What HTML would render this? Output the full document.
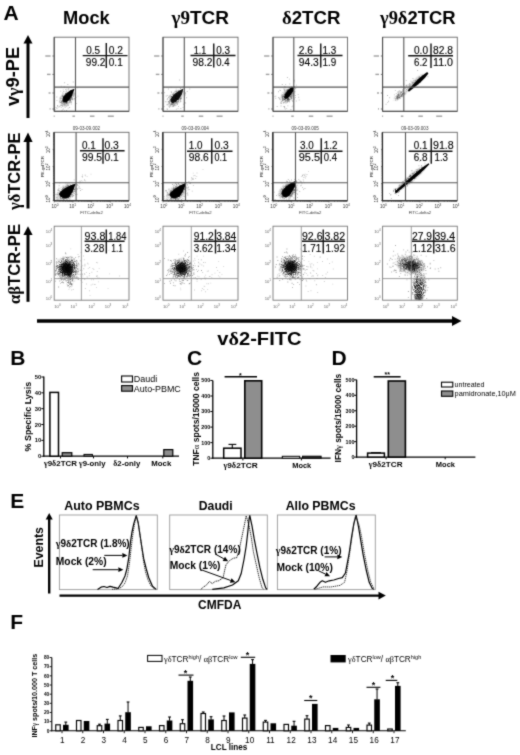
<!DOCTYPE html>
<html><head><meta charset="utf-8"><style>
html,body{margin:0;padding:0;background:#fff;}
svg{display:block;will-change:transform;}
</style></head><body>
<svg width="520" height="755" viewBox="0 0 520 755">
<defs><filter id="grain" color-interpolation-filters="sRGB" x="-10%" y="-10%" width="120%" height="120%"><feTurbulence type="fractalNoise" baseFrequency="1.1" numOctaves="1" seed="4" result="n"/><feColorMatrix in="n" type="matrix" values="0 0 0 0 0  0 0 0 0 0  0 0 0 0 0  0 0 0 4 -1.5" result="m"/><feComposite in="SourceGraphic" in2="m" operator="in"/></filter><filter id="soft" color-interpolation-filters="sRGB" x="0" y="0" width="520" height="755" filterUnits="userSpaceOnUse"><feConvolveMatrix order="3" kernelMatrix="0.03 0.09 0.03 0.09 0.52 0.09 0.03 0.09 0.03" edgeMode="duplicate"/></filter><filter id="bl4" x="-50%" y="-50%" width="200%" height="200%"><feGaussianBlur stdDeviation="0.4"/></filter><filter id="bl5" x="-50%" y="-50%" width="200%" height="200%"><feGaussianBlur stdDeviation="0.5"/></filter><filter id="bl6" x="-50%" y="-50%" width="200%" height="200%"><feGaussianBlur stdDeviation="0.6"/></filter><filter id="bl7" x="-50%" y="-50%" width="200%" height="200%"><feGaussianBlur stdDeviation="0.7"/></filter><filter id="bl10" x="-50%" y="-50%" width="200%" height="200%"><feGaussianBlur stdDeviation="1.0"/></filter><filter id="bl12" x="-50%" y="-50%" width="200%" height="200%"><feGaussianBlur stdDeviation="1.2"/></filter><radialGradient id="rg"><stop offset="0" stop-color="#000" stop-opacity="1"/><stop offset="0.5" stop-color="#000" stop-opacity="0.9"/><stop offset="0.75" stop-color="#000" stop-opacity="0.45"/><stop offset="1" stop-color="#000" stop-opacity="0"/></radialGradient><clipPath id="cp00"><rect x="54.2" y="37.2" width="74.8" height="74.1"/></clipPath><clipPath id="cp01"><rect x="163" y="37.2" width="75" height="74.1"/></clipPath><clipPath id="cp02"><rect x="273" y="37.2" width="74.5" height="74.1"/></clipPath><clipPath id="cp03"><rect x="382.6" y="37.2" width="74.69999999999999" height="74.1"/></clipPath><clipPath id="cp10"><rect x="54.2" y="132.3" width="74.8" height="68.19999999999999"/></clipPath><clipPath id="cp11"><rect x="163" y="132.3" width="75" height="68.19999999999999"/></clipPath><clipPath id="cp12"><rect x="273" y="132.3" width="74.5" height="68.19999999999999"/></clipPath><clipPath id="cp13"><rect x="382.6" y="132.3" width="74.69999999999999" height="68.19999999999999"/></clipPath><clipPath id="cp20"><rect x="54.2" y="226.2" width="74.8" height="74.0"/></clipPath><clipPath id="cp21"><rect x="163" y="226.2" width="75" height="74.0"/></clipPath><clipPath id="cp22"><rect x="273" y="226.2" width="74.5" height="74.0"/></clipPath><clipPath id="cp23"><rect x="382.6" y="226.2" width="74.69999999999999" height="74.0"/></clipPath></defs>
<rect width="520" height="755" fill="#fff"/>
<g filter="url(#soft)">
<rect width="520" height="755" fill="#fff"/>
<text x="3.6" y="19.9" font-size="21" text-anchor="start" fill="#000"><tspan style='font-family:"Liberation Sans", sans-serif;font-weight:bold;'>A</tspan></text>
<text x="63" y="24" font-size="18" text-anchor="start" fill="#000" textLength="46.7" lengthAdjust="spacingAndGlyphs"><tspan style='font-family:"Liberation Sans", sans-serif;font-weight:bold;'>Mock</tspan></text>
<text x="171.5" y="24" font-size="18" text-anchor="start" fill="#000" textLength="57.5" lengthAdjust="spacingAndGlyphs"><tspan style='font-family:"Liberation Serif", serif;font-weight:bold;'>γ9</tspan><tspan style='font-family:"Liberation Sans", sans-serif;font-weight:bold;'>TCR</tspan></text>
<text x="282" y="24" font-size="18" text-anchor="start" fill="#000" textLength="58.5" lengthAdjust="spacingAndGlyphs"><tspan style='font-family:"Liberation Serif", serif;font-weight:bold;'>δ</tspan><tspan style='font-family:"Liberation Sans", sans-serif;font-weight:bold;'>2TCR</tspan></text>
<text x="380" y="24" font-size="18" text-anchor="start" fill="#000" textLength="75.6" lengthAdjust="spacingAndGlyphs"><tspan style='font-family:"Liberation Serif", serif;font-weight:bold;'>γ9δ</tspan><tspan style='font-family:"Liberation Sans", sans-serif;font-weight:bold;'>2TCR</tspan></text>
<text x="18.8" y="106" font-size="17.5" text-anchor="start" fill="#000" textLength="59" lengthAdjust="spacingAndGlyphs" transform="rotate(-90 18.8 106)"><tspan style='font-family:"Liberation Sans", sans-serif;font-weight:bold;'>v</tspan><tspan style='font-family:"Liberation Serif", serif;font-weight:bold;'>γ</tspan><tspan style='font-family:"Liberation Sans", sans-serif;font-weight:bold;'>9-PE</tspan></text>
<text x="19.9" y="210" font-size="16.5" text-anchor="start" fill="#000" textLength="77.4" lengthAdjust="spacingAndGlyphs" transform="rotate(-90 19.9 210)"><tspan style='font-family:"Liberation Serif", serif;font-weight:bold;'>γδ</tspan><tspan style='font-family:"Liberation Sans", sans-serif;font-weight:bold;'>TCR-PE</tspan></text>
<text x="19.9" y="304" font-size="16.5" text-anchor="start" fill="#000" textLength="80" lengthAdjust="spacingAndGlyphs" transform="rotate(-90 19.9 304)"><tspan style='font-family:"Liberation Serif", serif;font-weight:bold;'>αβ</tspan><tspan style='font-family:"Liberation Sans", sans-serif;font-weight:bold;'>TCR-PE</tspan></text>
<line x1="28" y1="42.5" x2="28" y2="118" stroke="#000" stroke-width="3"/>
<polygon points="28.0,35.0 23.5,43.5 32.5,43.5" fill="#000"/>
<line x1="28" y1="141" x2="28" y2="208.5" stroke="#000" stroke-width="3"/>
<polygon points="28.0,132.6 23.4,142.0 32.6,142.0" fill="#000"/>
<line x1="28" y1="234" x2="28" y2="301.8" stroke="#000" stroke-width="3"/>
<polygon points="28.0,226.3 23.4,235.0 32.6,235.0" fill="#000"/>
<line x1="37" y1="321" x2="453" y2="321" stroke="#000" stroke-width="3.4"/>
<polygon points="461.5,321.0 452.0,316.0 452.0,326.0" fill="#000"/>
<text x="217.3" y="344.7" font-size="18.5" text-anchor="start" fill="#000" textLength="84.3" lengthAdjust="spacingAndGlyphs"><tspan style='font-family:"Liberation Sans", sans-serif;font-weight:bold;'>v</tspan><tspan style='font-family:"Liberation Serif", serif;font-weight:bold;'>δ</tspan><tspan style='font-family:"Liberation Sans", sans-serif;font-weight:bold;'>2-FITC</tspan></text>
<g clip-path="url(#cp00)">
<path d="M66.6 101.5h0.9v0.9h-0.9zM63.8 99.1h0.9v0.9h-0.9zM61.3 102.9h0.9v0.9h-0.9zM71.8 94.3h0.9v0.9h-0.9zM70.9 94.2h0.9v0.9h-0.9zM68.0 97.3h0.9v0.9h-0.9zM62.1 109.7h0.9v0.9h-0.9zM69.6 97.6h0.9v0.9h-0.9zM60.6 102.0h0.9v0.9h-0.9zM66.9 97.1h0.9v0.9h-0.9zM65.6 94.3h0.9v0.9h-0.9zM68.4 98.3h0.9v0.9h-0.9zM69.2 107.0h0.9v0.9h-0.9zM72.3 99.3h0.9v0.9h-0.9zM60.7 99.9h0.9v0.9h-0.9zM64.0 100.2h0.9v0.9h-0.9zM69.2 96.3h0.9v0.9h-0.9zM60.6 98.4h0.9v0.9h-0.9zM68.0 104.9h0.9v0.9h-0.9zM63.4 103.6h0.9v0.9h-0.9zM62.3 92.5h0.9v0.9h-0.9zM70.6 102.2h0.9v0.9h-0.9zM56.5 108.1h0.9v0.9h-0.9zM62.5 97.0h0.9v0.9h-0.9zM67.6 96.1h0.9v0.9h-0.9zM62.8 108.6h0.9v0.9h-0.9zM71.8 98.0h0.9v0.9h-0.9zM72.9 92.5h0.9v0.9h-0.9zM61.7 94.5h0.9v0.9h-0.9zM66.1 93.9h0.9v0.9h-0.9zM59.5 97.6h0.9v0.9h-0.9zM60.0 102.2h0.9v0.9h-0.9zM63.8 86.5h0.9v0.9h-0.9zM60.8 106.9h0.9v0.9h-0.9zM73.7 93.1h0.9v0.9h-0.9zM64.6 94.9h0.9v0.9h-0.9zM64.7 107.2h0.9v0.9h-0.9zM70.8 93.6h0.9v0.9h-0.9zM68.3 98.8h0.9v0.9h-0.9zM74.4 92.4h0.9v0.9h-0.9zM69.8 97.7h0.9v0.9h-0.9zM64.0 110.4h0.9v0.9h-0.9zM71.5 95.4h0.9v0.9h-0.9zM55.6 107.1h0.9v0.9h-0.9zM62.8 89.4h0.9v0.9h-0.9zM68.7 102.6h0.9v0.9h-0.9zM66.2 110.0h0.9v0.9h-0.9zM67.5 95.6h0.9v0.9h-0.9zM69.4 99.0h0.9v0.9h-0.9zM70.3 101.4h0.9v0.9h-0.9zM61.7 101.0h0.9v0.9h-0.9zM70.1 93.6h0.9v0.9h-0.9zM65.6 105.9h0.9v0.9h-0.9zM70.2 90.1h0.9v0.9h-0.9zM59.7 105.4h0.9v0.9h-0.9zM64.1 98.7h0.9v0.9h-0.9zM67.9 88.8h0.9v0.9h-0.9zM66.4 88.8h0.9v0.9h-0.9zM64.8 104.6h0.9v0.9h-0.9zM73.4 95.4h0.9v0.9h-0.9zM67.7 97.4h0.9v0.9h-0.9zM68.4 99.6h0.9v0.9h-0.9zM66.1 100.5h0.9v0.9h-0.9zM68.1 95.9h0.9v0.9h-0.9zM70.9 96.5h0.9v0.9h-0.9zM75.1 89.5h0.9v0.9h-0.9zM62.8 99.9h0.9v0.9h-0.9zM69.0 101.4h0.9v0.9h-0.9zM65.8 101.6h0.9v0.9h-0.9zM64.2 82.3h0.9v0.9h-0.9zM62.1 105.2h0.9v0.9h-0.9zM68.3 97.4h0.9v0.9h-0.9zM66.4 102.8h0.9v0.9h-0.9zM65.1 95.9h0.9v0.9h-0.9zM76.9 87.4h0.9v0.9h-0.9zM63.2 101.3h0.9v0.9h-0.9zM64.7 99.8h0.9v0.9h-0.9zM65.8 90.4h0.9v0.9h-0.9zM68.9 101.8h0.9v0.9h-0.9zM74.5 98.6h0.9v0.9h-0.9zM57.7 106.5h0.9v0.9h-0.9zM66.6 102.3h0.9v0.9h-0.9zM60.8 85.7h0.9v0.9h-0.9zM65.1 89.2h0.9v0.9h-0.9zM63.3 91.1h0.9v0.9h-0.9zM70.7 101.2h0.9v0.9h-0.9zM65.9 100.1h0.9v0.9h-0.9zM69.5 95.1h0.9v0.9h-0.9zM70.8 103.5h0.9v0.9h-0.9zM69.0 92.6h0.9v0.9h-0.9zM72.8 81.6h0.9v0.9h-0.9zM68.6 93.4h0.9v0.9h-0.9zM68.8 100.1h0.9v0.9h-0.9zM68.9 99.4h0.9v0.9h-0.9zM64.9 93.0h0.9v0.9h-0.9zM56.5 99.9h0.9v0.9h-0.9zM73.5 94.4h0.9v0.9h-0.9zM68.4 88.7h0.9v0.9h-0.9zM61.8 95.6h0.9v0.9h-0.9zM74.5 99.3h0.9v0.9h-0.9zM67.7 107.7h0.9v0.9h-0.9zM69.2 93.3h0.9v0.9h-0.9zM63.3 97.6h0.9v0.9h-0.9zM68.9 97.9h0.9v0.9h-0.9zM68.3 88.3h0.9v0.9h-0.9zM75.6 97.2h0.9v0.9h-0.9zM71.0 90.9h0.9v0.9h-0.9zM66.4 105.4h0.9v0.9h-0.9zM66.7 98.6h0.9v0.9h-0.9zM70.6 90.8h0.9v0.9h-0.9zM55.2 109.4h0.9v0.9h-0.9zM61.2 110.5h0.9v0.9h-0.9zM64.9 95.5h0.9v0.9h-0.9zM68.7 101.2h0.9v0.9h-0.9zM70.8 102.1h0.9v0.9h-0.9zM69.2 102.0h0.9v0.9h-0.9zM77.5 95.7h0.9v0.9h-0.9zM66.2 104.7h0.9v0.9h-0.9zM60.8 105.0h0.9v0.9h-0.9zM64.9 99.7h0.9v0.9h-0.9zM64.2 102.5h0.9v0.9h-0.9zM73.2 89.8h0.9v0.9h-0.9zM71.5 98.9h0.9v0.9h-0.9zM60.6 96.3h0.9v0.9h-0.9zM67.3 104.6h0.9v0.9h-0.9zM57.0 105.5h0.9v0.9h-0.9zM72.7 95.9h0.9v0.9h-0.9zM68.7 101.0h0.9v0.9h-0.9zM62.3 94.6h0.9v0.9h-0.9zM57.2 105.0h0.9v0.9h-0.9zM67.5 92.5h0.9v0.9h-0.9zM59.4 101.2h0.9v0.9h-0.9zM59.2 106.3h0.9v0.9h-0.9zM62.3 105.8h0.9v0.9h-0.9zM56.4 96.6h0.9v0.9h-0.9zM67.8 94.3h0.9v0.9h-0.9zM65.4 96.0h0.9v0.9h-0.9zM71.6 96.9h0.9v0.9h-0.9zM69.6 96.3h0.9v0.9h-0.9zM73.5 93.8h0.9v0.9h-0.9zM60.3 90.7h0.9v0.9h-0.9zM74.0 97.9h0.9v0.9h-0.9zM62.9 99.0h0.9v0.9h-0.9zM67.4 84.0h0.9v0.9h-0.9zM76.2 103.2h0.9v0.9h-0.9zM64.5 105.4h0.9v0.9h-0.9zM73.0 88.8h0.9v0.9h-0.9zM71.2 98.5h0.9v0.9h-0.9zM61.8 103.2h0.9v0.9h-0.9zM69.9 99.6h0.9v0.9h-0.9zM65.0 98.4h0.9v0.9h-0.9z" fill="#000" fill-opacity="0.3"/>
<ellipse cx="66.8" cy="98.3" rx="10.5" ry="6.5" fill="url(#rg)" opacity="0.8" transform="rotate(-50 66.8 98.3)" filter="url(#grain)"/>
<polygon points="74.6,88.8 70.5,90.3 66.5,93.2 63.2,96.8 62.5,100.0 63.5,102.3 66.2,102.5 69.2,100.0 72.2,95.2 74.6,88.8" fill="#000" filter="url(#bl5)"/>
</g>
<rect x="54.2" y="37.2" width="74.8" height="74.1" fill="none" stroke="#666" stroke-width="0.9"/>
<line x1="75.5" y1="37.2" x2="75.5" y2="111.3" stroke="#555" stroke-width="1.1"/>
<line x1="54.2" y1="87.1" x2="129" y2="87.1" stroke="#555" stroke-width="1.1"/>
<g clip-path="url(#cp01)">
<path d="M169.1 103.2h0.9v0.9h-0.9zM178.5 94.8h0.9v0.9h-0.9zM168.1 101.0h0.9v0.9h-0.9zM189.3 88.6h0.9v0.9h-0.9zM167.9 88.5h0.9v0.9h-0.9zM178.7 97.2h0.9v0.9h-0.9zM182.8 91.6h0.9v0.9h-0.9zM176.1 100.8h0.9v0.9h-0.9zM173.3 95.4h0.9v0.9h-0.9zM186.2 97.3h0.9v0.9h-0.9zM166.5 104.3h0.9v0.9h-0.9zM176.3 98.1h0.9v0.9h-0.9zM169.5 98.3h0.9v0.9h-0.9zM186.7 91.1h0.9v0.9h-0.9zM164.9 101.3h0.9v0.9h-0.9zM184.9 93.1h0.9v0.9h-0.9zM184.7 92.0h0.9v0.9h-0.9zM171.9 104.2h0.9v0.9h-0.9zM176.1 100.8h0.9v0.9h-0.9zM171.1 102.4h0.9v0.9h-0.9zM177.7 97.7h0.9v0.9h-0.9zM177.8 96.4h0.9v0.9h-0.9zM176.0 102.9h0.9v0.9h-0.9zM171.8 96.5h0.9v0.9h-0.9zM172.0 102.2h0.9v0.9h-0.9zM174.6 100.0h0.9v0.9h-0.9zM175.1 99.5h0.9v0.9h-0.9zM169.5 96.2h0.9v0.9h-0.9zM179.9 99.8h0.9v0.9h-0.9zM175.6 96.3h0.9v0.9h-0.9zM172.9 94.0h0.9v0.9h-0.9zM167.0 108.8h0.9v0.9h-0.9zM173.3 105.8h0.9v0.9h-0.9zM175.9 108.7h0.9v0.9h-0.9zM168.1 97.1h0.9v0.9h-0.9zM173.3 104.4h0.9v0.9h-0.9zM177.1 97.0h0.9v0.9h-0.9zM183.0 93.4h0.9v0.9h-0.9zM176.5 100.8h0.9v0.9h-0.9zM184.6 93.3h0.9v0.9h-0.9zM174.8 90.8h0.9v0.9h-0.9zM176.5 101.8h0.9v0.9h-0.9zM177.1 103.5h0.9v0.9h-0.9zM180.1 98.5h0.9v0.9h-0.9zM182.6 107.2h0.9v0.9h-0.9zM178.8 92.1h0.9v0.9h-0.9zM184.0 105.8h0.9v0.9h-0.9zM176.2 103.2h0.9v0.9h-0.9zM178.5 94.0h0.9v0.9h-0.9zM170.4 105.5h0.9v0.9h-0.9zM179.9 100.4h0.9v0.9h-0.9zM177.7 95.1h0.9v0.9h-0.9zM179.9 96.2h0.9v0.9h-0.9zM175.5 98.1h0.9v0.9h-0.9zM175.9 102.2h0.9v0.9h-0.9zM168.0 102.6h0.9v0.9h-0.9zM169.4 94.9h0.9v0.9h-0.9zM165.7 95.6h0.9v0.9h-0.9zM173.7 104.1h0.9v0.9h-0.9zM176.6 96.0h0.9v0.9h-0.9zM168.6 96.2h0.9v0.9h-0.9zM183.7 91.2h0.9v0.9h-0.9zM175.8 91.0h0.9v0.9h-0.9zM167.3 94.9h0.9v0.9h-0.9zM180.9 97.7h0.9v0.9h-0.9zM166.6 108.5h0.9v0.9h-0.9zM170.8 90.9h0.9v0.9h-0.9zM167.0 98.3h0.9v0.9h-0.9zM175.5 99.6h0.9v0.9h-0.9zM179.5 97.8h0.9v0.9h-0.9zM184.7 94.6h0.9v0.9h-0.9zM167.4 104.3h0.9v0.9h-0.9zM166.4 101.4h0.9v0.9h-0.9zM174.2 99.4h0.9v0.9h-0.9zM170.9 92.1h0.9v0.9h-0.9zM169.4 105.3h0.9v0.9h-0.9zM172.6 99.2h0.9v0.9h-0.9zM171.6 97.2h0.9v0.9h-0.9zM178.6 96.4h0.9v0.9h-0.9zM171.8 97.6h0.9v0.9h-0.9zM164.2 92.3h0.9v0.9h-0.9zM170.7 104.1h0.9v0.9h-0.9zM169.1 107.2h0.9v0.9h-0.9zM170.2 94.4h0.9v0.9h-0.9zM172.4 99.4h0.9v0.9h-0.9zM178.5 98.4h0.9v0.9h-0.9zM171.4 96.8h0.9v0.9h-0.9zM173.7 99.6h0.9v0.9h-0.9zM178.5 96.1h0.9v0.9h-0.9zM166.8 98.9h0.9v0.9h-0.9zM170.4 98.8h0.9v0.9h-0.9zM169.6 104.4h0.9v0.9h-0.9zM172.9 101.8h0.9v0.9h-0.9zM175.2 95.2h0.9v0.9h-0.9zM182.8 86.3h0.9v0.9h-0.9zM179.4 93.8h0.9v0.9h-0.9zM170.6 86.7h0.9v0.9h-0.9zM172.3 103.5h0.9v0.9h-0.9zM185.2 102.5h0.9v0.9h-0.9zM180.3 101.0h0.9v0.9h-0.9zM180.9 97.8h0.9v0.9h-0.9zM176.0 96.0h0.9v0.9h-0.9zM172.8 93.4h0.9v0.9h-0.9zM175.7 90.2h0.9v0.9h-0.9zM183.0 103.7h0.9v0.9h-0.9zM173.7 100.2h0.9v0.9h-0.9zM179.3 93.2h0.9v0.9h-0.9zM172.1 103.9h0.9v0.9h-0.9zM179.4 98.0h0.9v0.9h-0.9zM177.6 107.9h0.9v0.9h-0.9zM181.3 90.6h0.9v0.9h-0.9zM174.1 96.5h0.9v0.9h-0.9zM177.7 89.8h0.9v0.9h-0.9zM175.5 94.2h0.9v0.9h-0.9zM174.2 104.6h0.9v0.9h-0.9zM179.9 92.2h0.9v0.9h-0.9zM174.6 104.7h0.9v0.9h-0.9zM175.4 100.1h0.9v0.9h-0.9zM184.6 94.4h0.9v0.9h-0.9zM180.4 108.1h0.9v0.9h-0.9zM177.3 101.2h0.9v0.9h-0.9zM171.7 102.2h0.9v0.9h-0.9zM175.7 88.7h0.9v0.9h-0.9zM177.6 91.7h0.9v0.9h-0.9zM173.2 98.5h0.9v0.9h-0.9zM170.2 96.6h0.9v0.9h-0.9zM169.5 94.9h0.9v0.9h-0.9zM175.3 100.2h0.9v0.9h-0.9zM175.6 96.0h0.9v0.9h-0.9zM171.4 104.1h0.9v0.9h-0.9zM178.1 105.9h0.9v0.9h-0.9zM177.2 94.8h0.9v0.9h-0.9zM170.1 99.5h0.9v0.9h-0.9zM169.5 102.8h0.9v0.9h-0.9zM177.5 99.0h0.9v0.9h-0.9zM184.2 102.0h0.9v0.9h-0.9zM171.7 102.6h0.9v0.9h-0.9zM179.2 79.6h0.9v0.9h-0.9zM173.0 102.1h0.9v0.9h-0.9zM176.6 99.4h0.9v0.9h-0.9zM174.8 101.3h0.9v0.9h-0.9zM177.4 100.9h0.9v0.9h-0.9zM163.7 106.2h0.9v0.9h-0.9zM170.9 96.1h0.9v0.9h-0.9zM172.5 106.1h0.9v0.9h-0.9zM174.1 104.1h0.9v0.9h-0.9zM178.6 96.1h0.9v0.9h-0.9zM176.2 96.1h0.9v0.9h-0.9zM168.7 106.1h0.9v0.9h-0.9zM174.5 95.2h0.9v0.9h-0.9zM176.7 101.6h0.9v0.9h-0.9zM173.2 105.3h0.9v0.9h-0.9zM180.1 88.0h0.9v0.9h-0.9zM174.6 97.9h0.9v0.9h-0.9z" fill="#000" fill-opacity="0.3"/>
<ellipse cx="175.5" cy="98.5" rx="10.5" ry="6.5" fill="url(#rg)" opacity="0.8" transform="rotate(-50 175.5 98.5)" filter="url(#grain)"/>
<polygon points="183.5,88.6 178.5,91.0 174.0,94.5 171.0,98.5 170.5,101.5 172.5,103.0 175.5,102.0 179.0,98.5 182.0,94.0 183.5,88.6" fill="#000" filter="url(#bl7)" opacity="0.9"/>
</g>
<rect x="163" y="37.2" width="75" height="74.1" fill="none" stroke="#666" stroke-width="0.9"/>
<line x1="184.3" y1="37.2" x2="184.3" y2="111.3" stroke="#555" stroke-width="1.1"/>
<line x1="163" y1="87.1" x2="238" y2="87.1" stroke="#555" stroke-width="1.1"/>
<g clip-path="url(#cp02)">
<path d="M294.3 88.5h0.9v0.9h-0.9zM288.1 89.0h0.9v0.9h-0.9zM286.8 95.5h0.9v0.9h-0.9zM284.8 108.5h0.9v0.9h-0.9zM284.4 86.0h0.9v0.9h-0.9zM289.5 91.3h0.9v0.9h-0.9zM290.0 94.2h0.9v0.9h-0.9zM280.1 102.5h0.9v0.9h-0.9zM290.9 86.3h0.9v0.9h-0.9zM278.0 96.9h0.9v0.9h-0.9zM283.2 102.6h0.9v0.9h-0.9zM295.3 88.0h0.9v0.9h-0.9zM295.8 100.5h0.9v0.9h-0.9zM282.5 96.2h0.9v0.9h-0.9zM291.0 94.3h0.9v0.9h-0.9zM278.7 97.4h0.9v0.9h-0.9zM289.0 94.7h0.9v0.9h-0.9zM280.9 101.5h0.9v0.9h-0.9zM286.4 99.5h0.9v0.9h-0.9zM286.2 95.8h0.9v0.9h-0.9zM289.2 100.2h0.9v0.9h-0.9zM291.3 87.4h0.9v0.9h-0.9zM287.7 89.0h0.9v0.9h-0.9zM289.9 97.2h0.9v0.9h-0.9zM291.7 86.7h0.9v0.9h-0.9zM287.3 96.4h0.9v0.9h-0.9zM280.9 103.1h0.9v0.9h-0.9zM285.5 99.9h0.9v0.9h-0.9zM275.4 95.7h0.9v0.9h-0.9zM288.0 96.0h0.9v0.9h-0.9zM287.8 100.7h0.9v0.9h-0.9zM283.7 95.2h0.9v0.9h-0.9zM283.3 88.6h0.9v0.9h-0.9zM284.1 98.9h0.9v0.9h-0.9zM289.8 90.7h0.9v0.9h-0.9zM285.9 92.1h0.9v0.9h-0.9zM294.0 98.6h0.9v0.9h-0.9zM292.5 105.6h0.9v0.9h-0.9zM284.4 98.8h0.9v0.9h-0.9zM291.2 97.4h0.9v0.9h-0.9zM274.5 95.9h0.9v0.9h-0.9zM292.2 94.6h0.9v0.9h-0.9zM298.7 99.6h0.9v0.9h-0.9zM288.7 95.1h0.9v0.9h-0.9zM292.0 91.8h0.9v0.9h-0.9zM289.3 83.5h0.9v0.9h-0.9zM288.9 90.3h0.9v0.9h-0.9zM298.3 96.8h0.9v0.9h-0.9zM286.0 94.8h0.9v0.9h-0.9zM282.0 95.7h0.9v0.9h-0.9zM286.6 100.5h0.9v0.9h-0.9zM287.3 95.5h0.9v0.9h-0.9zM289.5 98.9h0.9v0.9h-0.9zM288.4 92.5h0.9v0.9h-0.9zM289.1 91.7h0.9v0.9h-0.9zM287.4 105.4h0.9v0.9h-0.9zM285.4 90.4h0.9v0.9h-0.9zM292.5 90.9h0.9v0.9h-0.9zM286.3 107.9h0.9v0.9h-0.9zM291.4 96.3h0.9v0.9h-0.9zM287.2 94.0h0.9v0.9h-0.9zM284.1 106.1h0.9v0.9h-0.9zM286.0 94.5h0.9v0.9h-0.9zM288.6 93.9h0.9v0.9h-0.9zM288.4 91.0h0.9v0.9h-0.9zM279.2 89.7h0.9v0.9h-0.9zM287.6 99.5h0.9v0.9h-0.9zM291.0 87.6h0.9v0.9h-0.9zM292.0 100.5h0.9v0.9h-0.9zM288.2 99.2h0.9v0.9h-0.9zM293.9 87.0h0.9v0.9h-0.9zM289.4 87.2h0.9v0.9h-0.9zM287.5 94.2h0.9v0.9h-0.9zM291.4 98.0h0.9v0.9h-0.9zM294.2 81.4h0.9v0.9h-0.9zM286.4 99.8h0.9v0.9h-0.9zM284.4 102.2h0.9v0.9h-0.9zM288.3 91.8h0.9v0.9h-0.9zM283.6 88.4h0.9v0.9h-0.9zM284.6 87.3h0.9v0.9h-0.9zM282.2 97.5h0.9v0.9h-0.9zM288.3 99.9h0.9v0.9h-0.9zM285.9 93.9h0.9v0.9h-0.9zM294.7 97.1h0.9v0.9h-0.9zM288.2 96.5h0.9v0.9h-0.9zM292.9 89.9h0.9v0.9h-0.9zM290.5 109.0h0.9v0.9h-0.9zM288.9 78.7h0.9v0.9h-0.9zM288.2 96.8h0.9v0.9h-0.9zM293.2 92.4h0.9v0.9h-0.9zM282.1 93.9h0.9v0.9h-0.9zM291.0 97.8h0.9v0.9h-0.9zM278.9 98.1h0.9v0.9h-0.9zM280.0 90.2h0.9v0.9h-0.9zM284.3 95.6h0.9v0.9h-0.9zM286.3 91.2h0.9v0.9h-0.9zM282.0 98.8h0.9v0.9h-0.9zM284.4 93.9h0.9v0.9h-0.9zM289.6 97.5h0.9v0.9h-0.9zM297.7 94.2h0.9v0.9h-0.9zM282.3 98.3h0.9v0.9h-0.9zM283.9 99.1h0.9v0.9h-0.9zM284.3 89.0h0.9v0.9h-0.9zM288.7 93.0h0.9v0.9h-0.9zM280.6 105.6h0.9v0.9h-0.9zM285.2 84.2h0.9v0.9h-0.9zM290.9 91.9h0.9v0.9h-0.9zM290.4 94.3h0.9v0.9h-0.9zM291.4 88.2h0.9v0.9h-0.9zM289.0 89.9h0.9v0.9h-0.9zM287.0 89.5h0.9v0.9h-0.9zM292.6 100.9h0.9v0.9h-0.9zM288.2 92.7h0.9v0.9h-0.9zM279.5 99.1h0.9v0.9h-0.9zM291.0 97.1h0.9v0.9h-0.9zM290.5 94.8h0.9v0.9h-0.9zM291.5 99.5h0.9v0.9h-0.9zM283.4 95.9h0.9v0.9h-0.9zM290.7 91.1h0.9v0.9h-0.9zM283.8 95.3h0.9v0.9h-0.9zM288.1 98.5h0.9v0.9h-0.9zM284.1 90.3h0.9v0.9h-0.9zM289.3 93.8h0.9v0.9h-0.9zM285.6 102.7h0.9v0.9h-0.9zM284.6 95.9h0.9v0.9h-0.9zM294.8 95.1h0.9v0.9h-0.9zM285.7 100.2h0.9v0.9h-0.9zM291.5 106.4h0.9v0.9h-0.9zM289.1 101.3h0.9v0.9h-0.9zM287.2 101.0h0.9v0.9h-0.9zM286.9 77.1h0.9v0.9h-0.9zM286.9 99.1h0.9v0.9h-0.9zM284.2 94.1h0.9v0.9h-0.9zM295.9 84.7h0.9v0.9h-0.9zM283.3 106.2h0.9v0.9h-0.9zM284.0 107.4h0.9v0.9h-0.9zM285.1 98.8h0.9v0.9h-0.9zM292.4 89.4h0.9v0.9h-0.9zM275.3 97.8h0.9v0.9h-0.9zM294.3 91.5h0.9v0.9h-0.9zM286.7 102.0h0.9v0.9h-0.9zM291.2 94.7h0.9v0.9h-0.9zM276.7 106.1h0.9v0.9h-0.9zM293.2 92.9h0.9v0.9h-0.9zM281.8 84.1h0.9v0.9h-0.9zM289.3 96.0h0.9v0.9h-0.9zM293.9 79.8h0.9v0.9h-0.9zM285.7 97.2h0.9v0.9h-0.9zM288.9 89.7h0.9v0.9h-0.9zM288.8 87.4h0.9v0.9h-0.9zM286.1 92.6h0.9v0.9h-0.9zM285.1 92.7h0.9v0.9h-0.9zM284.3 106.7h0.9v0.9h-0.9zM286.2 92.4h0.9v0.9h-0.9zM291.2 97.2h0.9v0.9h-0.9zM282.6 100.1h0.9v0.9h-0.9zM291.0 94.2h0.9v0.9h-0.9zM278.1 91.3h0.9v0.9h-0.9z" fill="#000" fill-opacity="0.3"/>
<ellipse cx="287.9" cy="95.0" rx="10.5" ry="6.5" fill="url(#rg)" opacity="0.8" transform="rotate(-50 287.9 95.0)" filter="url(#grain)"/>
<polygon points="294.5,86.3 291.0,87.5 287.5,90.5 284.8,94.5 284.0,97.5 285.5,99.0 288.0,98.0 291.0,94.5 293.5,90.5 294.5,86.3" fill="#000" filter="url(#bl5)"/>
</g>
<rect x="273" y="37.2" width="74.5" height="74.1" fill="none" stroke="#666" stroke-width="0.9"/>
<line x1="293.8" y1="37.2" x2="293.8" y2="111.3" stroke="#555" stroke-width="1.1"/>
<line x1="273" y1="87.1" x2="347.5" y2="87.1" stroke="#555" stroke-width="1.1"/>
<g clip-path="url(#cp03)">
<ellipse cx="400.5" cy="95.5" rx="9.5" ry="3.2" fill="url(#rg)" opacity="0.75" transform="rotate(-35 400.5 95.5)" filter="url(#grain)"/>
<ellipse cx="416.0" cy="82.0" rx="14.0" ry="4.0" fill="url(#rg)" opacity="0.5" transform="rotate(-42 416.0 82.0)" filter="url(#grain)"/>
<polygon points="408.9,91.7 414.2,87.5 420.3,82.4 425.1,77.7 428.4,73.5 427.2,72.1 422.7,75.2 417.7,79.6 412.2,85.4 407.7,90.3" fill="#000" filter="url(#bl4)"/>
<path d="M415.3 80.9h0.9v0.9h-0.9zM404.7 87.4h0.9v0.9h-0.9zM406.4 85.5h0.9v0.9h-0.9zM395.8 92.9h0.9v0.9h-0.9zM399.4 90.5h0.9v0.9h-0.9zM396.9 96.4h0.9v0.9h-0.9zM395.8 97.4h0.9v0.9h-0.9zM397.6 95.0h0.9v0.9h-0.9zM416.1 79.9h0.9v0.9h-0.9zM399.3 92.6h0.9v0.9h-0.9zM403.5 83.7h0.9v0.9h-0.9zM400.5 92.1h0.9v0.9h-0.9zM401.4 91.1h0.9v0.9h-0.9zM411.9 84.9h0.9v0.9h-0.9zM413.0 83.5h0.9v0.9h-0.9zM402.7 89.8h0.9v0.9h-0.9zM402.4 89.1h0.9v0.9h-0.9zM400.9 85.7h0.9v0.9h-0.9zM402.4 90.0h0.9v0.9h-0.9zM397.3 94.0h0.9v0.9h-0.9zM408.8 84.5h0.9v0.9h-0.9zM417.2 70.0h0.9v0.9h-0.9zM400.5 85.7h0.9v0.9h-0.9zM416.8 87.1h0.9v0.9h-0.9zM385.6 103.8h0.9v0.9h-0.9zM408.6 84.2h0.9v0.9h-0.9zM405.8 80.2h0.9v0.9h-0.9zM412.3 83.4h0.9v0.9h-0.9zM404.3 86.7h0.9v0.9h-0.9zM409.3 83.1h0.9v0.9h-0.9zM406.0 85.6h0.9v0.9h-0.9zM387.3 101.9h0.9v0.9h-0.9zM407.8 88.2h0.9v0.9h-0.9zM398.1 93.4h0.9v0.9h-0.9zM410.1 84.5h0.9v0.9h-0.9zM417.8 84.2h0.9v0.9h-0.9zM394.9 89.9h0.9v0.9h-0.9zM414.1 85.7h0.9v0.9h-0.9zM413.5 83.9h0.9v0.9h-0.9zM399.0 90.4h0.9v0.9h-0.9zM410.5 80.7h0.9v0.9h-0.9zM389.2 97.3h0.9v0.9h-0.9zM427.5 76.3h0.9v0.9h-0.9zM398.5 90.8h0.9v0.9h-0.9zM405.7 85.1h0.9v0.9h-0.9zM415.1 79.7h0.9v0.9h-0.9zM398.5 97.3h0.9v0.9h-0.9zM400.8 92.1h0.9v0.9h-0.9zM404.4 87.5h0.9v0.9h-0.9zM406.5 84.6h0.9v0.9h-0.9zM387.1 95.1h0.9v0.9h-0.9zM393.9 94.4h0.9v0.9h-0.9zM404.9 88.3h0.9v0.9h-0.9zM409.5 84.8h0.9v0.9h-0.9zM397.7 91.5h0.9v0.9h-0.9zM388.1 100.8h0.9v0.9h-0.9zM409.6 86.0h0.9v0.9h-0.9zM403.8 88.4h0.9v0.9h-0.9zM412.4 82.2h0.9v0.9h-0.9zM411.7 84.6h0.9v0.9h-0.9zM408.7 89.2h0.9v0.9h-0.9zM400.0 90.9h0.9v0.9h-0.9zM397.4 91.5h0.9v0.9h-0.9zM419.9 81.8h0.9v0.9h-0.9zM406.1 89.0h0.9v0.9h-0.9zM415.5 82.3h0.9v0.9h-0.9zM412.5 78.0h0.9v0.9h-0.9zM400.7 92.9h0.9v0.9h-0.9zM416.4 79.3h0.9v0.9h-0.9zM397.7 92.6h0.9v0.9h-0.9z" fill="#000" fill-opacity="0.3"/>
</g>
<rect x="382.6" y="37.2" width="74.69999999999999" height="74.1" fill="none" stroke="#666" stroke-width="0.9"/>
<line x1="403.8" y1="37.2" x2="403.8" y2="111.3" stroke="#555" stroke-width="1.1"/>
<line x1="382.6" y1="87.1" x2="457.3" y2="87.1" stroke="#555" stroke-width="1.1"/>
<g clip-path="url(#cp10)">
<path d="M60.2 193.2h0.9v0.9h-0.9zM72.4 184.2h0.9v0.9h-0.9zM73.5 189.0h0.9v0.9h-0.9zM64.1 197.3h0.9v0.9h-0.9zM76.7 188.0h0.9v0.9h-0.9zM73.2 187.8h0.9v0.9h-0.9zM68.4 190.1h0.9v0.9h-0.9zM72.2 195.7h0.9v0.9h-0.9zM58.3 199.4h0.9v0.9h-0.9zM65.8 190.1h0.9v0.9h-0.9zM66.8 197.3h0.9v0.9h-0.9zM78.7 186.3h0.9v0.9h-0.9zM63.4 186.3h0.9v0.9h-0.9zM76.7 184.7h0.9v0.9h-0.9zM62.8 189.5h0.9v0.9h-0.9zM62.7 189.6h0.9v0.9h-0.9zM67.9 194.4h0.9v0.9h-0.9zM67.2 194.0h0.9v0.9h-0.9zM57.4 189.8h0.9v0.9h-0.9zM63.0 191.4h0.9v0.9h-0.9zM59.8 196.5h0.9v0.9h-0.9zM64.3 187.8h0.9v0.9h-0.9zM69.6 198.7h0.9v0.9h-0.9zM69.4 189.6h0.9v0.9h-0.9zM66.5 192.2h0.9v0.9h-0.9zM68.1 195.9h0.9v0.9h-0.9zM58.7 185.3h0.9v0.9h-0.9zM63.5 190.2h0.9v0.9h-0.9zM67.9 188.1h0.9v0.9h-0.9zM73.3 200.0h0.9v0.9h-0.9zM57.3 194.0h0.9v0.9h-0.9zM57.4 189.6h0.9v0.9h-0.9zM61.0 195.4h0.9v0.9h-0.9zM71.9 196.3h0.9v0.9h-0.9zM79.6 188.0h0.9v0.9h-0.9zM67.5 193.1h0.9v0.9h-0.9zM80.0 190.0h0.9v0.9h-0.9zM65.9 196.1h0.9v0.9h-0.9zM67.9 192.0h0.9v0.9h-0.9zM59.7 190.8h0.9v0.9h-0.9zM58.9 190.3h0.9v0.9h-0.9zM74.3 189.5h0.9v0.9h-0.9zM65.4 182.6h0.9v0.9h-0.9zM78.4 187.6h0.9v0.9h-0.9zM73.7 179.6h0.9v0.9h-0.9zM70.3 192.2h0.9v0.9h-0.9zM67.8 192.8h0.9v0.9h-0.9zM67.5 183.3h0.9v0.9h-0.9zM55.5 194.0h0.9v0.9h-0.9zM61.4 193.6h0.9v0.9h-0.9zM68.9 192.4h0.9v0.9h-0.9zM64.4 190.7h0.9v0.9h-0.9zM66.6 198.4h0.9v0.9h-0.9zM70.6 190.1h0.9v0.9h-0.9zM69.0 200.0h0.9v0.9h-0.9zM64.9 198.1h0.9v0.9h-0.9zM71.6 187.0h0.9v0.9h-0.9zM67.4 185.6h0.9v0.9h-0.9zM72.2 189.3h0.9v0.9h-0.9zM62.1 195.7h0.9v0.9h-0.9zM66.7 190.7h0.9v0.9h-0.9zM66.0 190.1h0.9v0.9h-0.9zM69.8 190.1h0.9v0.9h-0.9zM59.3 182.7h0.9v0.9h-0.9zM72.5 188.0h0.9v0.9h-0.9zM71.8 194.7h0.9v0.9h-0.9zM67.4 196.2h0.9v0.9h-0.9zM61.0 191.0h0.9v0.9h-0.9zM74.7 191.3h0.9v0.9h-0.9zM76.9 189.2h0.9v0.9h-0.9zM58.3 190.0h0.9v0.9h-0.9zM60.7 193.8h0.9v0.9h-0.9zM63.5 198.8h0.9v0.9h-0.9zM67.2 190.8h0.9v0.9h-0.9zM66.7 191.9h0.9v0.9h-0.9zM69.5 194.8h0.9v0.9h-0.9zM69.3 186.5h0.9v0.9h-0.9zM70.0 196.4h0.9v0.9h-0.9zM56.4 199.4h0.9v0.9h-0.9zM62.2 188.1h0.9v0.9h-0.9zM65.5 198.0h0.9v0.9h-0.9zM76.6 193.8h0.9v0.9h-0.9zM57.5 192.2h0.9v0.9h-0.9zM71.7 194.0h0.9v0.9h-0.9zM63.5 187.8h0.9v0.9h-0.9zM72.7 192.4h0.9v0.9h-0.9zM67.7 189.0h0.9v0.9h-0.9zM70.1 194.5h0.9v0.9h-0.9zM57.9 189.3h0.9v0.9h-0.9zM69.3 193.3h0.9v0.9h-0.9zM68.8 196.2h0.9v0.9h-0.9zM62.8 195.5h0.9v0.9h-0.9zM66.2 196.5h0.9v0.9h-0.9zM74.0 185.1h0.9v0.9h-0.9zM81.6 189.2h0.9v0.9h-0.9zM72.1 191.6h0.9v0.9h-0.9zM75.1 184.6h0.9v0.9h-0.9zM62.5 190.0h0.9v0.9h-0.9zM72.6 195.7h0.9v0.9h-0.9zM70.3 192.2h0.9v0.9h-0.9zM65.6 194.6h0.9v0.9h-0.9zM60.8 191.2h0.9v0.9h-0.9zM59.8 193.7h0.9v0.9h-0.9zM73.8 192.9h0.9v0.9h-0.9zM69.3 187.2h0.9v0.9h-0.9zM56.1 197.3h0.9v0.9h-0.9zM63.8 197.2h0.9v0.9h-0.9zM58.4 187.8h0.9v0.9h-0.9zM63.0 186.8h0.9v0.9h-0.9zM67.5 184.9h0.9v0.9h-0.9zM60.0 193.3h0.9v0.9h-0.9zM72.5 191.4h0.9v0.9h-0.9zM63.4 186.4h0.9v0.9h-0.9zM61.8 193.6h0.9v0.9h-0.9zM62.4 199.3h0.9v0.9h-0.9zM60.2 194.1h0.9v0.9h-0.9zM73.2 195.1h0.9v0.9h-0.9zM64.3 189.0h0.9v0.9h-0.9zM73.6 188.7h0.9v0.9h-0.9zM75.4 194.1h0.9v0.9h-0.9zM70.9 186.6h0.9v0.9h-0.9zM74.1 191.1h0.9v0.9h-0.9zM56.8 198.7h0.9v0.9h-0.9z" fill="#000" fill-opacity="0.3"/>
<path d="M76.1 184.2h0.8v0.8h-0.8zM82.1 176.0h0.8v0.8h-0.8zM75.4 187.9h0.8v0.8h-0.8zM84.1 179.3h0.8v0.8h-0.8zM77.7 185.0h0.8v0.8h-0.8zM90.6 173.8h0.8v0.8h-0.8zM80.7 180.2h0.8v0.8h-0.8zM81.7 180.8h0.8v0.8h-0.8zM84.9 175.5h0.8v0.8h-0.8zM77.3 184.8h0.8v0.8h-0.8zM80.2 181.5h0.8v0.8h-0.8zM83.9 179.9h0.8v0.8h-0.8zM84.7 174.6h0.8v0.8h-0.8zM84.3 179.8h0.8v0.8h-0.8zM79.8 181.5h0.8v0.8h-0.8zM86.7 176.2h0.8v0.8h-0.8zM81.6 175.9h0.8v0.8h-0.8zM77.1 183.9h0.8v0.8h-0.8zM85.3 180.4h0.8v0.8h-0.8zM79.4 183.4h0.8v0.8h-0.8zM82.1 174.6h0.8v0.8h-0.8zM78.5 182.3h0.8v0.8h-0.8zM79.3 180.8h0.8v0.8h-0.8zM82.0 176.6h0.8v0.8h-0.8zM82.1 176.8h0.8v0.8h-0.8z" fill="#000" fill-opacity="0.25"/>
<ellipse cx="66.2" cy="192.7" rx="12.5" ry="8.0" fill="url(#rg)" opacity="0.85" transform="rotate(-40 66.2 192.7)" filter="url(#grain)"/>
<polygon points="75.8,183.4 70.0,185.5 64.5,188.5 60.5,191.8 58.8,194.0 60.5,196.8 64.5,198.6 69.0,197.6 72.5,192.0 75.8,183.4" fill="#000" filter="url(#bl5)"/>
</g>
<rect x="54.2" y="132.3" width="74.8" height="68.19999999999999" fill="none" stroke="#666" stroke-width="0.9"/>
<line x1="76.1" y1="132.3" x2="76.1" y2="200.5" stroke="#555" stroke-width="1.1"/>
<line x1="54.2" y1="182.7" x2="129" y2="182.7" stroke="#555" stroke-width="1.1"/>
<g clip-path="url(#cp11)">
<path d="M175.2 197.3h0.9v0.9h-0.9zM174.3 196.6h0.9v0.9h-0.9zM185.2 185.9h0.9v0.9h-0.9zM177.9 196.2h0.9v0.9h-0.9zM177.7 198.4h0.9v0.9h-0.9zM171.5 192.6h0.9v0.9h-0.9zM183.6 182.1h0.9v0.9h-0.9zM187.9 187.4h0.9v0.9h-0.9zM181.5 183.1h0.9v0.9h-0.9zM187.2 192.6h0.9v0.9h-0.9zM175.6 193.1h0.9v0.9h-0.9zM190.2 182.6h0.9v0.9h-0.9zM172.5 192.8h0.9v0.9h-0.9zM179.9 192.1h0.9v0.9h-0.9zM182.5 198.1h0.9v0.9h-0.9zM176.2 196.1h0.9v0.9h-0.9zM181.5 183.0h0.9v0.9h-0.9zM187.4 194.6h0.9v0.9h-0.9zM166.1 195.4h0.9v0.9h-0.9zM165.6 191.3h0.9v0.9h-0.9zM173.6 184.6h0.9v0.9h-0.9zM183.4 195.8h0.9v0.9h-0.9zM167.0 199.2h0.9v0.9h-0.9zM171.8 195.4h0.9v0.9h-0.9zM178.4 194.7h0.9v0.9h-0.9zM174.7 194.6h0.9v0.9h-0.9zM174.0 195.9h0.9v0.9h-0.9zM170.5 198.5h0.9v0.9h-0.9zM187.0 184.7h0.9v0.9h-0.9zM170.5 199.6h0.9v0.9h-0.9zM166.6 191.7h0.9v0.9h-0.9zM174.7 198.9h0.9v0.9h-0.9zM178.3 191.0h0.9v0.9h-0.9zM168.5 193.5h0.9v0.9h-0.9zM184.5 187.8h0.9v0.9h-0.9zM165.3 190.0h0.9v0.9h-0.9zM170.2 197.9h0.9v0.9h-0.9zM177.2 191.5h0.9v0.9h-0.9zM171.1 189.5h0.9v0.9h-0.9zM175.0 199.3h0.9v0.9h-0.9zM166.7 199.7h0.9v0.9h-0.9zM181.0 195.4h0.9v0.9h-0.9zM176.5 188.7h0.9v0.9h-0.9zM176.5 187.8h0.9v0.9h-0.9zM172.2 196.5h0.9v0.9h-0.9zM167.0 192.5h0.9v0.9h-0.9zM176.5 197.6h0.9v0.9h-0.9zM178.1 199.2h0.9v0.9h-0.9zM166.5 193.7h0.9v0.9h-0.9zM186.0 187.4h0.9v0.9h-0.9zM179.2 185.9h0.9v0.9h-0.9zM181.6 190.3h0.9v0.9h-0.9zM180.1 190.2h0.9v0.9h-0.9zM181.1 185.3h0.9v0.9h-0.9zM167.1 192.3h0.9v0.9h-0.9zM180.6 185.2h0.9v0.9h-0.9zM168.2 194.5h0.9v0.9h-0.9zM170.5 190.7h0.9v0.9h-0.9zM173.2 192.2h0.9v0.9h-0.9zM170.8 192.2h0.9v0.9h-0.9zM175.4 191.3h0.9v0.9h-0.9zM177.9 193.4h0.9v0.9h-0.9zM172.0 184.0h0.9v0.9h-0.9zM171.4 192.7h0.9v0.9h-0.9zM176.1 184.1h0.9v0.9h-0.9zM171.9 195.2h0.9v0.9h-0.9zM177.6 197.9h0.9v0.9h-0.9zM177.0 198.3h0.9v0.9h-0.9zM184.3 189.0h0.9v0.9h-0.9zM179.5 191.2h0.9v0.9h-0.9zM175.6 186.7h0.9v0.9h-0.9zM180.1 186.9h0.9v0.9h-0.9zM182.1 188.9h0.9v0.9h-0.9zM182.2 187.5h0.9v0.9h-0.9zM175.1 195.6h0.9v0.9h-0.9zM172.7 193.1h0.9v0.9h-0.9zM177.5 193.1h0.9v0.9h-0.9zM184.8 186.3h0.9v0.9h-0.9zM191.8 190.7h0.9v0.9h-0.9zM188.8 188.9h0.9v0.9h-0.9zM177.6 192.9h0.9v0.9h-0.9zM173.7 191.1h0.9v0.9h-0.9zM174.3 191.1h0.9v0.9h-0.9zM186.9 187.5h0.9v0.9h-0.9zM168.6 188.4h0.9v0.9h-0.9zM175.1 191.8h0.9v0.9h-0.9zM167.4 194.0h0.9v0.9h-0.9zM176.0 192.6h0.9v0.9h-0.9zM184.7 187.0h0.9v0.9h-0.9zM176.4 191.0h0.9v0.9h-0.9zM186.9 194.4h0.9v0.9h-0.9zM174.8 194.7h0.9v0.9h-0.9zM186.5 192.9h0.9v0.9h-0.9zM170.5 193.6h0.9v0.9h-0.9zM183.7 183.5h0.9v0.9h-0.9zM171.5 195.3h0.9v0.9h-0.9zM192.9 185.2h0.9v0.9h-0.9zM168.4 189.3h0.9v0.9h-0.9zM185.8 183.7h0.9v0.9h-0.9zM171.4 194.4h0.9v0.9h-0.9zM163.7 196.3h0.9v0.9h-0.9zM175.9 189.1h0.9v0.9h-0.9zM180.8 189.5h0.9v0.9h-0.9zM175.5 182.6h0.9v0.9h-0.9zM187.8 186.5h0.9v0.9h-0.9zM175.2 183.2h0.9v0.9h-0.9zM171.7 195.1h0.9v0.9h-0.9zM178.1 183.1h0.9v0.9h-0.9zM165.9 190.0h0.9v0.9h-0.9zM176.3 195.3h0.9v0.9h-0.9zM165.8 198.6h0.9v0.9h-0.9zM183.9 196.2h0.9v0.9h-0.9zM179.2 189.0h0.9v0.9h-0.9zM167.5 195.1h0.9v0.9h-0.9zM173.4 196.5h0.9v0.9h-0.9zM181.1 199.0h0.9v0.9h-0.9zM175.0 188.0h0.9v0.9h-0.9zM187.6 189.3h0.9v0.9h-0.9zM175.0 190.1h0.9v0.9h-0.9zM163.6 197.9h0.9v0.9h-0.9z" fill="#000" fill-opacity="0.3"/>
<path d="M193.9 174.9h0.8v0.8h-0.8zM187.2 184.0h0.8v0.8h-0.8zM193.1 178.8h0.8v0.8h-0.8zM195.3 178.1h0.8v0.8h-0.8zM189.7 183.1h0.8v0.8h-0.8zM188.9 183.3h0.8v0.8h-0.8zM192.4 178.6h0.8v0.8h-0.8zM194.9 175.5h0.8v0.8h-0.8zM196.4 175.9h0.8v0.8h-0.8zM191.4 177.9h0.8v0.8h-0.8zM188.4 181.2h0.8v0.8h-0.8zM190.8 179.7h0.8v0.8h-0.8zM202.6 169.0h0.8v0.8h-0.8zM193.3 175.4h0.8v0.8h-0.8zM188.7 181.2h0.8v0.8h-0.8zM191.1 177.2h0.8v0.8h-0.8zM196.6 172.6h0.8v0.8h-0.8zM192.8 172.7h0.8v0.8h-0.8zM191.8 179.3h0.8v0.8h-0.8zM192.9 179.0h0.8v0.8h-0.8zM192.7 178.2h0.8v0.8h-0.8zM184.2 185.1h0.8v0.8h-0.8zM184.1 188.1h0.8v0.8h-0.8zM192.4 177.7h0.8v0.8h-0.8zM188.1 181.4h0.8v0.8h-0.8z" fill="#000" fill-opacity="0.25"/>
<ellipse cx="176.6" cy="192.5" rx="12.5" ry="8.0" fill="url(#rg)" opacity="0.85" transform="rotate(-40 176.6 192.5)" filter="url(#grain)"/>
<polygon points="186.5,182.4 180.0,185.5 174.5,189.0 170.5,192.5 169.3,194.5 171.0,197.5 174.5,198.6 179.5,196.8 183.2,191.0 186.5,182.4" fill="#000" filter="url(#bl5)"/>
</g>
<rect x="163" y="132.3" width="75" height="68.19999999999999" fill="none" stroke="#666" stroke-width="0.9"/>
<line x1="185.5" y1="132.3" x2="185.5" y2="200.5" stroke="#555" stroke-width="1.1"/>
<line x1="163" y1="182.7" x2="238" y2="182.7" stroke="#555" stroke-width="1.1"/>
<g clip-path="url(#cp12)">
<path d="M303.0 188.8h0.9v0.9h-0.9zM291.5 195.9h0.9v0.9h-0.9zM273.9 191.7h0.9v0.9h-0.9zM282.9 190.3h0.9v0.9h-0.9zM285.6 194.3h0.9v0.9h-0.9zM302.3 175.2h0.9v0.9h-0.9zM289.1 191.9h0.9v0.9h-0.9zM290.6 194.5h0.9v0.9h-0.9zM294.0 178.9h0.9v0.9h-0.9zM288.2 189.5h0.9v0.9h-0.9zM285.5 184.3h0.9v0.9h-0.9zM291.4 189.5h0.9v0.9h-0.9zM281.6 182.7h0.9v0.9h-0.9zM283.9 190.2h0.9v0.9h-0.9zM277.8 194.4h0.9v0.9h-0.9zM293.4 189.9h0.9v0.9h-0.9zM289.4 193.0h0.9v0.9h-0.9zM285.0 194.1h0.9v0.9h-0.9zM289.9 192.9h0.9v0.9h-0.9zM287.3 191.0h0.9v0.9h-0.9zM285.5 189.6h0.9v0.9h-0.9zM301.5 182.9h0.9v0.9h-0.9zM297.0 197.1h0.9v0.9h-0.9zM291.1 179.5h0.9v0.9h-0.9zM294.2 190.9h0.9v0.9h-0.9zM302.0 187.2h0.9v0.9h-0.9zM288.8 183.6h0.9v0.9h-0.9zM284.2 196.0h0.9v0.9h-0.9zM287.8 185.4h0.9v0.9h-0.9zM284.8 191.5h0.9v0.9h-0.9zM289.4 192.0h0.9v0.9h-0.9zM282.9 188.2h0.9v0.9h-0.9zM299.3 191.1h0.9v0.9h-0.9zM290.5 195.2h0.9v0.9h-0.9zM292.3 191.4h0.9v0.9h-0.9zM288.4 186.4h0.9v0.9h-0.9zM294.1 192.1h0.9v0.9h-0.9zM304.5 188.0h0.9v0.9h-0.9zM300.9 184.7h0.9v0.9h-0.9zM284.5 190.6h0.9v0.9h-0.9zM284.0 195.2h0.9v0.9h-0.9zM289.8 193.6h0.9v0.9h-0.9zM300.2 180.8h0.9v0.9h-0.9zM293.1 189.8h0.9v0.9h-0.9zM288.9 189.2h0.9v0.9h-0.9zM285.0 188.9h0.9v0.9h-0.9zM288.9 190.3h0.9v0.9h-0.9zM287.3 186.8h0.9v0.9h-0.9zM288.4 191.2h0.9v0.9h-0.9zM288.2 184.8h0.9v0.9h-0.9zM293.2 192.7h0.9v0.9h-0.9zM290.2 187.2h0.9v0.9h-0.9zM284.7 192.6h0.9v0.9h-0.9zM296.5 193.2h0.9v0.9h-0.9zM285.3 189.7h0.9v0.9h-0.9zM290.7 190.2h0.9v0.9h-0.9zM281.1 192.7h0.9v0.9h-0.9zM289.5 193.9h0.9v0.9h-0.9zM278.7 193.0h0.9v0.9h-0.9zM287.2 184.7h0.9v0.9h-0.9zM289.7 191.9h0.9v0.9h-0.9zM284.5 188.2h0.9v0.9h-0.9zM286.8 190.3h0.9v0.9h-0.9zM287.4 186.8h0.9v0.9h-0.9zM289.0 180.5h0.9v0.9h-0.9zM287.1 192.0h0.9v0.9h-0.9zM291.4 184.7h0.9v0.9h-0.9zM289.3 186.8h0.9v0.9h-0.9zM297.0 193.8h0.9v0.9h-0.9zM287.2 194.5h0.9v0.9h-0.9zM285.9 198.7h0.9v0.9h-0.9zM294.6 185.8h0.9v0.9h-0.9zM283.1 197.7h0.9v0.9h-0.9zM297.4 189.7h0.9v0.9h-0.9zM287.1 181.2h0.9v0.9h-0.9zM288.5 199.1h0.9v0.9h-0.9zM300.3 185.3h0.9v0.9h-0.9zM293.1 185.0h0.9v0.9h-0.9zM281.2 196.3h0.9v0.9h-0.9zM286.9 191.9h0.9v0.9h-0.9zM291.4 187.5h0.9v0.9h-0.9zM290.3 191.8h0.9v0.9h-0.9zM293.4 197.5h0.9v0.9h-0.9zM290.7 189.5h0.9v0.9h-0.9zM285.1 189.9h0.9v0.9h-0.9zM295.7 185.6h0.9v0.9h-0.9zM280.6 194.1h0.9v0.9h-0.9zM286.0 190.2h0.9v0.9h-0.9zM290.5 182.3h0.9v0.9h-0.9zM291.1 189.4h0.9v0.9h-0.9zM281.9 196.6h0.9v0.9h-0.9zM289.0 193.3h0.9v0.9h-0.9zM286.5 194.2h0.9v0.9h-0.9zM276.0 194.9h0.9v0.9h-0.9zM295.3 191.2h0.9v0.9h-0.9zM286.2 189.2h0.9v0.9h-0.9zM287.8 179.1h0.9v0.9h-0.9zM285.7 197.1h0.9v0.9h-0.9zM288.6 184.7h0.9v0.9h-0.9zM286.3 187.4h0.9v0.9h-0.9zM291.0 194.0h0.9v0.9h-0.9zM286.0 180.7h0.9v0.9h-0.9zM287.0 181.6h0.9v0.9h-0.9zM295.3 187.4h0.9v0.9h-0.9zM298.3 178.9h0.9v0.9h-0.9zM291.1 194.7h0.9v0.9h-0.9zM282.6 191.6h0.9v0.9h-0.9zM285.9 192.6h0.9v0.9h-0.9zM283.7 197.7h0.9v0.9h-0.9zM291.2 189.0h0.9v0.9h-0.9zM296.2 182.4h0.9v0.9h-0.9zM293.5 183.4h0.9v0.9h-0.9zM286.5 181.1h0.9v0.9h-0.9zM288.6 189.7h0.9v0.9h-0.9zM283.6 191.3h0.9v0.9h-0.9zM284.1 190.3h0.9v0.9h-0.9zM274.6 199.0h0.9v0.9h-0.9zM283.6 191.8h0.9v0.9h-0.9zM282.0 195.5h0.9v0.9h-0.9zM291.5 186.8h0.9v0.9h-0.9zM289.4 198.1h0.9v0.9h-0.9zM296.0 189.9h0.9v0.9h-0.9zM293.3 184.8h0.9v0.9h-0.9zM290.6 195.6h0.9v0.9h-0.9zM284.7 193.3h0.9v0.9h-0.9zM291.2 190.7h0.9v0.9h-0.9zM289.4 195.8h0.9v0.9h-0.9zM289.2 194.5h0.9v0.9h-0.9zM295.7 188.6h0.9v0.9h-0.9zM288.6 183.9h0.9v0.9h-0.9zM279.2 194.9h0.9v0.9h-0.9zM294.9 194.2h0.9v0.9h-0.9zM282.4 197.7h0.9v0.9h-0.9zM281.4 192.5h0.9v0.9h-0.9z" fill="#000" fill-opacity="0.3"/>
<path d="M302.8 178.9h0.8v0.8h-0.8zM305.1 177.6h0.8v0.8h-0.8zM300.6 181.6h0.8v0.8h-0.8zM306.4 173.9h0.8v0.8h-0.8zM304.1 174.9h0.8v0.8h-0.8zM298.8 180.6h0.8v0.8h-0.8zM303.9 182.5h0.8v0.8h-0.8zM303.1 180.6h0.8v0.8h-0.8zM304.1 176.8h0.8v0.8h-0.8zM304.8 173.7h0.8v0.8h-0.8zM306.7 174.3h0.8v0.8h-0.8zM298.4 183.2h0.8v0.8h-0.8zM305.5 175.7h0.8v0.8h-0.8zM308.1 171.0h0.8v0.8h-0.8zM305.6 176.1h0.8v0.8h-0.8zM301.2 181.6h0.8v0.8h-0.8zM296.6 181.0h0.8v0.8h-0.8zM303.7 174.2h0.8v0.8h-0.8zM300.9 175.9h0.8v0.8h-0.8zM302.1 175.7h0.8v0.8h-0.8zM302.6 174.3h0.8v0.8h-0.8zM304.3 175.3h0.8v0.8h-0.8zM303.2 176.9h0.8v0.8h-0.8zM302.1 175.3h0.8v0.8h-0.8zM294.2 186.4h0.8v0.8h-0.8z" fill="#000" fill-opacity="0.25"/>
<ellipse cx="288.1" cy="190.7" rx="12.5" ry="8.0" fill="url(#rg)" opacity="0.85" transform="rotate(-40 288.1 190.7)" filter="url(#grain)"/>
<polygon points="296.5,180.6 291.0,183.0 286.0,186.5 282.3,190.5 281.6,193.5 283.0,196.5 285.5,197.6 289.0,196.0 292.5,191.0 295.7,185.0 296.5,180.6" fill="#000" filter="url(#bl5)"/>
</g>
<rect x="273" y="132.3" width="74.5" height="68.19999999999999" fill="none" stroke="#666" stroke-width="0.9"/>
<line x1="295.5" y1="132.3" x2="295.5" y2="200.5" stroke="#555" stroke-width="1.1"/>
<line x1="273" y1="182.7" x2="347.5" y2="182.7" stroke="#555" stroke-width="1.1"/>
<g clip-path="url(#cp13)">
<ellipse cx="411.5" cy="178.0" rx="22.0" ry="4.2" fill="url(#rg)" opacity="0.8" transform="rotate(-40.4 411.5 178.0)" filter="url(#grain)"/>
<ellipse cx="396.5" cy="191.0" rx="4.0" ry="3.5" fill="url(#rg)" opacity="0.8" transform="rotate(0 396.5 191.0)" filter="url(#grain)"/>
<polygon points="396.1,192.9 400.3,189.7 409.9,181.9 418.4,175.0 424.8,169.0 429.4,164.2 428.6,163.2 423.1,167.0 416.2,172.4 407.9,179.7 398.7,187.9 394.9,191.5" fill="#000" filter="url(#bl5)"/>
<path d="M399.4 185.8h0.9v0.9h-0.9zM411.2 170.3h0.9v0.9h-0.9zM401.0 183.9h0.9v0.9h-0.9zM399.4 188.4h0.9v0.9h-0.9zM407.2 177.8h0.9v0.9h-0.9zM401.0 188.6h0.9v0.9h-0.9zM404.0 185.2h0.9v0.9h-0.9zM411.6 170.3h0.9v0.9h-0.9zM398.6 188.0h0.9v0.9h-0.9zM414.9 176.3h0.9v0.9h-0.9zM420.1 172.5h0.9v0.9h-0.9zM405.7 181.1h0.9v0.9h-0.9zM417.5 170.0h0.9v0.9h-0.9zM418.5 165.3h0.9v0.9h-0.9zM416.6 171.6h0.9v0.9h-0.9zM390.9 198.0h0.9v0.9h-0.9zM413.3 175.2h0.9v0.9h-0.9zM397.9 187.1h0.9v0.9h-0.9zM424.5 162.5h0.9v0.9h-0.9zM397.2 188.8h0.9v0.9h-0.9zM404.4 179.9h0.9v0.9h-0.9zM402.9 187.7h0.9v0.9h-0.9zM398.0 195.0h0.9v0.9h-0.9zM402.5 181.0h0.9v0.9h-0.9zM419.2 171.8h0.9v0.9h-0.9zM400.3 189.0h0.9v0.9h-0.9zM389.1 193.2h0.9v0.9h-0.9zM421.4 167.1h0.9v0.9h-0.9zM397.1 191.0h0.9v0.9h-0.9zM419.6 169.5h0.9v0.9h-0.9zM390.4 194.0h0.9v0.9h-0.9zM415.7 175.6h0.9v0.9h-0.9zM429.1 160.4h0.9v0.9h-0.9zM404.9 182.4h0.9v0.9h-0.9zM421.1 165.1h0.9v0.9h-0.9zM419.2 160.8h0.9v0.9h-0.9zM417.3 169.4h0.9v0.9h-0.9zM416.0 175.1h0.9v0.9h-0.9zM397.4 188.8h0.9v0.9h-0.9zM413.5 176.9h0.9v0.9h-0.9zM398.6 184.7h0.9v0.9h-0.9zM407.6 179.4h0.9v0.9h-0.9zM395.8 193.5h0.9v0.9h-0.9zM406.7 185.6h0.9v0.9h-0.9zM419.0 170.2h0.9v0.9h-0.9zM415.8 169.2h0.9v0.9h-0.9zM405.6 179.9h0.9v0.9h-0.9zM396.7 189.7h0.9v0.9h-0.9zM410.8 182.0h0.9v0.9h-0.9zM399.6 185.6h0.9v0.9h-0.9zM415.1 174.9h0.9v0.9h-0.9zM409.5 176.8h0.9v0.9h-0.9zM415.8 174.1h0.9v0.9h-0.9zM390.2 194.5h0.9v0.9h-0.9zM393.6 188.5h0.9v0.9h-0.9zM411.6 176.8h0.9v0.9h-0.9zM409.8 175.3h0.9v0.9h-0.9z" fill="#000" fill-opacity="0.3"/>
</g>
<rect x="382.6" y="132.3" width="74.69999999999999" height="68.19999999999999" fill="none" stroke="#666" stroke-width="0.9"/>
<line x1="405.5" y1="132.3" x2="405.5" y2="200.5" stroke="#555" stroke-width="1.1"/>
<line x1="382.6" y1="182.7" x2="457.3" y2="182.7" stroke="#555" stroke-width="1.1"/>
<g clip-path="url(#cp20)">
<path d="M65.5 263.3h0.9v0.9h-0.9zM69.3 273.7h0.9v0.9h-0.9zM78.2 277.4h0.9v0.9h-0.9zM61.6 266.2h0.9v0.9h-0.9zM60.7 271.2h0.9v0.9h-0.9zM79.7 273.8h0.9v0.9h-0.9zM58.4 272.5h0.9v0.9h-0.9zM66.8 271.1h0.9v0.9h-0.9zM78.4 263.8h0.9v0.9h-0.9zM61.3 282.0h0.9v0.9h-0.9zM69.0 264.1h0.9v0.9h-0.9zM67.1 275.7h0.9v0.9h-0.9zM65.9 264.7h0.9v0.9h-0.9zM62.0 281.6h0.9v0.9h-0.9zM55.3 270.3h0.9v0.9h-0.9zM67.0 273.2h0.9v0.9h-0.9zM64.2 272.4h0.9v0.9h-0.9zM72.1 268.2h0.9v0.9h-0.9zM63.8 268.0h0.9v0.9h-0.9zM60.5 267.8h0.9v0.9h-0.9zM64.8 270.6h0.9v0.9h-0.9zM75.5 277.7h0.9v0.9h-0.9zM63.9 273.1h0.9v0.9h-0.9zM68.7 274.2h0.9v0.9h-0.9zM66.9 270.9h0.9v0.9h-0.9zM63.8 264.1h0.9v0.9h-0.9zM72.5 277.6h0.9v0.9h-0.9zM71.1 272.0h0.9v0.9h-0.9zM68.5 266.3h0.9v0.9h-0.9zM55.2 273.5h0.9v0.9h-0.9zM68.1 265.6h0.9v0.9h-0.9zM60.5 277.5h0.9v0.9h-0.9zM55.1 280.7h0.9v0.9h-0.9zM71.0 284.6h0.9v0.9h-0.9zM62.1 269.1h0.9v0.9h-0.9zM63.5 270.2h0.9v0.9h-0.9zM65.4 264.3h0.9v0.9h-0.9zM73.8 264.1h0.9v0.9h-0.9zM63.5 272.8h0.9v0.9h-0.9zM63.3 266.4h0.9v0.9h-0.9zM69.1 266.8h0.9v0.9h-0.9zM58.7 268.5h0.9v0.9h-0.9zM65.4 280.3h0.9v0.9h-0.9zM59.7 275.5h0.9v0.9h-0.9zM61.7 266.9h0.9v0.9h-0.9zM64.7 271.0h0.9v0.9h-0.9zM72.4 280.6h0.9v0.9h-0.9zM62.7 277.8h0.9v0.9h-0.9zM73.3 274.5h0.9v0.9h-0.9zM61.9 275.1h0.9v0.9h-0.9zM66.1 271.5h0.9v0.9h-0.9zM65.1 273.5h0.9v0.9h-0.9zM74.0 276.6h0.9v0.9h-0.9zM65.5 275.7h0.9v0.9h-0.9zM76.2 263.1h0.9v0.9h-0.9zM76.4 260.5h0.9v0.9h-0.9zM70.3 273.1h0.9v0.9h-0.9zM76.4 271.0h0.9v0.9h-0.9zM63.7 264.0h0.9v0.9h-0.9zM58.7 274.2h0.9v0.9h-0.9zM65.3 264.5h0.9v0.9h-0.9zM70.3 264.2h0.9v0.9h-0.9zM64.0 266.2h0.9v0.9h-0.9zM77.6 278.7h0.9v0.9h-0.9zM65.8 259.0h0.9v0.9h-0.9zM68.6 269.7h0.9v0.9h-0.9zM69.1 272.9h0.9v0.9h-0.9zM64.7 275.2h0.9v0.9h-0.9zM72.2 270.6h0.9v0.9h-0.9zM64.2 266.1h0.9v0.9h-0.9zM71.3 262.1h0.9v0.9h-0.9zM65.8 264.3h0.9v0.9h-0.9zM57.7 273.1h0.9v0.9h-0.9zM66.6 269.4h0.9v0.9h-0.9zM72.5 259.5h0.9v0.9h-0.9zM66.4 271.1h0.9v0.9h-0.9zM72.2 262.1h0.9v0.9h-0.9zM71.5 270.6h0.9v0.9h-0.9zM75.6 276.6h0.9v0.9h-0.9zM70.4 283.2h0.9v0.9h-0.9zM66.8 266.4h0.9v0.9h-0.9zM64.6 263.1h0.9v0.9h-0.9zM66.6 257.0h0.9v0.9h-0.9zM66.3 272.0h0.9v0.9h-0.9zM73.2 266.9h0.9v0.9h-0.9zM75.8 265.0h0.9v0.9h-0.9zM65.9 257.0h0.9v0.9h-0.9zM61.9 264.1h0.9v0.9h-0.9zM76.3 272.6h0.9v0.9h-0.9zM59.8 272.6h0.9v0.9h-0.9zM69.9 267.7h0.9v0.9h-0.9zM66.9 267.3h0.9v0.9h-0.9zM63.4 257.9h0.9v0.9h-0.9zM66.2 277.4h0.9v0.9h-0.9zM75.9 267.4h0.9v0.9h-0.9zM62.1 267.9h0.9v0.9h-0.9zM72.5 271.4h0.9v0.9h-0.9zM63.1 271.5h0.9v0.9h-0.9zM65.5 272.5h0.9v0.9h-0.9zM64.2 259.9h0.9v0.9h-0.9zM67.2 274.0h0.9v0.9h-0.9zM59.8 268.5h0.9v0.9h-0.9zM72.4 266.8h0.9v0.9h-0.9zM62.7 282.1h0.9v0.9h-0.9zM72.1 275.7h0.9v0.9h-0.9zM60.8 279.5h0.9v0.9h-0.9zM56.3 265.9h0.9v0.9h-0.9zM71.5 277.6h0.9v0.9h-0.9zM60.9 265.0h0.9v0.9h-0.9zM68.0 257.0h0.9v0.9h-0.9zM70.8 272.7h0.9v0.9h-0.9zM64.0 272.6h0.9v0.9h-0.9zM71.7 271.2h0.9v0.9h-0.9zM70.1 278.8h0.9v0.9h-0.9zM63.8 270.2h0.9v0.9h-0.9zM63.5 275.7h0.9v0.9h-0.9zM64.2 272.2h0.9v0.9h-0.9zM67.7 269.6h0.9v0.9h-0.9zM77.6 268.7h0.9v0.9h-0.9zM75.7 274.4h0.9v0.9h-0.9zM75.1 268.2h0.9v0.9h-0.9zM72.6 274.0h0.9v0.9h-0.9zM62.9 270.9h0.9v0.9h-0.9zM66.0 269.0h0.9v0.9h-0.9zM75.0 264.7h0.9v0.9h-0.9zM56.2 258.3h0.9v0.9h-0.9zM64.0 265.2h0.9v0.9h-0.9zM66.9 272.8h0.9v0.9h-0.9zM77.8 271.1h0.9v0.9h-0.9zM69.7 264.6h0.9v0.9h-0.9zM70.4 277.7h0.9v0.9h-0.9zM75.2 256.9h0.9v0.9h-0.9zM72.4 279.1h0.9v0.9h-0.9zM72.0 259.8h0.9v0.9h-0.9zM64.9 272.9h0.9v0.9h-0.9zM69.4 264.1h0.9v0.9h-0.9zM61.2 275.2h0.9v0.9h-0.9zM58.4 278.2h0.9v0.9h-0.9zM66.9 271.1h0.9v0.9h-0.9zM58.5 265.5h0.9v0.9h-0.9zM71.1 260.0h0.9v0.9h-0.9zM79.8 260.4h0.9v0.9h-0.9zM59.2 269.5h0.9v0.9h-0.9zM69.8 273.8h0.9v0.9h-0.9zM64.5 267.9h0.9v0.9h-0.9zM65.3 265.6h0.9v0.9h-0.9zM68.4 270.2h0.9v0.9h-0.9zM62.9 270.8h0.9v0.9h-0.9zM66.7 268.7h0.9v0.9h-0.9zM73.7 258.4h0.9v0.9h-0.9zM68.4 262.5h0.9v0.9h-0.9zM64.8 278.6h0.9v0.9h-0.9zM60.0 268.6h0.9v0.9h-0.9zM63.1 275.1h0.9v0.9h-0.9zM60.7 258.7h0.9v0.9h-0.9zM70.0 267.0h0.9v0.9h-0.9zM64.8 275.9h0.9v0.9h-0.9zM61.3 266.9h0.9v0.9h-0.9zM67.7 271.8h0.9v0.9h-0.9zM63.6 275.7h0.9v0.9h-0.9zM80.8 266.6h0.9v0.9h-0.9zM78.5 256.0h0.9v0.9h-0.9zM75.6 267.1h0.9v0.9h-0.9zM67.7 267.1h0.9v0.9h-0.9zM62.8 261.2h0.9v0.9h-0.9zM64.3 277.3h0.9v0.9h-0.9zM73.9 267.0h0.9v0.9h-0.9zM63.5 264.8h0.9v0.9h-0.9zM59.3 280.5h0.9v0.9h-0.9zM70.9 269.9h0.9v0.9h-0.9zM63.7 262.8h0.9v0.9h-0.9zM75.0 274.1h0.9v0.9h-0.9zM60.9 275.4h0.9v0.9h-0.9zM59.9 273.2h0.9v0.9h-0.9zM60.8 266.6h0.9v0.9h-0.9zM69.9 271.9h0.9v0.9h-0.9zM73.1 264.0h0.9v0.9h-0.9zM76.7 277.6h0.9v0.9h-0.9zM66.7 272.1h0.9v0.9h-0.9zM61.9 268.2h0.9v0.9h-0.9zM58.6 269.8h0.9v0.9h-0.9zM68.0 277.6h0.9v0.9h-0.9zM72.7 274.3h0.9v0.9h-0.9zM64.5 267.8h0.9v0.9h-0.9zM64.7 270.6h0.9v0.9h-0.9zM54.8 274.0h0.9v0.9h-0.9zM57.0 266.0h0.9v0.9h-0.9zM66.9 266.0h0.9v0.9h-0.9zM77.2 268.6h0.9v0.9h-0.9zM76.6 276.5h0.9v0.9h-0.9zM63.7 271.7h0.9v0.9h-0.9zM74.9 267.1h0.9v0.9h-0.9zM67.4 265.7h0.9v0.9h-0.9zM67.2 267.0h0.9v0.9h-0.9zM67.3 275.5h0.9v0.9h-0.9zM75.5 270.0h0.9v0.9h-0.9zM68.1 274.5h0.9v0.9h-0.9zM65.0 262.6h0.9v0.9h-0.9zM73.7 263.4h0.9v0.9h-0.9zM72.6 263.2h0.9v0.9h-0.9zM78.2 262.7h0.9v0.9h-0.9zM72.1 278.6h0.9v0.9h-0.9zM60.8 278.5h0.9v0.9h-0.9zM61.7 258.2h0.9v0.9h-0.9zM71.3 273.6h0.9v0.9h-0.9zM65.5 253.4h0.9v0.9h-0.9zM66.5 267.3h0.9v0.9h-0.9zM64.4 267.4h0.9v0.9h-0.9zM55.6 265.7h0.9v0.9h-0.9zM78.0 278.9h0.9v0.9h-0.9zM64.5 264.8h0.9v0.9h-0.9zM69.3 275.8h0.9v0.9h-0.9zM71.3 261.9h0.9v0.9h-0.9zM67.8 270.1h0.9v0.9h-0.9zM75.8 276.7h0.9v0.9h-0.9zM70.1 276.8h0.9v0.9h-0.9zM64.3 278.8h0.9v0.9h-0.9zM64.1 271.7h0.9v0.9h-0.9zM72.5 263.5h0.9v0.9h-0.9zM62.4 258.2h0.9v0.9h-0.9zM67.8 268.9h0.9v0.9h-0.9zM64.8 272.3h0.9v0.9h-0.9zM67.3 267.5h0.9v0.9h-0.9zM71.8 280.1h0.9v0.9h-0.9zM64.0 263.3h0.9v0.9h-0.9zM63.0 269.8h0.9v0.9h-0.9zM70.5 263.8h0.9v0.9h-0.9zM73.0 262.8h0.9v0.9h-0.9zM72.0 271.9h0.9v0.9h-0.9zM69.7 282.7h0.9v0.9h-0.9zM65.2 268.2h0.9v0.9h-0.9zM69.8 274.6h0.9v0.9h-0.9zM58.4 270.9h0.9v0.9h-0.9zM62.2 273.1h0.9v0.9h-0.9zM75.3 269.5h0.9v0.9h-0.9zM66.1 270.3h0.9v0.9h-0.9zM70.3 270.2h0.9v0.9h-0.9zM64.3 264.6h0.9v0.9h-0.9zM65.7 276.8h0.9v0.9h-0.9zM66.2 277.6h0.9v0.9h-0.9zM68.5 269.1h0.9v0.9h-0.9zM56.4 265.1h0.9v0.9h-0.9zM74.6 261.1h0.9v0.9h-0.9zM60.6 262.4h0.9v0.9h-0.9zM63.4 273.2h0.9v0.9h-0.9zM70.5 256.5h0.9v0.9h-0.9zM75.9 265.5h0.9v0.9h-0.9zM63.1 279.6h0.9v0.9h-0.9zM66.3 261.5h0.9v0.9h-0.9zM62.8 264.7h0.9v0.9h-0.9zM60.5 267.1h0.9v0.9h-0.9zM72.3 271.4h0.9v0.9h-0.9zM58.2 286.6h0.9v0.9h-0.9zM60.6 269.9h0.9v0.9h-0.9zM67.0 274.0h0.9v0.9h-0.9zM64.8 272.0h0.9v0.9h-0.9zM79.9 269.8h0.9v0.9h-0.9zM60.0 271.2h0.9v0.9h-0.9zM61.8 266.9h0.9v0.9h-0.9zM68.0 271.3h0.9v0.9h-0.9zM65.0 274.5h0.9v0.9h-0.9zM65.6 261.1h0.9v0.9h-0.9zM72.3 266.9h0.9v0.9h-0.9zM74.4 265.1h0.9v0.9h-0.9zM70.4 271.2h0.9v0.9h-0.9zM59.8 278.0h0.9v0.9h-0.9zM55.0 274.9h0.9v0.9h-0.9zM73.6 272.3h0.9v0.9h-0.9zM71.0 266.1h0.9v0.9h-0.9zM66.7 270.6h0.9v0.9h-0.9zM69.4 273.6h0.9v0.9h-0.9zM65.5 264.8h0.9v0.9h-0.9zM63.3 271.8h0.9v0.9h-0.9zM56.4 261.4h0.9v0.9h-0.9zM64.2 265.7h0.9v0.9h-0.9zM65.1 252.6h0.9v0.9h-0.9zM64.7 267.6h0.9v0.9h-0.9zM71.6 256.8h0.9v0.9h-0.9zM64.9 272.2h0.9v0.9h-0.9zM69.9 276.7h0.9v0.9h-0.9zM73.4 262.6h0.9v0.9h-0.9zM70.8 267.1h0.9v0.9h-0.9zM61.8 278.8h0.9v0.9h-0.9zM62.9 263.9h0.9v0.9h-0.9zM64.3 263.9h0.9v0.9h-0.9zM73.1 271.6h0.9v0.9h-0.9zM75.6 271.8h0.9v0.9h-0.9zM63.0 275.7h0.9v0.9h-0.9zM62.7 266.3h0.9v0.9h-0.9zM65.8 269.4h0.9v0.9h-0.9zM74.3 265.4h0.9v0.9h-0.9zM69.0 269.0h0.9v0.9h-0.9z" fill="#000" fill-opacity="0.4"/>
<path d="M68.3 262.7h0.9v0.9h-0.9zM80.3 275.7h0.9v0.9h-0.9zM86.5 276.4h0.9v0.9h-0.9zM83.4 268.3h0.9v0.9h-0.9zM87.7 263.5h0.9v0.9h-0.9zM67.3 269.3h0.9v0.9h-0.9zM66.3 267.7h0.9v0.9h-0.9zM74.2 267.4h0.9v0.9h-0.9zM82.3 265.3h0.9v0.9h-0.9zM77.9 257.4h0.9v0.9h-0.9zM84.5 264.6h0.9v0.9h-0.9zM87.5 247.7h0.9v0.9h-0.9zM73.5 274.3h0.9v0.9h-0.9zM83.9 273.1h0.9v0.9h-0.9zM65.5 274.2h0.9v0.9h-0.9zM84.5 263.8h0.9v0.9h-0.9zM91.4 271.8h0.9v0.9h-0.9zM83.0 268.3h0.9v0.9h-0.9zM89.1 273.0h0.9v0.9h-0.9zM96.0 276.1h0.9v0.9h-0.9zM75.7 270.3h0.9v0.9h-0.9zM93.4 269.0h0.9v0.9h-0.9zM87.2 276.7h0.9v0.9h-0.9zM80.7 252.0h0.9v0.9h-0.9zM84.3 274.1h0.9v0.9h-0.9zM84.4 265.6h0.9v0.9h-0.9zM96.8 271.0h0.9v0.9h-0.9zM75.6 266.0h0.9v0.9h-0.9zM87.0 262.7h0.9v0.9h-0.9zM71.2 289.6h0.9v0.9h-0.9zM98.0 281.4h0.9v0.9h-0.9zM98.6 277.4h0.9v0.9h-0.9zM63.2 282.6h0.9v0.9h-0.9zM97.2 276.5h0.9v0.9h-0.9zM60.1 283.0h0.9v0.9h-0.9zM98.7 267.9h0.9v0.9h-0.9zM84.3 279.0h0.9v0.9h-0.9zM81.8 281.8h0.9v0.9h-0.9zM83.7 278.2h0.9v0.9h-0.9zM83.8 259.3h0.9v0.9h-0.9zM86.0 283.6h0.9v0.9h-0.9zM96.0 287.2h0.9v0.9h-0.9zM89.2 267.0h0.9v0.9h-0.9zM83.0 255.5h0.9v0.9h-0.9zM80.6 280.1h0.9v0.9h-0.9zM57.6 273.9h0.9v0.9h-0.9zM92.4 283.8h0.9v0.9h-0.9zM72.0 266.5h0.9v0.9h-0.9zM61.0 263.3h0.9v0.9h-0.9zM89.0 290.3h0.9v0.9h-0.9zM69.5 284.2h0.9v0.9h-0.9zM87.8 267.9h0.9v0.9h-0.9zM108.4 250.2h0.9v0.9h-0.9zM82.0 274.1h0.9v0.9h-0.9zM107.6 287.9h0.9v0.9h-0.9zM109.2 273.4h0.9v0.9h-0.9zM94.2 284.1h0.9v0.9h-0.9zM88.8 275.3h0.9v0.9h-0.9zM80.7 268.6h0.9v0.9h-0.9zM68.5 289.2h0.9v0.9h-0.9zM77.6 254.0h0.9v0.9h-0.9zM85.9 271.9h0.9v0.9h-0.9zM84.9 288.1h0.9v0.9h-0.9zM81.6 269.9h0.9v0.9h-0.9zM74.1 272.0h0.9v0.9h-0.9zM77.7 274.0h0.9v0.9h-0.9zM119.2 275.6h0.9v0.9h-0.9zM72.8 289.1h0.9v0.9h-0.9zM92.9 279.3h0.9v0.9h-0.9zM91.1 279.4h0.9v0.9h-0.9zM90.7 284.5h0.9v0.9h-0.9zM94.6 284.0h0.9v0.9h-0.9zM76.9 272.2h0.9v0.9h-0.9zM74.3 280.6h0.9v0.9h-0.9zM92.5 268.1h0.9v0.9h-0.9zM89.6 295.2h0.9v0.9h-0.9zM97.2 262.4h0.9v0.9h-0.9zM81.7 277.8h0.9v0.9h-0.9zM82.4 275.6h0.9v0.9h-0.9zM96.6 275.1h0.9v0.9h-0.9zM70.0 278.5h0.9v0.9h-0.9zM81.7 273.2h0.9v0.9h-0.9zM76.2 260.1h0.9v0.9h-0.9zM68.2 269.1h0.9v0.9h-0.9zM70.3 248.4h0.9v0.9h-0.9zM96.2 262.0h0.9v0.9h-0.9zM74.3 276.9h0.9v0.9h-0.9z" fill="#000" fill-opacity="0.22"/>
<ellipse cx="66.8" cy="268.2" rx="13.6" ry="12.9" fill="url(#rg)" opacity="0.9" transform="rotate(0 66.8 268.2)" filter="url(#grain)"/>
<ellipse cx="66.8" cy="268.2" rx="8.5" ry="8.2" fill="url(#rg)" opacity="1.0" transform="rotate(0 66.8 268.2)"/>
<ellipse cx="69.3" cy="274.2" rx="3.5" ry="4.0" fill="url(#rg)" opacity="0.7" transform="rotate(0 69.3 274.2)"/>
<ellipse cx="69.8" cy="282.2" rx="4.0" ry="7.0" fill="url(#rg)" opacity="0.5" transform="rotate(0 69.8 282.2)" filter="url(#grain)"/>
</g>
<rect x="54.2" y="226.2" width="74.8" height="74.0" fill="none" stroke="#777" stroke-width="0.9"/>
<line x1="81.4" y1="226.2" x2="81.4" y2="300.2" stroke="#888" stroke-width="0.8"/>
<line x1="54.2" y1="278.6" x2="129" y2="278.6" stroke="#888" stroke-width="0.8"/>
<g clip-path="url(#cp21)">
<path d="M176.7 273.6h0.9v0.9h-0.9zM178.6 271.3h0.9v0.9h-0.9zM182.3 269.4h0.9v0.9h-0.9zM170.0 260.1h0.9v0.9h-0.9zM181.3 278.3h0.9v0.9h-0.9zM178.1 272.8h0.9v0.9h-0.9zM182.6 272.5h0.9v0.9h-0.9zM187.9 259.9h0.9v0.9h-0.9zM183.3 268.3h0.9v0.9h-0.9zM179.6 264.0h0.9v0.9h-0.9zM176.6 262.9h0.9v0.9h-0.9zM174.6 285.3h0.9v0.9h-0.9zM192.4 269.5h0.9v0.9h-0.9zM186.3 263.2h0.9v0.9h-0.9zM164.0 257.9h0.9v0.9h-0.9zM182.5 278.5h0.9v0.9h-0.9zM181.3 263.1h0.9v0.9h-0.9zM180.1 263.1h0.9v0.9h-0.9zM172.8 267.9h0.9v0.9h-0.9zM179.1 264.3h0.9v0.9h-0.9zM176.0 263.5h0.9v0.9h-0.9zM183.1 278.2h0.9v0.9h-0.9zM180.3 283.6h0.9v0.9h-0.9zM171.4 271.1h0.9v0.9h-0.9zM174.3 268.4h0.9v0.9h-0.9zM182.2 272.9h0.9v0.9h-0.9zM188.8 265.9h0.9v0.9h-0.9zM173.7 268.2h0.9v0.9h-0.9zM183.5 265.0h0.9v0.9h-0.9zM187.3 280.1h0.9v0.9h-0.9zM172.6 271.7h0.9v0.9h-0.9zM188.0 257.2h0.9v0.9h-0.9zM182.9 268.0h0.9v0.9h-0.9zM172.6 277.7h0.9v0.9h-0.9zM183.0 266.4h0.9v0.9h-0.9zM184.4 273.5h0.9v0.9h-0.9zM186.5 273.1h0.9v0.9h-0.9zM184.2 261.9h0.9v0.9h-0.9zM178.9 270.2h0.9v0.9h-0.9zM164.1 282.9h0.9v0.9h-0.9zM179.2 262.7h0.9v0.9h-0.9zM170.1 271.0h0.9v0.9h-0.9zM181.8 265.7h0.9v0.9h-0.9zM179.0 263.8h0.9v0.9h-0.9zM176.9 268.8h0.9v0.9h-0.9zM177.5 273.7h0.9v0.9h-0.9zM180.7 270.2h0.9v0.9h-0.9zM184.2 277.5h0.9v0.9h-0.9zM185.4 270.8h0.9v0.9h-0.9zM180.6 264.3h0.9v0.9h-0.9zM179.4 273.7h0.9v0.9h-0.9zM183.0 266.9h0.9v0.9h-0.9zM173.2 259.7h0.9v0.9h-0.9zM183.6 275.9h0.9v0.9h-0.9zM184.0 260.7h0.9v0.9h-0.9zM180.3 270.8h0.9v0.9h-0.9zM175.8 271.6h0.9v0.9h-0.9zM180.3 264.1h0.9v0.9h-0.9zM173.7 274.5h0.9v0.9h-0.9zM183.9 263.8h0.9v0.9h-0.9zM175.2 275.0h0.9v0.9h-0.9zM185.4 267.5h0.9v0.9h-0.9zM191.7 267.6h0.9v0.9h-0.9zM174.9 276.3h0.9v0.9h-0.9zM180.4 271.6h0.9v0.9h-0.9zM181.8 263.1h0.9v0.9h-0.9zM174.1 268.2h0.9v0.9h-0.9zM190.5 263.0h0.9v0.9h-0.9zM190.2 270.8h0.9v0.9h-0.9zM174.6 271.1h0.9v0.9h-0.9zM185.2 263.7h0.9v0.9h-0.9zM168.1 271.7h0.9v0.9h-0.9zM174.6 272.2h0.9v0.9h-0.9zM169.5 268.5h0.9v0.9h-0.9zM176.5 260.0h0.9v0.9h-0.9zM180.1 270.5h0.9v0.9h-0.9zM178.1 261.9h0.9v0.9h-0.9zM182.9 258.3h0.9v0.9h-0.9zM185.0 272.5h0.9v0.9h-0.9zM192.2 275.0h0.9v0.9h-0.9zM183.8 271.1h0.9v0.9h-0.9zM181.8 261.0h0.9v0.9h-0.9zM190.8 272.7h0.9v0.9h-0.9zM179.8 262.2h0.9v0.9h-0.9zM191.0 272.8h0.9v0.9h-0.9zM174.1 273.6h0.9v0.9h-0.9zM193.6 269.3h0.9v0.9h-0.9zM184.1 266.8h0.9v0.9h-0.9zM177.6 276.2h0.9v0.9h-0.9zM201.0 270.1h0.9v0.9h-0.9zM180.8 274.4h0.9v0.9h-0.9zM179.7 274.0h0.9v0.9h-0.9zM186.8 263.0h0.9v0.9h-0.9zM174.8 268.9h0.9v0.9h-0.9zM186.9 271.1h0.9v0.9h-0.9zM189.4 260.7h0.9v0.9h-0.9zM184.7 265.5h0.9v0.9h-0.9zM182.2 271.4h0.9v0.9h-0.9zM175.5 268.0h0.9v0.9h-0.9zM174.3 271.1h0.9v0.9h-0.9zM176.2 266.3h0.9v0.9h-0.9zM183.0 265.3h0.9v0.9h-0.9zM188.8 265.4h0.9v0.9h-0.9zM187.0 271.2h0.9v0.9h-0.9zM175.1 268.0h0.9v0.9h-0.9zM176.3 267.1h0.9v0.9h-0.9zM179.9 280.9h0.9v0.9h-0.9zM179.0 279.3h0.9v0.9h-0.9zM184.4 261.2h0.9v0.9h-0.9zM167.0 273.7h0.9v0.9h-0.9zM169.1 273.9h0.9v0.9h-0.9zM188.1 271.9h0.9v0.9h-0.9zM180.3 267.8h0.9v0.9h-0.9zM183.2 267.5h0.9v0.9h-0.9zM178.2 267.1h0.9v0.9h-0.9zM189.0 265.5h0.9v0.9h-0.9zM184.0 262.2h0.9v0.9h-0.9zM177.1 260.7h0.9v0.9h-0.9zM180.4 273.7h0.9v0.9h-0.9zM183.5 266.3h0.9v0.9h-0.9zM185.4 267.2h0.9v0.9h-0.9zM183.9 271.1h0.9v0.9h-0.9zM185.0 253.8h0.9v0.9h-0.9zM173.4 274.3h0.9v0.9h-0.9zM180.9 283.5h0.9v0.9h-0.9zM180.1 265.9h0.9v0.9h-0.9zM191.0 272.9h0.9v0.9h-0.9zM193.5 272.6h0.9v0.9h-0.9zM180.3 274.0h0.9v0.9h-0.9zM176.6 266.6h0.9v0.9h-0.9zM178.1 268.0h0.9v0.9h-0.9zM186.5 266.4h0.9v0.9h-0.9zM183.6 266.3h0.9v0.9h-0.9zM187.2 252.1h0.9v0.9h-0.9zM180.3 270.5h0.9v0.9h-0.9zM174.8 275.8h0.9v0.9h-0.9zM183.0 277.5h0.9v0.9h-0.9zM187.6 273.4h0.9v0.9h-0.9zM180.7 262.6h0.9v0.9h-0.9zM180.2 266.5h0.9v0.9h-0.9zM183.2 266.5h0.9v0.9h-0.9zM200.8 259.4h0.9v0.9h-0.9zM189.0 266.4h0.9v0.9h-0.9zM180.1 275.2h0.9v0.9h-0.9zM181.6 261.8h0.9v0.9h-0.9zM184.2 268.2h0.9v0.9h-0.9zM168.7 270.6h0.9v0.9h-0.9zM175.0 264.7h0.9v0.9h-0.9zM184.6 271.3h0.9v0.9h-0.9zM179.8 283.0h0.9v0.9h-0.9zM184.2 265.5h0.9v0.9h-0.9zM183.1 268.6h0.9v0.9h-0.9zM167.8 259.5h0.9v0.9h-0.9zM172.9 282.4h0.9v0.9h-0.9zM180.4 267.7h0.9v0.9h-0.9zM178.1 275.6h0.9v0.9h-0.9zM181.8 280.1h0.9v0.9h-0.9zM186.5 279.7h0.9v0.9h-0.9zM180.9 271.8h0.9v0.9h-0.9zM178.9 268.3h0.9v0.9h-0.9zM170.7 265.8h0.9v0.9h-0.9zM175.6 265.3h0.9v0.9h-0.9zM189.2 271.0h0.9v0.9h-0.9zM189.3 274.8h0.9v0.9h-0.9zM187.4 275.7h0.9v0.9h-0.9zM177.8 274.4h0.9v0.9h-0.9zM179.6 266.1h0.9v0.9h-0.9zM189.1 283.0h0.9v0.9h-0.9zM175.5 280.3h0.9v0.9h-0.9zM186.8 264.1h0.9v0.9h-0.9zM183.3 271.7h0.9v0.9h-0.9zM184.0 267.2h0.9v0.9h-0.9zM173.5 269.6h0.9v0.9h-0.9zM187.0 274.3h0.9v0.9h-0.9zM185.7 276.3h0.9v0.9h-0.9zM175.4 269.1h0.9v0.9h-0.9zM183.7 275.7h0.9v0.9h-0.9zM182.6 272.6h0.9v0.9h-0.9zM182.4 282.5h0.9v0.9h-0.9zM167.9 269.2h0.9v0.9h-0.9zM197.1 270.9h0.9v0.9h-0.9zM170.1 270.2h0.9v0.9h-0.9zM172.6 265.1h0.9v0.9h-0.9zM183.0 280.1h0.9v0.9h-0.9zM184.5 273.6h0.9v0.9h-0.9zM188.0 270.7h0.9v0.9h-0.9zM176.2 268.8h0.9v0.9h-0.9zM183.7 267.7h0.9v0.9h-0.9zM177.4 267.2h0.9v0.9h-0.9zM172.2 263.0h0.9v0.9h-0.9zM181.0 267.1h0.9v0.9h-0.9zM181.8 278.2h0.9v0.9h-0.9zM183.5 269.2h0.9v0.9h-0.9zM174.3 262.7h0.9v0.9h-0.9zM184.0 263.9h0.9v0.9h-0.9zM184.3 262.7h0.9v0.9h-0.9zM182.4 268.9h0.9v0.9h-0.9zM187.8 266.9h0.9v0.9h-0.9zM179.3 270.9h0.9v0.9h-0.9zM181.9 280.0h0.9v0.9h-0.9zM180.0 266.0h0.9v0.9h-0.9zM179.6 272.4h0.9v0.9h-0.9zM183.1 273.7h0.9v0.9h-0.9zM172.9 284.9h0.9v0.9h-0.9zM193.1 269.2h0.9v0.9h-0.9zM174.0 270.4h0.9v0.9h-0.9zM184.2 255.4h0.9v0.9h-0.9zM181.7 260.2h0.9v0.9h-0.9zM184.5 278.0h0.9v0.9h-0.9zM188.1 260.0h0.9v0.9h-0.9zM190.2 275.1h0.9v0.9h-0.9zM179.3 272.5h0.9v0.9h-0.9zM191.1 267.3h0.9v0.9h-0.9zM181.5 265.9h0.9v0.9h-0.9zM188.8 255.9h0.9v0.9h-0.9zM190.5 263.3h0.9v0.9h-0.9zM187.4 259.2h0.9v0.9h-0.9zM175.7 265.7h0.9v0.9h-0.9zM186.8 259.3h0.9v0.9h-0.9zM185.4 265.4h0.9v0.9h-0.9zM189.4 267.5h0.9v0.9h-0.9zM184.6 268.3h0.9v0.9h-0.9zM192.8 267.1h0.9v0.9h-0.9zM181.4 281.8h0.9v0.9h-0.9zM182.1 273.7h0.9v0.9h-0.9zM177.0 270.6h0.9v0.9h-0.9zM167.4 270.1h0.9v0.9h-0.9zM177.6 260.0h0.9v0.9h-0.9zM172.7 276.5h0.9v0.9h-0.9zM184.3 259.9h0.9v0.9h-0.9zM192.9 265.0h0.9v0.9h-0.9zM179.3 270.9h0.9v0.9h-0.9zM174.5 259.3h0.9v0.9h-0.9zM176.9 276.8h0.9v0.9h-0.9zM187.6 259.5h0.9v0.9h-0.9zM189.1 269.6h0.9v0.9h-0.9zM184.7 269.7h0.9v0.9h-0.9zM184.2 263.1h0.9v0.9h-0.9zM175.9 265.0h0.9v0.9h-0.9zM179.3 273.3h0.9v0.9h-0.9zM174.0 279.4h0.9v0.9h-0.9zM177.6 265.7h0.9v0.9h-0.9zM186.0 272.1h0.9v0.9h-0.9zM179.5 262.7h0.9v0.9h-0.9zM175.3 259.4h0.9v0.9h-0.9zM188.8 276.2h0.9v0.9h-0.9zM193.3 272.5h0.9v0.9h-0.9zM183.7 274.1h0.9v0.9h-0.9zM187.6 267.8h0.9v0.9h-0.9zM183.8 282.9h0.9v0.9h-0.9zM171.0 260.6h0.9v0.9h-0.9zM175.6 274.1h0.9v0.9h-0.9zM189.0 267.3h0.9v0.9h-0.9zM185.8 269.1h0.9v0.9h-0.9zM183.5 266.0h0.9v0.9h-0.9zM181.4 269.4h0.9v0.9h-0.9zM188.7 283.4h0.9v0.9h-0.9zM170.2 272.7h0.9v0.9h-0.9zM181.6 275.5h0.9v0.9h-0.9zM188.2 274.3h0.9v0.9h-0.9zM186.7 263.5h0.9v0.9h-0.9zM170.9 279.8h0.9v0.9h-0.9zM189.2 263.4h0.9v0.9h-0.9zM189.7 273.6h0.9v0.9h-0.9zM166.2 275.0h0.9v0.9h-0.9zM175.4 276.7h0.9v0.9h-0.9zM177.3 264.7h0.9v0.9h-0.9zM171.9 268.0h0.9v0.9h-0.9zM188.0 265.2h0.9v0.9h-0.9zM170.0 282.8h0.9v0.9h-0.9zM193.2 273.7h0.9v0.9h-0.9zM178.2 261.8h0.9v0.9h-0.9zM171.3 272.9h0.9v0.9h-0.9zM189.7 262.8h0.9v0.9h-0.9zM181.6 267.7h0.9v0.9h-0.9zM180.0 272.5h0.9v0.9h-0.9zM194.7 265.4h0.9v0.9h-0.9zM186.9 276.2h0.9v0.9h-0.9zM179.8 268.5h0.9v0.9h-0.9zM173.2 276.2h0.9v0.9h-0.9zM178.3 265.3h0.9v0.9h-0.9zM182.0 264.0h0.9v0.9h-0.9zM175.1 267.5h0.9v0.9h-0.9zM190.9 268.1h0.9v0.9h-0.9zM184.9 260.2h0.9v0.9h-0.9zM169.4 280.8h0.9v0.9h-0.9zM179.1 259.8h0.9v0.9h-0.9zM180.9 273.2h0.9v0.9h-0.9zM170.8 263.9h0.9v0.9h-0.9zM183.2 263.6h0.9v0.9h-0.9zM186.6 275.4h0.9v0.9h-0.9zM184.4 266.7h0.9v0.9h-0.9zM181.3 265.4h0.9v0.9h-0.9zM180.8 271.4h0.9v0.9h-0.9zM179.7 275.5h0.9v0.9h-0.9zM197.9 266.0h0.9v0.9h-0.9zM183.8 274.6h0.9v0.9h-0.9zM185.6 267.9h0.9v0.9h-0.9zM178.6 275.7h0.9v0.9h-0.9zM185.5 272.6h0.9v0.9h-0.9z" fill="#000" fill-opacity="0.4"/>
<path d="M188.3 277.9h0.9v0.9h-0.9zM206.8 270.8h0.9v0.9h-0.9zM205.1 291.3h0.9v0.9h-0.9zM175.8 277.7h0.9v0.9h-0.9zM184.0 260.5h0.9v0.9h-0.9zM194.9 277.1h0.9v0.9h-0.9zM198.2 262.3h0.9v0.9h-0.9zM180.9 267.6h0.9v0.9h-0.9zM197.8 265.2h0.9v0.9h-0.9zM180.2 287.7h0.9v0.9h-0.9zM187.9 271.0h0.9v0.9h-0.9zM191.2 267.3h0.9v0.9h-0.9zM198.1 269.8h0.9v0.9h-0.9zM204.8 262.1h0.9v0.9h-0.9zM180.3 289.4h0.9v0.9h-0.9zM196.7 279.1h0.9v0.9h-0.9zM211.3 277.2h0.9v0.9h-0.9zM198.0 258.9h0.9v0.9h-0.9zM179.0 280.9h0.9v0.9h-0.9zM205.5 277.4h0.9v0.9h-0.9zM178.3 253.8h0.9v0.9h-0.9zM185.3 262.1h0.9v0.9h-0.9zM199.5 263.5h0.9v0.9h-0.9zM216.0 267.0h0.9v0.9h-0.9zM191.1 279.9h0.9v0.9h-0.9zM201.4 264.6h0.9v0.9h-0.9zM207.2 289.2h0.9v0.9h-0.9zM183.3 270.2h0.9v0.9h-0.9zM185.1 255.5h0.9v0.9h-0.9zM204.9 278.5h0.9v0.9h-0.9zM208.9 276.1h0.9v0.9h-0.9zM174.1 272.2h0.9v0.9h-0.9zM189.8 262.1h0.9v0.9h-0.9zM184.7 279.1h0.9v0.9h-0.9zM194.1 289.6h0.9v0.9h-0.9zM203.1 255.7h0.9v0.9h-0.9zM208.0 283.3h0.9v0.9h-0.9zM198.0 261.8h0.9v0.9h-0.9zM218.2 260.9h0.9v0.9h-0.9zM196.6 255.7h0.9v0.9h-0.9zM183.0 257.5h0.9v0.9h-0.9zM210.3 282.7h0.9v0.9h-0.9zM192.9 260.5h0.9v0.9h-0.9zM196.9 275.7h0.9v0.9h-0.9zM179.8 262.3h0.9v0.9h-0.9zM196.4 278.6h0.9v0.9h-0.9zM198.5 276.3h0.9v0.9h-0.9zM183.0 250.6h0.9v0.9h-0.9zM201.2 264.4h0.9v0.9h-0.9zM196.1 269.1h0.9v0.9h-0.9zM203.2 265.6h0.9v0.9h-0.9zM214.5 272.7h0.9v0.9h-0.9zM203.8 277.9h0.9v0.9h-0.9zM209.7 275.9h0.9v0.9h-0.9zM177.1 266.9h0.9v0.9h-0.9zM219.4 276.6h0.9v0.9h-0.9zM204.2 276.5h0.9v0.9h-0.9zM190.1 266.4h0.9v0.9h-0.9zM190.0 282.6h0.9v0.9h-0.9zM201.9 288.1h0.9v0.9h-0.9zM203.4 289.0h0.9v0.9h-0.9zM203.0 262.0h0.9v0.9h-0.9zM218.0 275.4h0.9v0.9h-0.9zM211.6 274.3h0.9v0.9h-0.9zM193.8 273.9h0.9v0.9h-0.9zM184.4 261.9h0.9v0.9h-0.9zM187.2 267.8h0.9v0.9h-0.9zM181.6 271.5h0.9v0.9h-0.9zM201.2 290.3h0.9v0.9h-0.9zM219.3 272.0h0.9v0.9h-0.9zM208.0 270.5h0.9v0.9h-0.9zM202.2 272.1h0.9v0.9h-0.9zM191.2 273.1h0.9v0.9h-0.9zM180.2 276.3h0.9v0.9h-0.9zM194.2 262.8h0.9v0.9h-0.9zM193.4 277.3h0.9v0.9h-0.9zM189.6 276.6h0.9v0.9h-0.9zM204.3 286.2h0.9v0.9h-0.9zM184.8 271.4h0.9v0.9h-0.9zM203.6 285.7h0.9v0.9h-0.9zM200.7 279.1h0.9v0.9h-0.9zM180.3 267.2h0.9v0.9h-0.9zM217.2 269.9h0.9v0.9h-0.9zM223.2 265.9h0.9v0.9h-0.9zM194.3 258.3h0.9v0.9h-0.9zM205.1 274.7h0.9v0.9h-0.9zM221.5 273.9h0.9v0.9h-0.9zM194.6 259.9h0.9v0.9h-0.9zM196.6 280.8h0.9v0.9h-0.9zM206.4 283.3h0.9v0.9h-0.9z" fill="#000" fill-opacity="0.22"/>
<ellipse cx="181.6" cy="268.4" rx="12.0" ry="11.4" fill="url(#rg)" opacity="0.9" transform="rotate(0 181.6 268.4)" filter="url(#grain)"/>
<ellipse cx="181.6" cy="268.4" rx="7.5" ry="7.2" fill="url(#rg)" opacity="0.95" transform="rotate(0 181.6 268.4)"/>
</g>
<rect x="163" y="226.2" width="75" height="74.0" fill="none" stroke="#777" stroke-width="0.9"/>
<line x1="191.3" y1="226.2" x2="191.3" y2="300.2" stroke="#888" stroke-width="0.8"/>
<line x1="163" y1="278.6" x2="238" y2="278.6" stroke="#888" stroke-width="0.8"/>
<g clip-path="url(#cp22)">
<path d="M296.2 267.5h0.9v0.9h-0.9zM294.6 268.9h0.9v0.9h-0.9zM282.2 278.8h0.9v0.9h-0.9zM293.1 261.1h0.9v0.9h-0.9zM293.2 269.6h0.9v0.9h-0.9zM297.1 277.1h0.9v0.9h-0.9zM300.5 261.7h0.9v0.9h-0.9zM278.8 269.6h0.9v0.9h-0.9zM292.9 270.1h0.9v0.9h-0.9zM283.6 264.8h0.9v0.9h-0.9zM292.0 272.6h0.9v0.9h-0.9zM304.8 269.7h0.9v0.9h-0.9zM286.8 252.6h0.9v0.9h-0.9zM297.6 267.0h0.9v0.9h-0.9zM290.0 261.4h0.9v0.9h-0.9zM295.4 256.3h0.9v0.9h-0.9zM291.4 268.6h0.9v0.9h-0.9zM292.6 276.2h0.9v0.9h-0.9zM290.1 268.4h0.9v0.9h-0.9zM296.2 257.8h0.9v0.9h-0.9zM288.8 268.2h0.9v0.9h-0.9zM296.9 262.6h0.9v0.9h-0.9zM295.9 270.3h0.9v0.9h-0.9zM281.1 258.3h0.9v0.9h-0.9zM281.5 268.7h0.9v0.9h-0.9zM292.0 272.5h0.9v0.9h-0.9zM296.0 264.2h0.9v0.9h-0.9zM297.6 273.1h0.9v0.9h-0.9zM293.7 270.9h0.9v0.9h-0.9zM282.4 270.1h0.9v0.9h-0.9zM284.0 260.1h0.9v0.9h-0.9zM288.4 268.7h0.9v0.9h-0.9zM290.4 265.7h0.9v0.9h-0.9zM284.2 269.0h0.9v0.9h-0.9zM285.9 258.7h0.9v0.9h-0.9zM291.3 277.2h0.9v0.9h-0.9zM288.1 260.9h0.9v0.9h-0.9zM299.6 278.9h0.9v0.9h-0.9zM288.8 266.4h0.9v0.9h-0.9zM292.1 286.9h0.9v0.9h-0.9zM291.6 274.2h0.9v0.9h-0.9zM293.6 256.0h0.9v0.9h-0.9zM283.6 259.8h0.9v0.9h-0.9zM293.5 268.5h0.9v0.9h-0.9zM302.3 266.1h0.9v0.9h-0.9zM292.7 268.3h0.9v0.9h-0.9zM291.6 282.8h0.9v0.9h-0.9zM292.5 277.3h0.9v0.9h-0.9zM299.1 263.9h0.9v0.9h-0.9zM295.1 265.3h0.9v0.9h-0.9zM291.4 268.8h0.9v0.9h-0.9zM290.8 264.8h0.9v0.9h-0.9zM300.8 266.1h0.9v0.9h-0.9zM295.3 278.7h0.9v0.9h-0.9zM294.8 274.4h0.9v0.9h-0.9zM299.7 274.9h0.9v0.9h-0.9zM301.8 258.5h0.9v0.9h-0.9zM303.4 268.0h0.9v0.9h-0.9zM279.4 263.6h0.9v0.9h-0.9zM281.7 267.7h0.9v0.9h-0.9zM281.0 261.3h0.9v0.9h-0.9zM292.6 268.8h0.9v0.9h-0.9zM285.5 266.3h0.9v0.9h-0.9zM290.1 268.3h0.9v0.9h-0.9zM290.7 266.4h0.9v0.9h-0.9zM296.4 257.4h0.9v0.9h-0.9zM287.5 268.7h0.9v0.9h-0.9zM288.1 264.2h0.9v0.9h-0.9zM287.9 269.2h0.9v0.9h-0.9zM298.8 266.6h0.9v0.9h-0.9zM289.0 270.1h0.9v0.9h-0.9zM289.1 255.2h0.9v0.9h-0.9zM292.4 265.3h0.9v0.9h-0.9zM287.0 271.9h0.9v0.9h-0.9zM291.0 264.1h0.9v0.9h-0.9zM276.6 256.6h0.9v0.9h-0.9zM290.8 267.0h0.9v0.9h-0.9zM293.5 269.2h0.9v0.9h-0.9zM287.6 259.6h0.9v0.9h-0.9zM283.6 266.9h0.9v0.9h-0.9zM283.2 272.7h0.9v0.9h-0.9zM282.1 256.2h0.9v0.9h-0.9zM289.4 256.3h0.9v0.9h-0.9zM301.3 261.4h0.9v0.9h-0.9zM290.4 266.2h0.9v0.9h-0.9zM285.4 256.3h0.9v0.9h-0.9zM278.6 273.4h0.9v0.9h-0.9zM297.3 281.9h0.9v0.9h-0.9zM281.2 271.4h0.9v0.9h-0.9zM290.6 273.3h0.9v0.9h-0.9zM287.4 272.5h0.9v0.9h-0.9zM296.5 271.7h0.9v0.9h-0.9zM300.1 266.7h0.9v0.9h-0.9zM300.7 263.2h0.9v0.9h-0.9zM301.5 249.9h0.9v0.9h-0.9zM290.8 262.6h0.9v0.9h-0.9zM290.7 274.5h0.9v0.9h-0.9zM295.4 268.4h0.9v0.9h-0.9zM301.8 258.2h0.9v0.9h-0.9zM285.4 277.6h0.9v0.9h-0.9zM292.8 254.3h0.9v0.9h-0.9zM292.9 260.1h0.9v0.9h-0.9zM300.3 275.2h0.9v0.9h-0.9zM287.1 276.2h0.9v0.9h-0.9zM285.3 273.8h0.9v0.9h-0.9zM294.5 267.0h0.9v0.9h-0.9zM281.5 266.0h0.9v0.9h-0.9zM275.8 264.1h0.9v0.9h-0.9zM278.7 275.7h0.9v0.9h-0.9zM284.4 252.0h0.9v0.9h-0.9zM294.5 270.2h0.9v0.9h-0.9zM287.4 281.6h0.9v0.9h-0.9zM295.7 268.2h0.9v0.9h-0.9zM286.5 248.6h0.9v0.9h-0.9zM293.8 274.0h0.9v0.9h-0.9zM286.9 258.6h0.9v0.9h-0.9zM290.4 256.9h0.9v0.9h-0.9zM290.7 272.8h0.9v0.9h-0.9zM300.5 269.5h0.9v0.9h-0.9zM292.0 272.7h0.9v0.9h-0.9zM299.8 265.7h0.9v0.9h-0.9zM282.7 262.7h0.9v0.9h-0.9zM282.5 262.0h0.9v0.9h-0.9zM289.9 270.0h0.9v0.9h-0.9zM291.7 268.3h0.9v0.9h-0.9zM288.4 270.6h0.9v0.9h-0.9zM296.5 272.7h0.9v0.9h-0.9zM300.4 265.9h0.9v0.9h-0.9zM289.1 278.8h0.9v0.9h-0.9zM292.0 270.5h0.9v0.9h-0.9zM288.5 274.1h0.9v0.9h-0.9zM288.1 261.3h0.9v0.9h-0.9zM290.3 264.9h0.9v0.9h-0.9zM296.1 265.3h0.9v0.9h-0.9zM291.5 266.4h0.9v0.9h-0.9zM292.9 263.7h0.9v0.9h-0.9zM297.9 258.5h0.9v0.9h-0.9zM288.2 263.2h0.9v0.9h-0.9zM294.9 268.1h0.9v0.9h-0.9zM293.9 265.7h0.9v0.9h-0.9zM286.0 260.5h0.9v0.9h-0.9zM288.5 264.3h0.9v0.9h-0.9zM292.5 270.1h0.9v0.9h-0.9zM297.1 267.1h0.9v0.9h-0.9zM285.8 260.9h0.9v0.9h-0.9zM291.1 270.1h0.9v0.9h-0.9zM303.4 269.0h0.9v0.9h-0.9zM302.1 280.0h0.9v0.9h-0.9zM283.9 275.7h0.9v0.9h-0.9zM298.1 276.5h0.9v0.9h-0.9zM290.6 274.0h0.9v0.9h-0.9zM287.6 267.3h0.9v0.9h-0.9zM290.8 279.4h0.9v0.9h-0.9zM289.3 274.0h0.9v0.9h-0.9zM291.1 263.2h0.9v0.9h-0.9zM292.3 272.1h0.9v0.9h-0.9zM286.1 271.9h0.9v0.9h-0.9zM286.1 262.1h0.9v0.9h-0.9zM292.1 266.3h0.9v0.9h-0.9zM284.3 257.2h0.9v0.9h-0.9zM290.9 269.4h0.9v0.9h-0.9zM287.7 269.0h0.9v0.9h-0.9zM280.8 270.4h0.9v0.9h-0.9zM293.4 269.6h0.9v0.9h-0.9zM286.7 268.3h0.9v0.9h-0.9zM291.5 274.8h0.9v0.9h-0.9zM292.5 269.4h0.9v0.9h-0.9zM286.0 273.4h0.9v0.9h-0.9zM298.3 264.6h0.9v0.9h-0.9zM294.9 269.8h0.9v0.9h-0.9zM290.4 259.4h0.9v0.9h-0.9zM302.1 255.7h0.9v0.9h-0.9zM292.7 265.4h0.9v0.9h-0.9zM298.1 265.1h0.9v0.9h-0.9zM291.0 271.8h0.9v0.9h-0.9zM293.7 264.4h0.9v0.9h-0.9zM295.1 270.3h0.9v0.9h-0.9zM297.1 264.5h0.9v0.9h-0.9zM290.4 265.3h0.9v0.9h-0.9zM285.3 269.5h0.9v0.9h-0.9zM293.4 277.0h0.9v0.9h-0.9zM288.6 270.3h0.9v0.9h-0.9zM298.1 267.1h0.9v0.9h-0.9zM291.1 268.7h0.9v0.9h-0.9zM286.2 261.4h0.9v0.9h-0.9zM297.9 268.9h0.9v0.9h-0.9zM290.2 259.7h0.9v0.9h-0.9zM291.5 275.4h0.9v0.9h-0.9zM283.2 262.0h0.9v0.9h-0.9zM297.9 277.1h0.9v0.9h-0.9zM300.8 264.2h0.9v0.9h-0.9zM294.6 262.9h0.9v0.9h-0.9zM294.1 265.4h0.9v0.9h-0.9zM292.0 276.5h0.9v0.9h-0.9zM292.9 266.2h0.9v0.9h-0.9zM291.1 269.5h0.9v0.9h-0.9zM287.4 269.1h0.9v0.9h-0.9zM294.6 277.9h0.9v0.9h-0.9zM277.4 260.1h0.9v0.9h-0.9zM282.7 273.5h0.9v0.9h-0.9zM306.5 269.1h0.9v0.9h-0.9zM291.5 275.2h0.9v0.9h-0.9zM274.9 266.6h0.9v0.9h-0.9zM287.4 264.7h0.9v0.9h-0.9zM292.9 264.0h0.9v0.9h-0.9zM297.9 267.8h0.9v0.9h-0.9zM293.2 284.2h0.9v0.9h-0.9zM287.8 273.8h0.9v0.9h-0.9zM285.4 275.9h0.9v0.9h-0.9zM296.9 268.7h0.9v0.9h-0.9zM297.1 278.2h0.9v0.9h-0.9zM299.6 267.8h0.9v0.9h-0.9zM290.3 274.9h0.9v0.9h-0.9zM281.2 263.9h0.9v0.9h-0.9zM293.8 271.5h0.9v0.9h-0.9zM302.7 279.1h0.9v0.9h-0.9zM292.8 270.6h0.9v0.9h-0.9zM282.2 266.6h0.9v0.9h-0.9zM292.4 266.3h0.9v0.9h-0.9zM291.1 271.7h0.9v0.9h-0.9zM284.6 264.1h0.9v0.9h-0.9zM279.3 275.2h0.9v0.9h-0.9zM283.9 256.8h0.9v0.9h-0.9zM295.7 266.4h0.9v0.9h-0.9zM296.9 265.4h0.9v0.9h-0.9zM304.4 272.4h0.9v0.9h-0.9zM291.7 268.5h0.9v0.9h-0.9zM289.4 273.0h0.9v0.9h-0.9zM303.6 265.1h0.9v0.9h-0.9zM283.7 271.6h0.9v0.9h-0.9zM297.6 258.2h0.9v0.9h-0.9zM286.3 261.4h0.9v0.9h-0.9zM294.3 271.0h0.9v0.9h-0.9zM286.0 260.6h0.9v0.9h-0.9zM295.1 254.6h0.9v0.9h-0.9zM294.8 266.8h0.9v0.9h-0.9zM303.0 274.2h0.9v0.9h-0.9zM287.0 266.0h0.9v0.9h-0.9zM288.9 263.1h0.9v0.9h-0.9zM291.2 274.0h0.9v0.9h-0.9zM281.0 266.3h0.9v0.9h-0.9zM300.3 272.6h0.9v0.9h-0.9zM285.5 262.6h0.9v0.9h-0.9zM285.2 257.5h0.9v0.9h-0.9zM298.1 268.2h0.9v0.9h-0.9zM286.2 258.6h0.9v0.9h-0.9zM288.2 264.5h0.9v0.9h-0.9zM301.7 264.9h0.9v0.9h-0.9zM291.4 274.7h0.9v0.9h-0.9zM295.0 266.6h0.9v0.9h-0.9zM276.7 276.8h0.9v0.9h-0.9zM294.5 265.0h0.9v0.9h-0.9zM290.1 261.7h0.9v0.9h-0.9zM285.0 258.3h0.9v0.9h-0.9zM293.9 271.1h0.9v0.9h-0.9zM291.8 272.8h0.9v0.9h-0.9zM294.1 268.6h0.9v0.9h-0.9zM285.1 271.6h0.9v0.9h-0.9zM298.3 271.8h0.9v0.9h-0.9zM298.7 264.8h0.9v0.9h-0.9zM284.4 275.8h0.9v0.9h-0.9zM287.0 269.4h0.9v0.9h-0.9zM289.5 267.9h0.9v0.9h-0.9zM289.0 264.4h0.9v0.9h-0.9zM279.3 280.0h0.9v0.9h-0.9zM292.0 255.5h0.9v0.9h-0.9zM284.9 260.6h0.9v0.9h-0.9zM286.0 251.5h0.9v0.9h-0.9zM294.4 278.3h0.9v0.9h-0.9zM289.1 272.5h0.9v0.9h-0.9zM294.5 259.9h0.9v0.9h-0.9zM298.5 257.1h0.9v0.9h-0.9zM287.0 265.5h0.9v0.9h-0.9zM298.7 268.6h0.9v0.9h-0.9zM289.9 262.7h0.9v0.9h-0.9zM291.3 268.1h0.9v0.9h-0.9zM295.4 276.7h0.9v0.9h-0.9zM295.4 267.9h0.9v0.9h-0.9zM289.7 278.0h0.9v0.9h-0.9zM292.0 267.7h0.9v0.9h-0.9zM302.1 277.8h0.9v0.9h-0.9zM294.3 267.1h0.9v0.9h-0.9zM286.7 274.6h0.9v0.9h-0.9zM287.8 273.9h0.9v0.9h-0.9zM285.7 268.5h0.9v0.9h-0.9zM293.3 268.7h0.9v0.9h-0.9zM292.2 270.2h0.9v0.9h-0.9zM283.6 260.7h0.9v0.9h-0.9zM289.8 279.3h0.9v0.9h-0.9zM289.9 261.9h0.9v0.9h-0.9zM286.5 268.0h0.9v0.9h-0.9zM298.2 264.2h0.9v0.9h-0.9zM294.3 269.0h0.9v0.9h-0.9zM288.4 261.8h0.9v0.9h-0.9zM289.7 263.2h0.9v0.9h-0.9zM294.1 256.6h0.9v0.9h-0.9zM297.9 272.6h0.9v0.9h-0.9zM294.4 277.3h0.9v0.9h-0.9z" fill="#000" fill-opacity="0.4"/>
<path d="M313.8 255.8h0.9v0.9h-0.9zM307.3 274.8h0.9v0.9h-0.9zM298.7 260.9h0.9v0.9h-0.9zM311.8 275.3h0.9v0.9h-0.9zM301.7 268.7h0.9v0.9h-0.9zM300.8 265.8h0.9v0.9h-0.9zM306.0 280.2h0.9v0.9h-0.9zM287.8 267.8h0.9v0.9h-0.9zM325.6 273.6h0.9v0.9h-0.9zM308.5 278.1h0.9v0.9h-0.9zM295.0 260.2h0.9v0.9h-0.9zM287.3 258.0h0.9v0.9h-0.9zM309.6 278.3h0.9v0.9h-0.9zM301.8 264.8h0.9v0.9h-0.9zM311.4 276.2h0.9v0.9h-0.9zM309.7 254.1h0.9v0.9h-0.9zM300.3 248.6h0.9v0.9h-0.9zM309.5 263.4h0.9v0.9h-0.9zM299.0 284.0h0.9v0.9h-0.9zM322.2 275.0h0.9v0.9h-0.9zM309.9 272.3h0.9v0.9h-0.9zM299.9 270.4h0.9v0.9h-0.9zM329.0 263.1h0.9v0.9h-0.9zM299.0 272.2h0.9v0.9h-0.9zM317.1 278.1h0.9v0.9h-0.9zM295.4 269.7h0.9v0.9h-0.9zM303.6 260.0h0.9v0.9h-0.9zM307.6 266.6h0.9v0.9h-0.9zM317.4 274.6h0.9v0.9h-0.9zM297.6 271.5h0.9v0.9h-0.9zM302.5 265.2h0.9v0.9h-0.9zM301.0 280.1h0.9v0.9h-0.9zM301.9 255.8h0.9v0.9h-0.9zM297.7 277.9h0.9v0.9h-0.9zM331.8 261.6h0.9v0.9h-0.9zM302.6 267.9h0.9v0.9h-0.9zM290.3 274.3h0.9v0.9h-0.9zM306.1 273.2h0.9v0.9h-0.9zM332.8 268.5h0.9v0.9h-0.9zM316.0 278.1h0.9v0.9h-0.9zM299.3 265.6h0.9v0.9h-0.9zM324.9 277.1h0.9v0.9h-0.9zM308.4 261.2h0.9v0.9h-0.9zM317.0 275.4h0.9v0.9h-0.9zM332.3 283.7h0.9v0.9h-0.9zM316.1 273.1h0.9v0.9h-0.9zM307.4 266.0h0.9v0.9h-0.9zM310.3 272.9h0.9v0.9h-0.9zM314.3 280.3h0.9v0.9h-0.9zM310.3 266.1h0.9v0.9h-0.9zM316.1 284.4h0.9v0.9h-0.9zM297.0 274.5h0.9v0.9h-0.9zM313.1 275.5h0.9v0.9h-0.9zM312.6 270.0h0.9v0.9h-0.9zM305.5 285.6h0.9v0.9h-0.9zM326.9 258.5h0.9v0.9h-0.9zM277.1 274.6h0.9v0.9h-0.9zM298.8 266.3h0.9v0.9h-0.9zM288.1 273.9h0.9v0.9h-0.9zM306.1 266.1h0.9v0.9h-0.9zM317.2 292.1h0.9v0.9h-0.9zM323.9 281.1h0.9v0.9h-0.9zM301.9 276.6h0.9v0.9h-0.9zM306.3 280.9h0.9v0.9h-0.9zM313.5 270.5h0.9v0.9h-0.9zM313.1 264.5h0.9v0.9h-0.9zM315.9 284.0h0.9v0.9h-0.9zM302.5 275.7h0.9v0.9h-0.9zM287.3 279.0h0.9v0.9h-0.9zM316.9 261.9h0.9v0.9h-0.9zM327.0 271.8h0.9v0.9h-0.9zM286.5 258.8h0.9v0.9h-0.9zM316.9 268.4h0.9v0.9h-0.9zM319.6 257.2h0.9v0.9h-0.9zM305.6 279.3h0.9v0.9h-0.9zM298.8 276.8h0.9v0.9h-0.9zM302.5 273.8h0.9v0.9h-0.9zM310.5 290.3h0.9v0.9h-0.9zM292.3 277.6h0.9v0.9h-0.9zM322.0 261.0h0.9v0.9h-0.9zM307.7 291.0h0.9v0.9h-0.9zM318.9 244.9h0.9v0.9h-0.9zM303.9 255.9h0.9v0.9h-0.9zM310.2 264.5h0.9v0.9h-0.9zM300.2 263.5h0.9v0.9h-0.9zM310.1 266.7h0.9v0.9h-0.9zM296.2 268.8h0.9v0.9h-0.9zM311.4 263.3h0.9v0.9h-0.9zM319.7 256.3h0.9v0.9h-0.9zM311.5 267.4h0.9v0.9h-0.9z" fill="#000" fill-opacity="0.22"/>
<ellipse cx="290.7" cy="266.8" rx="12.8" ry="12.2" fill="url(#rg)" opacity="0.9" transform="rotate(0 290.7 266.8)" filter="url(#grain)"/>
<ellipse cx="290.7" cy="266.8" rx="8.0" ry="7.7" fill="url(#rg)" opacity="0.95" transform="rotate(0 290.7 266.8)"/>
</g>
<rect x="273" y="226.2" width="74.5" height="74.0" fill="none" stroke="#777" stroke-width="0.9"/>
<line x1="301.3" y1="226.2" x2="301.3" y2="300.2" stroke="#888" stroke-width="0.8"/>
<line x1="273" y1="278.6" x2="347.5" y2="278.6" stroke="#888" stroke-width="0.8"/>
<g clip-path="url(#cp23)">
<path d="M424.2 265.8h0.9v0.9h-0.9zM406.6 256.4h0.9v0.9h-0.9zM425.6 273.3h0.9v0.9h-0.9zM401.5 260.5h0.9v0.9h-0.9zM399.6 270.3h0.9v0.9h-0.9zM416.7 255.7h0.9v0.9h-0.9zM410.3 270.2h0.9v0.9h-0.9zM409.3 267.4h0.9v0.9h-0.9zM408.8 265.8h0.9v0.9h-0.9zM412.9 261.9h0.9v0.9h-0.9zM412.6 266.7h0.9v0.9h-0.9zM410.8 261.4h0.9v0.9h-0.9zM401.1 263.6h0.9v0.9h-0.9zM420.7 254.8h0.9v0.9h-0.9zM403.4 270.5h0.9v0.9h-0.9zM418.8 263.7h0.9v0.9h-0.9zM422.9 263.5h0.9v0.9h-0.9zM400.3 272.9h0.9v0.9h-0.9zM406.7 262.8h0.9v0.9h-0.9zM397.8 255.6h0.9v0.9h-0.9zM400.4 261.3h0.9v0.9h-0.9zM393.0 265.7h0.9v0.9h-0.9zM408.0 261.0h0.9v0.9h-0.9zM403.5 267.2h0.9v0.9h-0.9zM423.5 266.9h0.9v0.9h-0.9zM420.9 277.4h0.9v0.9h-0.9zM420.7 270.0h0.9v0.9h-0.9zM396.5 264.6h0.9v0.9h-0.9zM406.3 264.9h0.9v0.9h-0.9zM394.7 258.7h0.9v0.9h-0.9zM413.4 260.8h0.9v0.9h-0.9zM409.8 274.3h0.9v0.9h-0.9zM413.0 262.1h0.9v0.9h-0.9zM433.4 260.2h0.9v0.9h-0.9zM401.7 264.7h0.9v0.9h-0.9zM408.7 251.7h0.9v0.9h-0.9zM410.9 269.9h0.9v0.9h-0.9zM401.0 270.4h0.9v0.9h-0.9zM412.3 272.4h0.9v0.9h-0.9zM397.2 261.0h0.9v0.9h-0.9zM420.2 279.5h0.9v0.9h-0.9zM421.0 268.4h0.9v0.9h-0.9zM412.5 262.3h0.9v0.9h-0.9zM420.3 264.3h0.9v0.9h-0.9zM414.3 254.8h0.9v0.9h-0.9zM394.6 270.2h0.9v0.9h-0.9zM410.2 266.3h0.9v0.9h-0.9zM391.7 259.1h0.9v0.9h-0.9zM429.7 262.7h0.9v0.9h-0.9zM390.3 258.0h0.9v0.9h-0.9zM405.9 262.5h0.9v0.9h-0.9zM401.6 254.8h0.9v0.9h-0.9zM398.6 265.1h0.9v0.9h-0.9zM408.3 269.1h0.9v0.9h-0.9zM400.0 265.2h0.9v0.9h-0.9zM406.1 264.3h0.9v0.9h-0.9zM417.8 267.6h0.9v0.9h-0.9zM409.7 255.5h0.9v0.9h-0.9zM409.3 269.2h0.9v0.9h-0.9zM404.8 263.0h0.9v0.9h-0.9zM397.3 253.5h0.9v0.9h-0.9zM411.3 272.7h0.9v0.9h-0.9zM410.0 255.6h0.9v0.9h-0.9zM409.3 256.0h0.9v0.9h-0.9zM404.6 274.2h0.9v0.9h-0.9zM412.8 265.0h0.9v0.9h-0.9zM419.3 265.7h0.9v0.9h-0.9zM412.5 266.9h0.9v0.9h-0.9zM416.1 258.6h0.9v0.9h-0.9zM414.6 271.4h0.9v0.9h-0.9zM395.1 245.1h0.9v0.9h-0.9zM400.1 270.3h0.9v0.9h-0.9zM409.1 268.6h0.9v0.9h-0.9zM413.3 271.0h0.9v0.9h-0.9zM405.6 260.3h0.9v0.9h-0.9zM412.2 269.1h0.9v0.9h-0.9zM414.3 268.3h0.9v0.9h-0.9zM404.1 269.4h0.9v0.9h-0.9zM412.3 271.7h0.9v0.9h-0.9zM386.9 263.6h0.9v0.9h-0.9zM389.0 259.7h0.9v0.9h-0.9zM404.2 263.9h0.9v0.9h-0.9zM406.5 262.2h0.9v0.9h-0.9zM411.1 267.3h0.9v0.9h-0.9zM407.3 249.8h0.9v0.9h-0.9zM402.5 265.8h0.9v0.9h-0.9zM402.2 265.0h0.9v0.9h-0.9zM408.4 259.2h0.9v0.9h-0.9zM417.2 276.6h0.9v0.9h-0.9zM409.2 264.5h0.9v0.9h-0.9zM420.3 260.6h0.9v0.9h-0.9zM400.8 268.6h0.9v0.9h-0.9zM418.4 264.8h0.9v0.9h-0.9zM402.8 264.8h0.9v0.9h-0.9zM398.9 258.7h0.9v0.9h-0.9zM412.0 251.6h0.9v0.9h-0.9zM413.8 270.5h0.9v0.9h-0.9zM421.4 260.3h0.9v0.9h-0.9zM400.4 257.4h0.9v0.9h-0.9zM395.6 272.2h0.9v0.9h-0.9zM402.2 260.8h0.9v0.9h-0.9zM411.0 267.9h0.9v0.9h-0.9zM424.1 263.2h0.9v0.9h-0.9zM417.3 268.1h0.9v0.9h-0.9zM399.8 262.7h0.9v0.9h-0.9zM395.4 269.7h0.9v0.9h-0.9zM402.2 268.3h0.9v0.9h-0.9zM422.1 265.2h0.9v0.9h-0.9zM402.1 263.3h0.9v0.9h-0.9zM399.6 266.9h0.9v0.9h-0.9zM412.7 261.5h0.9v0.9h-0.9zM403.0 267.0h0.9v0.9h-0.9zM394.9 270.0h0.9v0.9h-0.9zM403.6 261.9h0.9v0.9h-0.9zM399.5 271.0h0.9v0.9h-0.9zM414.9 274.0h0.9v0.9h-0.9zM415.4 267.2h0.9v0.9h-0.9zM423.4 273.0h0.9v0.9h-0.9zM412.8 269.2h0.9v0.9h-0.9zM415.8 268.4h0.9v0.9h-0.9zM411.2 256.2h0.9v0.9h-0.9zM429.7 263.6h0.9v0.9h-0.9zM392.7 255.6h0.9v0.9h-0.9zM424.6 276.5h0.9v0.9h-0.9zM404.4 264.8h0.9v0.9h-0.9zM413.0 254.5h0.9v0.9h-0.9zM406.7 265.6h0.9v0.9h-0.9zM422.0 261.8h0.9v0.9h-0.9zM393.2 250.8h0.9v0.9h-0.9zM412.7 266.3h0.9v0.9h-0.9zM411.0 266.2h0.9v0.9h-0.9zM409.1 256.9h0.9v0.9h-0.9zM413.3 268.2h0.9v0.9h-0.9zM412.9 273.1h0.9v0.9h-0.9zM403.2 249.4h0.9v0.9h-0.9zM391.2 271.5h0.9v0.9h-0.9zM401.5 264.7h0.9v0.9h-0.9zM408.7 268.8h0.9v0.9h-0.9zM438.4 270.8h0.9v0.9h-0.9zM409.5 261.4h0.9v0.9h-0.9zM411.3 268.4h0.9v0.9h-0.9zM399.5 269.3h0.9v0.9h-0.9zM419.1 270.4h0.9v0.9h-0.9zM409.4 263.5h0.9v0.9h-0.9zM394.8 264.1h0.9v0.9h-0.9zM402.4 259.8h0.9v0.9h-0.9zM420.1 262.8h0.9v0.9h-0.9zM404.1 268.1h0.9v0.9h-0.9zM427.1 266.3h0.9v0.9h-0.9zM420.6 264.5h0.9v0.9h-0.9zM412.5 268.6h0.9v0.9h-0.9zM398.5 267.4h0.9v0.9h-0.9zM425.4 270.1h0.9v0.9h-0.9zM414.2 259.6h0.9v0.9h-0.9zM425.3 270.1h0.9v0.9h-0.9zM397.8 265.6h0.9v0.9h-0.9zM398.6 257.5h0.9v0.9h-0.9zM389.4 266.6h0.9v0.9h-0.9zM430.0 267.5h0.9v0.9h-0.9zM405.3 260.2h0.9v0.9h-0.9zM404.2 266.4h0.9v0.9h-0.9zM424.2 263.6h0.9v0.9h-0.9zM416.7 256.7h0.9v0.9h-0.9zM423.2 268.6h0.9v0.9h-0.9zM401.5 271.2h0.9v0.9h-0.9zM406.9 271.9h0.9v0.9h-0.9zM416.5 276.6h0.9v0.9h-0.9zM403.0 263.2h0.9v0.9h-0.9zM413.5 265.0h0.9v0.9h-0.9zM424.3 265.3h0.9v0.9h-0.9zM416.4 274.8h0.9v0.9h-0.9zM394.8 254.7h0.9v0.9h-0.9zM403.1 259.7h0.9v0.9h-0.9zM413.6 265.1h0.9v0.9h-0.9zM411.4 262.8h0.9v0.9h-0.9zM408.5 267.3h0.9v0.9h-0.9zM417.7 262.9h0.9v0.9h-0.9zM410.3 260.7h0.9v0.9h-0.9zM410.8 257.0h0.9v0.9h-0.9zM417.1 271.1h0.9v0.9h-0.9zM410.1 261.1h0.9v0.9h-0.9zM407.2 260.3h0.9v0.9h-0.9zM394.1 269.5h0.9v0.9h-0.9zM440.3 267.3h0.9v0.9h-0.9zM399.0 264.9h0.9v0.9h-0.9zM417.8 258.3h0.9v0.9h-0.9zM392.6 262.7h0.9v0.9h-0.9zM390.6 267.2h0.9v0.9h-0.9zM405.6 264.1h0.9v0.9h-0.9zM410.9 262.1h0.9v0.9h-0.9zM409.3 263.0h0.9v0.9h-0.9zM420.8 267.8h0.9v0.9h-0.9zM410.6 262.1h0.9v0.9h-0.9zM405.7 259.4h0.9v0.9h-0.9zM407.1 274.7h0.9v0.9h-0.9zM419.2 269.2h0.9v0.9h-0.9zM422.7 274.8h0.9v0.9h-0.9zM412.0 264.7h0.9v0.9h-0.9zM400.2 263.4h0.9v0.9h-0.9zM409.9 255.8h0.9v0.9h-0.9zM395.8 271.8h0.9v0.9h-0.9zM411.0 268.2h0.9v0.9h-0.9zM412.5 263.1h0.9v0.9h-0.9zM412.2 271.9h0.9v0.9h-0.9zM406.5 266.9h0.9v0.9h-0.9zM419.6 265.2h0.9v0.9h-0.9zM412.7 261.6h0.9v0.9h-0.9zM415.8 264.7h0.9v0.9h-0.9zM421.1 264.0h0.9v0.9h-0.9zM425.0 267.9h0.9v0.9h-0.9zM404.2 258.0h0.9v0.9h-0.9zM417.1 262.3h0.9v0.9h-0.9zM423.4 276.5h0.9v0.9h-0.9zM416.8 258.9h0.9v0.9h-0.9zM411.0 261.1h0.9v0.9h-0.9zM393.7 262.4h0.9v0.9h-0.9zM429.8 268.0h0.9v0.9h-0.9zM414.9 273.9h0.9v0.9h-0.9zM402.3 260.7h0.9v0.9h-0.9zM411.5 268.2h0.9v0.9h-0.9zM399.8 263.1h0.9v0.9h-0.9zM407.5 269.7h0.9v0.9h-0.9zM397.2 257.8h0.9v0.9h-0.9zM406.2 262.0h0.9v0.9h-0.9zM417.2 263.6h0.9v0.9h-0.9zM434.7 268.6h0.9v0.9h-0.9zM415.6 272.6h0.9v0.9h-0.9zM418.6 266.5h0.9v0.9h-0.9zM403.3 261.5h0.9v0.9h-0.9zM415.5 267.4h0.9v0.9h-0.9zM414.1 269.6h0.9v0.9h-0.9zM403.9 257.7h0.9v0.9h-0.9zM423.2 266.3h0.9v0.9h-0.9zM393.4 270.6h0.9v0.9h-0.9zM404.4 257.9h0.9v0.9h-0.9zM420.2 261.6h0.9v0.9h-0.9zM400.8 268.2h0.9v0.9h-0.9zM398.9 276.0h0.9v0.9h-0.9zM406.5 279.4h0.9v0.9h-0.9zM411.0 265.6h0.9v0.9h-0.9zM404.8 262.1h0.9v0.9h-0.9zM405.7 263.5h0.9v0.9h-0.9zM418.7 260.4h0.9v0.9h-0.9zM405.5 251.6h0.9v0.9h-0.9zM423.1 268.6h0.9v0.9h-0.9zM410.0 264.7h0.9v0.9h-0.9zM418.1 269.4h0.9v0.9h-0.9zM417.6 266.4h0.9v0.9h-0.9zM409.0 264.4h0.9v0.9h-0.9zM392.2 265.8h0.9v0.9h-0.9zM398.1 255.6h0.9v0.9h-0.9zM415.7 267.1h0.9v0.9h-0.9zM414.2 276.1h0.9v0.9h-0.9zM423.8 277.2h0.9v0.9h-0.9zM404.7 275.2h0.9v0.9h-0.9zM402.6 262.2h0.9v0.9h-0.9zM418.9 266.5h0.9v0.9h-0.9zM409.5 262.8h0.9v0.9h-0.9zM425.7 255.7h0.9v0.9h-0.9zM419.2 274.0h0.9v0.9h-0.9zM408.5 267.8h0.9v0.9h-0.9zM399.9 268.3h0.9v0.9h-0.9zM437.8 268.3h0.9v0.9h-0.9zM422.1 268.4h0.9v0.9h-0.9zM407.9 261.5h0.9v0.9h-0.9zM410.4 257.9h0.9v0.9h-0.9zM395.6 270.1h0.9v0.9h-0.9zM409.0 267.9h0.9v0.9h-0.9zM411.9 268.3h0.9v0.9h-0.9zM398.4 256.0h0.9v0.9h-0.9zM413.8 271.9h0.9v0.9h-0.9zM401.1 258.9h0.9v0.9h-0.9zM399.7 265.6h0.9v0.9h-0.9zM412.9 266.1h0.9v0.9h-0.9zM403.9 265.1h0.9v0.9h-0.9zM411.5 261.2h0.9v0.9h-0.9zM413.9 262.4h0.9v0.9h-0.9zM417.2 270.8h0.9v0.9h-0.9zM403.1 266.3h0.9v0.9h-0.9zM411.7 261.5h0.9v0.9h-0.9zM404.8 253.8h0.9v0.9h-0.9zM399.7 263.8h0.9v0.9h-0.9zM421.4 264.9h0.9v0.9h-0.9zM410.8 267.2h0.9v0.9h-0.9zM416.0 269.4h0.9v0.9h-0.9zM419.3 272.3h0.9v0.9h-0.9zM402.8 265.1h0.9v0.9h-0.9zM390.2 257.8h0.9v0.9h-0.9zM409.2 268.1h0.9v0.9h-0.9zM406.1 268.6h0.9v0.9h-0.9zM422.7 264.1h0.9v0.9h-0.9zM404.9 264.9h0.9v0.9h-0.9zM414.0 267.1h0.9v0.9h-0.9zM419.1 261.0h0.9v0.9h-0.9zM414.8 273.2h0.9v0.9h-0.9zM418.9 270.2h0.9v0.9h-0.9zM407.3 266.5h0.9v0.9h-0.9zM411.9 256.5h0.9v0.9h-0.9zM404.9 263.2h0.9v0.9h-0.9zM407.1 258.7h0.9v0.9h-0.9z" fill="#000" fill-opacity="0.35"/>
<path d="M418.1 285.0h0.9v0.9h-0.9zM419.3 287.6h0.9v0.9h-0.9zM419.7 295.9h0.9v0.9h-0.9zM419.5 291.3h0.9v0.9h-0.9zM414.4 264.4h0.9v0.9h-0.9zM417.5 293.4h0.9v0.9h-0.9zM417.7 283.0h0.9v0.9h-0.9zM414.3 295.1h0.9v0.9h-0.9zM417.0 290.0h0.9v0.9h-0.9zM423.3 292.3h0.9v0.9h-0.9zM427.5 286.9h0.9v0.9h-0.9zM422.6 293.5h0.9v0.9h-0.9zM416.5 288.4h0.9v0.9h-0.9zM416.9 279.8h0.9v0.9h-0.9zM420.1 281.8h0.9v0.9h-0.9zM425.4 282.1h0.9v0.9h-0.9zM416.9 288.7h0.9v0.9h-0.9zM417.0 288.4h0.9v0.9h-0.9zM416.7 276.6h0.9v0.9h-0.9zM409.8 277.7h0.9v0.9h-0.9zM424.8 291.6h0.9v0.9h-0.9zM419.6 284.3h0.9v0.9h-0.9zM418.4 290.4h0.9v0.9h-0.9zM413.7 281.6h0.9v0.9h-0.9zM415.6 298.1h0.9v0.9h-0.9zM415.0 297.4h0.9v0.9h-0.9zM418.7 288.3h0.9v0.9h-0.9zM424.1 295.0h0.9v0.9h-0.9zM422.6 279.4h0.9v0.9h-0.9zM418.6 284.1h0.9v0.9h-0.9zM414.9 296.1h0.9v0.9h-0.9zM420.1 288.1h0.9v0.9h-0.9zM422.3 287.8h0.9v0.9h-0.9zM424.6 280.4h0.9v0.9h-0.9zM422.4 280.0h0.9v0.9h-0.9zM424.4 285.8h0.9v0.9h-0.9zM423.6 284.7h0.9v0.9h-0.9zM420.5 297.1h0.9v0.9h-0.9zM415.6 288.8h0.9v0.9h-0.9zM415.8 294.8h0.9v0.9h-0.9zM416.7 285.0h0.9v0.9h-0.9zM418.2 297.3h0.9v0.9h-0.9zM415.0 287.8h0.9v0.9h-0.9zM417.8 283.6h0.9v0.9h-0.9zM416.0 286.7h0.9v0.9h-0.9zM419.7 275.6h0.9v0.9h-0.9zM419.9 278.5h0.9v0.9h-0.9zM415.3 287.5h0.9v0.9h-0.9zM418.0 295.9h0.9v0.9h-0.9zM417.2 273.7h0.9v0.9h-0.9zM412.9 289.4h0.9v0.9h-0.9zM420.0 296.5h0.9v0.9h-0.9zM417.0 293.3h0.9v0.9h-0.9zM415.0 298.4h0.9v0.9h-0.9zM418.7 282.6h0.9v0.9h-0.9zM415.8 278.1h0.9v0.9h-0.9zM415.1 278.8h0.9v0.9h-0.9zM418.8 290.8h0.9v0.9h-0.9zM418.4 289.6h0.9v0.9h-0.9zM423.5 285.7h0.9v0.9h-0.9zM414.2 269.7h0.9v0.9h-0.9zM419.9 282.6h0.9v0.9h-0.9zM418.1 291.3h0.9v0.9h-0.9zM420.8 275.5h0.9v0.9h-0.9zM415.4 288.6h0.9v0.9h-0.9zM418.5 297.2h0.9v0.9h-0.9zM417.1 271.5h0.9v0.9h-0.9zM423.4 274.9h0.9v0.9h-0.9zM415.3 291.1h0.9v0.9h-0.9zM419.9 292.3h0.9v0.9h-0.9zM421.1 282.3h0.9v0.9h-0.9zM423.8 274.5h0.9v0.9h-0.9zM416.8 290.3h0.9v0.9h-0.9zM419.5 280.3h0.9v0.9h-0.9zM415.4 291.0h0.9v0.9h-0.9zM416.6 284.5h0.9v0.9h-0.9zM422.7 289.0h0.9v0.9h-0.9zM418.6 288.8h0.9v0.9h-0.9zM414.5 297.8h0.9v0.9h-0.9zM416.1 298.5h0.9v0.9h-0.9zM417.3 284.4h0.9v0.9h-0.9zM424.6 289.5h0.9v0.9h-0.9zM416.6 283.7h0.9v0.9h-0.9zM421.3 284.9h0.9v0.9h-0.9zM414.7 282.6h0.9v0.9h-0.9zM418.5 290.0h0.9v0.9h-0.9zM416.5 298.2h0.9v0.9h-0.9zM415.4 282.3h0.9v0.9h-0.9zM420.9 291.8h0.9v0.9h-0.9zM417.5 295.7h0.9v0.9h-0.9zM419.2 298.6h0.9v0.9h-0.9zM418.2 289.6h0.9v0.9h-0.9zM421.0 274.0h0.9v0.9h-0.9zM407.9 291.1h0.9v0.9h-0.9zM422.5 290.6h0.9v0.9h-0.9zM419.7 299.1h0.9v0.9h-0.9zM420.3 272.9h0.9v0.9h-0.9zM415.4 285.6h0.9v0.9h-0.9zM419.5 284.4h0.9v0.9h-0.9zM407.9 297.2h0.9v0.9h-0.9zM422.6 292.8h0.9v0.9h-0.9zM419.1 288.5h0.9v0.9h-0.9zM420.4 289.9h0.9v0.9h-0.9zM416.3 294.2h0.9v0.9h-0.9zM415.9 287.7h0.9v0.9h-0.9zM417.6 278.8h0.9v0.9h-0.9zM421.3 287.4h0.9v0.9h-0.9zM414.6 287.4h0.9v0.9h-0.9zM413.8 299.5h0.9v0.9h-0.9zM416.8 293.6h0.9v0.9h-0.9zM415.3 281.2h0.9v0.9h-0.9zM418.7 291.3h0.9v0.9h-0.9zM422.5 285.9h0.9v0.9h-0.9zM423.2 295.7h0.9v0.9h-0.9zM415.7 286.6h0.9v0.9h-0.9zM416.9 295.1h0.9v0.9h-0.9zM422.5 286.0h0.9v0.9h-0.9zM417.2 290.7h0.9v0.9h-0.9zM416.1 277.9h0.9v0.9h-0.9zM415.3 290.7h0.9v0.9h-0.9zM412.1 292.0h0.9v0.9h-0.9zM414.6 297.2h0.9v0.9h-0.9zM421.6 289.0h0.9v0.9h-0.9zM424.6 285.0h0.9v0.9h-0.9zM417.0 279.6h0.9v0.9h-0.9zM416.5 288.9h0.9v0.9h-0.9zM421.5 298.2h0.9v0.9h-0.9zM418.0 282.2h0.9v0.9h-0.9zM417.7 284.6h0.9v0.9h-0.9zM417.2 284.8h0.9v0.9h-0.9zM415.7 287.6h0.9v0.9h-0.9zM417.1 286.7h0.9v0.9h-0.9zM413.8 289.2h0.9v0.9h-0.9zM421.2 293.1h0.9v0.9h-0.9zM416.9 278.9h0.9v0.9h-0.9zM414.1 278.7h0.9v0.9h-0.9zM416.6 285.5h0.9v0.9h-0.9zM412.3 293.3h0.9v0.9h-0.9zM413.2 282.6h0.9v0.9h-0.9zM416.3 294.6h0.9v0.9h-0.9zM425.9 285.2h0.9v0.9h-0.9zM418.0 284.9h0.9v0.9h-0.9zM418.2 286.7h0.9v0.9h-0.9zM428.3 279.4h0.9v0.9h-0.9zM418.6 281.7h0.9v0.9h-0.9zM420.3 283.9h0.9v0.9h-0.9zM421.2 279.4h0.9v0.9h-0.9zM426.9 289.7h0.9v0.9h-0.9zM412.3 293.5h0.9v0.9h-0.9zM417.2 278.9h0.9v0.9h-0.9zM420.7 283.9h0.9v0.9h-0.9zM421.8 283.7h0.9v0.9h-0.9zM422.4 289.2h0.9v0.9h-0.9zM420.3 289.2h0.9v0.9h-0.9zM417.6 285.1h0.9v0.9h-0.9zM420.7 293.6h0.9v0.9h-0.9zM425.4 278.9h0.9v0.9h-0.9zM423.1 287.4h0.9v0.9h-0.9zM419.9 281.8h0.9v0.9h-0.9zM425.2 281.5h0.9v0.9h-0.9zM418.7 282.3h0.9v0.9h-0.9zM426.3 297.9h0.9v0.9h-0.9zM414.0 284.5h0.9v0.9h-0.9zM420.4 284.6h0.9v0.9h-0.9zM417.7 279.5h0.9v0.9h-0.9zM419.9 279.4h0.9v0.9h-0.9zM420.4 282.7h0.9v0.9h-0.9zM417.7 280.4h0.9v0.9h-0.9zM419.4 293.5h0.9v0.9h-0.9zM422.5 285.8h0.9v0.9h-0.9zM414.5 287.4h0.9v0.9h-0.9zM425.3 290.2h0.9v0.9h-0.9zM418.8 271.7h0.9v0.9h-0.9zM417.4 292.3h0.9v0.9h-0.9zM415.5 298.6h0.9v0.9h-0.9zM416.9 281.2h0.9v0.9h-0.9zM416.8 287.3h0.9v0.9h-0.9zM422.7 283.6h0.9v0.9h-0.9zM412.3 287.4h0.9v0.9h-0.9z" fill="#000" fill-opacity="0.4"/>
<ellipse cx="410.5" cy="265.0" rx="16.0" ry="10.0" fill="url(#rg)" opacity="0.9" transform="rotate(15 410.5 265.0)" filter="url(#grain)"/>
<ellipse cx="412.0" cy="266.0" rx="8.5" ry="6.0" fill="url(#rg)" opacity="0.7" transform="rotate(15 412.0 266.0)"/>
<ellipse cx="419.0" cy="287.0" rx="8.0" ry="16.0" fill="url(#rg)" opacity="0.85" transform="rotate(0 419.0 287.0)" filter="url(#grain)"/>
<ellipse cx="419.0" cy="297.0" rx="5.0" ry="5.0" fill="url(#rg)" opacity="0.6" transform="rotate(0 419.0 297.0)"/>
</g>
<rect x="382.6" y="226.2" width="74.69999999999999" height="74.0" fill="none" stroke="#777" stroke-width="0.9"/>
<line x1="411.3" y1="226.2" x2="411.3" y2="300.2" stroke="#888" stroke-width="0.8"/>
<line x1="382.6" y1="278.6" x2="457.3" y2="278.6" stroke="#888" stroke-width="0.8"/>
<text x="86.2" y="53.7" font-size="10" text-anchor="start" fill="#000" textLength="13.8" lengthAdjust="spacingAndGlyphs" stroke="#000" stroke-width="0.12"><tspan style='font-family:"Liberation Sans", sans-serif;font-weight:normal;'>0.5</tspan></text>
<text x="108.8" y="53.7" font-size="10" text-anchor="start" fill="#000" textLength="14.2" lengthAdjust="spacingAndGlyphs" stroke="#000" stroke-width="0.12"><tspan style='font-family:"Liberation Sans", sans-serif;font-weight:normal;'>0.2</tspan></text>
<text x="85.8" y="65.6" font-size="10" text-anchor="start" fill="#000" textLength="19.6" lengthAdjust="spacingAndGlyphs" stroke="#000" stroke-width="0.12"><tspan style='font-family:"Liberation Sans", sans-serif;font-weight:normal;'>99.2</tspan></text>
<text x="108.8" y="65.6" font-size="10" text-anchor="start" fill="#000" textLength="13.9" lengthAdjust="spacingAndGlyphs" stroke="#000" stroke-width="0.12"><tspan style='font-family:"Liberation Sans", sans-serif;font-weight:normal;'>0.1</tspan></text>
<line x1="82.7" y1="55.6" x2="127.5" y2="55.6" stroke="#111" stroke-width="1.4"/>
<line x1="106.3" y1="43" x2="106.3" y2="68" stroke="#111" stroke-width="1.4"/>
<text x="193.75" y="53.7" font-size="10" text-anchor="start" fill="#000" textLength="12.5" lengthAdjust="spacingAndGlyphs" stroke="#000" stroke-width="0.12"><tspan style='font-family:"Liberation Sans", sans-serif;font-weight:normal;'>1.1</tspan></text>
<text x="216.25" y="53.7" font-size="10" text-anchor="start" fill="#000" textLength="13.75" lengthAdjust="spacingAndGlyphs" stroke="#000" stroke-width="0.12"><tspan style='font-family:"Liberation Sans", sans-serif;font-weight:normal;'>0.3</tspan></text>
<text x="192.5" y="65.6" font-size="10" text-anchor="start" fill="#000" textLength="20" lengthAdjust="spacingAndGlyphs" stroke="#000" stroke-width="0.12"><tspan style='font-family:"Liberation Sans", sans-serif;font-weight:normal;'>98.2</tspan></text>
<text x="216.25" y="65.6" font-size="10" text-anchor="start" fill="#000" textLength="13.25" lengthAdjust="spacingAndGlyphs" stroke="#000" stroke-width="0.12"><tspan style='font-family:"Liberation Sans", sans-serif;font-weight:normal;'>0.4</tspan></text>
<line x1="190.5" y1="55.5" x2="235.5" y2="55.5" stroke="#111" stroke-width="1.4"/>
<line x1="213.75" y1="43.5" x2="213.75" y2="67.5" stroke="#111" stroke-width="1.4"/>
<text x="298.75" y="53.7" font-size="10" text-anchor="start" fill="#000" textLength="14.25" lengthAdjust="spacingAndGlyphs" stroke="#000" stroke-width="0.12"><tspan style='font-family:"Liberation Sans", sans-serif;font-weight:normal;'>2.6</tspan></text>
<text x="322.5" y="53.7" font-size="10" text-anchor="start" fill="#000" textLength="13.75" lengthAdjust="spacingAndGlyphs" stroke="#000" stroke-width="0.12"><tspan style='font-family:"Liberation Sans", sans-serif;font-weight:normal;'>1.3</tspan></text>
<text x="298.75" y="65.6" font-size="10" text-anchor="start" fill="#000" textLength="20" lengthAdjust="spacingAndGlyphs" stroke="#000" stroke-width="0.12"><tspan style='font-family:"Liberation Sans", sans-serif;font-weight:normal;'>94.3</tspan></text>
<text x="322.5" y="65.6" font-size="10" text-anchor="start" fill="#000" textLength="13.75" lengthAdjust="spacingAndGlyphs" stroke="#000" stroke-width="0.12"><tspan style='font-family:"Liberation Sans", sans-serif;font-weight:normal;'>1.9</tspan></text>
<line x1="297.5" y1="55.5" x2="342.5" y2="55.5" stroke="#111" stroke-width="1.4"/>
<line x1="320.75" y1="43.5" x2="320.75" y2="67.5" stroke="#111" stroke-width="1.4"/>
<text x="414" y="53.7" font-size="10" text-anchor="start" fill="#000" textLength="14" lengthAdjust="spacingAndGlyphs" stroke="#000" stroke-width="0.12"><tspan style='font-family:"Liberation Sans", sans-serif;font-weight:normal;'>0.0</tspan></text>
<text x="433" y="53.7" font-size="10" text-anchor="start" fill="#000" textLength="20" lengthAdjust="spacingAndGlyphs" stroke="#000" stroke-width="0.12"><tspan style='font-family:"Liberation Sans", sans-serif;font-weight:normal;'>82.8</tspan></text>
<text x="414" y="65.6" font-size="10" text-anchor="start" fill="#000" textLength="13.5" lengthAdjust="spacingAndGlyphs" stroke="#000" stroke-width="0.12"><tspan style='font-family:"Liberation Sans", sans-serif;font-weight:normal;'>6.2</tspan></text>
<text x="433" y="65.6" font-size="10" text-anchor="start" fill="#000" textLength="20" lengthAdjust="spacingAndGlyphs" stroke="#000" stroke-width="0.12"><tspan style='font-family:"Liberation Sans", sans-serif;font-weight:normal;'>11.0</tspan></text>
<line x1="408.2" y1="55.8" x2="453" y2="55.8" stroke="#111" stroke-width="1.4"/>
<line x1="431" y1="43.5" x2="431" y2="68" stroke="#111" stroke-width="1.4"/>
<text x="82" y="148.8" font-size="10.5" text-anchor="start" fill="#000" textLength="13.8" lengthAdjust="spacingAndGlyphs" stroke="#000" stroke-width="0.12"><tspan style='font-family:"Liberation Sans", sans-serif;font-weight:normal;'>0.1</tspan></text>
<text x="104.4" y="148.8" font-size="10.5" text-anchor="start" fill="#000" textLength="14.4" lengthAdjust="spacingAndGlyphs" stroke="#000" stroke-width="0.12"><tspan style='font-family:"Liberation Sans", sans-serif;font-weight:normal;'>0.3</tspan></text>
<text x="82" y="161.3" font-size="10.5" text-anchor="start" fill="#000" textLength="20" lengthAdjust="spacingAndGlyphs" stroke="#000" stroke-width="0.12"><tspan style='font-family:"Liberation Sans", sans-serif;font-weight:normal;'>99.5</tspan></text>
<text x="104.4" y="161.3" font-size="10.5" text-anchor="start" fill="#000" textLength="14.4" lengthAdjust="spacingAndGlyphs" stroke="#000" stroke-width="0.12"><tspan style='font-family:"Liberation Sans", sans-serif;font-weight:normal;'>0.1</tspan></text>
<line x1="80" y1="150.8" x2="124.6" y2="150.8" stroke="#111" stroke-width="1.4"/>
<line x1="103" y1="138.3" x2="103" y2="163.8" stroke="#111" stroke-width="1.4"/>
<text x="188.75" y="148.8" font-size="10.5" text-anchor="start" fill="#000" textLength="13.75" lengthAdjust="spacingAndGlyphs" stroke="#000" stroke-width="0.12"><tspan style='font-family:"Liberation Sans", sans-serif;font-weight:normal;'>1.0</tspan></text>
<text x="214.5" y="148.8" font-size="10.5" text-anchor="start" fill="#000" textLength="14.25" lengthAdjust="spacingAndGlyphs" stroke="#000" stroke-width="0.12"><tspan style='font-family:"Liberation Sans", sans-serif;font-weight:normal;'>0.3</tspan></text>
<text x="188.75" y="161.3" font-size="10.5" text-anchor="start" fill="#000" textLength="20" lengthAdjust="spacingAndGlyphs" stroke="#000" stroke-width="0.12"><tspan style='font-family:"Liberation Sans", sans-serif;font-weight:normal;'>98.6</tspan></text>
<text x="214.5" y="161.3" font-size="10.5" text-anchor="start" fill="#000" textLength="12.5" lengthAdjust="spacingAndGlyphs" stroke="#000" stroke-width="0.12"><tspan style='font-family:"Liberation Sans", sans-serif;font-weight:normal;'>0.1</tspan></text>
<line x1="187" y1="151.2" x2="232.5" y2="151.2" stroke="#111" stroke-width="1.4"/>
<line x1="211.75" y1="138.3" x2="211.75" y2="163.8" stroke="#111" stroke-width="1.4"/>
<text x="300" y="148.8" font-size="10.5" text-anchor="start" fill="#000" textLength="13.75" lengthAdjust="spacingAndGlyphs" stroke="#000" stroke-width="0.12"><tspan style='font-family:"Liberation Sans", sans-serif;font-weight:normal;'>3.0</tspan></text>
<text x="323.75" y="148.8" font-size="10.5" text-anchor="start" fill="#000" textLength="13.75" lengthAdjust="spacingAndGlyphs" stroke="#000" stroke-width="0.12"><tspan style='font-family:"Liberation Sans", sans-serif;font-weight:normal;'>1.2</tspan></text>
<text x="298.75" y="161.3" font-size="10.5" text-anchor="start" fill="#000" textLength="21.25" lengthAdjust="spacingAndGlyphs" stroke="#000" stroke-width="0.12"><tspan style='font-family:"Liberation Sans", sans-serif;font-weight:normal;'>95.5</tspan></text>
<text x="323.75" y="161.3" font-size="10.5" text-anchor="start" fill="#000" textLength="13.25" lengthAdjust="spacingAndGlyphs" stroke="#000" stroke-width="0.12"><tspan style='font-family:"Liberation Sans", sans-serif;font-weight:normal;'>0.4</tspan></text>
<line x1="298.75" y1="151.2" x2="342.5" y2="151.2" stroke="#111" stroke-width="1.4"/>
<line x1="321.25" y1="138.3" x2="321.25" y2="163.8" stroke="#111" stroke-width="1.4"/>
<text x="413.75" y="148.8" font-size="10.5" text-anchor="start" fill="#000" textLength="13.75" lengthAdjust="spacingAndGlyphs" stroke="#000" stroke-width="0.12"><tspan style='font-family:"Liberation Sans", sans-serif;font-weight:normal;'>0.1</tspan></text>
<text x="433" y="148.8" font-size="10.5" text-anchor="start" fill="#000" textLength="20.75" lengthAdjust="spacingAndGlyphs" stroke="#000" stroke-width="0.12"><tspan style='font-family:"Liberation Sans", sans-serif;font-weight:normal;'>91.8</tspan></text>
<text x="413.75" y="161.3" font-size="10.5" text-anchor="start" fill="#000" textLength="13.75" lengthAdjust="spacingAndGlyphs" stroke="#000" stroke-width="0.12"><tspan style='font-family:"Liberation Sans", sans-serif;font-weight:normal;'>6.8</tspan></text>
<text x="434.5" y="161.3" font-size="10.5" text-anchor="start" fill="#000" textLength="13.5" lengthAdjust="spacingAndGlyphs" stroke="#000" stroke-width="0.12"><tspan style='font-family:"Liberation Sans", sans-serif;font-weight:normal;'>1.3</tspan></text>
<line x1="408.75" y1="151.2" x2="452.5" y2="151.2" stroke="#111" stroke-width="1.4"/>
<line x1="431.25" y1="138.3" x2="431.25" y2="163.8" stroke="#111" stroke-width="1.4"/>
<text x="84.6" y="239.6" font-size="11" text-anchor="start" fill="#000" textLength="20.8" lengthAdjust="spacingAndGlyphs" stroke="#000" stroke-width="0.12"><tspan style='font-family:"Liberation Sans", sans-serif;font-weight:normal;'>93.8</tspan></text>
<text x="108.3" y="239.6" font-size="11" text-anchor="start" fill="#000" textLength="18.2" lengthAdjust="spacingAndGlyphs" stroke="#000" stroke-width="0.12"><tspan style='font-family:"Liberation Sans", sans-serif;font-weight:normal;'>1.84</tspan></text>
<text x="84.6" y="252" font-size="11" text-anchor="start" fill="#000" textLength="19.8" lengthAdjust="spacingAndGlyphs" stroke="#000" stroke-width="0.12"><tspan style='font-family:"Liberation Sans", sans-serif;font-weight:normal;'>3.28</tspan></text>
<text x="111.2" y="252" font-size="11" text-anchor="start" fill="#000" textLength="11.8" lengthAdjust="spacingAndGlyphs" stroke="#000" stroke-width="0.12"><tspan style='font-family:"Liberation Sans", sans-serif;font-weight:normal;'>1.1</tspan></text>
<line x1="84.6" y1="241.2" x2="124.6" y2="241.2" stroke="#111" stroke-width="1.4"/>
<line x1="106.3" y1="229.4" x2="106.3" y2="253.5" stroke="#111" stroke-width="1.4"/>
<text x="193.75" y="239.6" font-size="11" text-anchor="start" fill="#000" textLength="20" lengthAdjust="spacingAndGlyphs" stroke="#000" stroke-width="0.12"><tspan style='font-family:"Liberation Sans", sans-serif;font-weight:normal;'>91.2</tspan></text>
<text x="216.25" y="239.6" font-size="11" text-anchor="start" fill="#000" textLength="20" lengthAdjust="spacingAndGlyphs" stroke="#000" stroke-width="0.12"><tspan style='font-family:"Liberation Sans", sans-serif;font-weight:normal;'>3.84</tspan></text>
<text x="193.75" y="252" font-size="11" text-anchor="start" fill="#000" textLength="19.25" lengthAdjust="spacingAndGlyphs" stroke="#000" stroke-width="0.12"><tspan style='font-family:"Liberation Sans", sans-serif;font-weight:normal;'>3.62</tspan></text>
<text x="216.25" y="252" font-size="11" text-anchor="start" fill="#000" textLength="20" lengthAdjust="spacingAndGlyphs" stroke="#000" stroke-width="0.12"><tspan style='font-family:"Liberation Sans", sans-serif;font-weight:normal;'>1.34</tspan></text>
<line x1="193.75" y1="241.2" x2="236.25" y2="241.2" stroke="#111" stroke-width="1.4"/>
<line x1="215.5" y1="229.4" x2="215.5" y2="253.5" stroke="#111" stroke-width="1.4"/>
<text x="302" y="239.6" font-size="11" text-anchor="start" fill="#000" textLength="20.5" lengthAdjust="spacingAndGlyphs" stroke="#000" stroke-width="0.12"><tspan style='font-family:"Liberation Sans", sans-serif;font-weight:normal;'>92.6</tspan></text>
<text x="324.5" y="239.6" font-size="11" text-anchor="start" fill="#000" textLength="20.5" lengthAdjust="spacingAndGlyphs" stroke="#000" stroke-width="0.12"><tspan style='font-family:"Liberation Sans", sans-serif;font-weight:normal;'>3.82</tspan></text>
<text x="302" y="252" font-size="11" text-anchor="start" fill="#000" textLength="19.25" lengthAdjust="spacingAndGlyphs" stroke="#000" stroke-width="0.12"><tspan style='font-family:"Liberation Sans", sans-serif;font-weight:normal;'>1.71</tspan></text>
<text x="325.5" y="252" font-size="11" text-anchor="start" fill="#000" textLength="19.5" lengthAdjust="spacingAndGlyphs" stroke="#000" stroke-width="0.12"><tspan style='font-family:"Liberation Sans", sans-serif;font-weight:normal;'>1.92</tspan></text>
<line x1="302" y1="241.2" x2="345" y2="241.2" stroke="#111" stroke-width="1.4"/>
<line x1="323.25" y1="229.4" x2="323.25" y2="253.5" stroke="#111" stroke-width="1.4"/>
<text x="412" y="239.6" font-size="11" text-anchor="start" fill="#000" textLength="20" lengthAdjust="spacingAndGlyphs" stroke="#000" stroke-width="0.12"><tspan style='font-family:"Liberation Sans", sans-serif;font-weight:normal;'>27.9</tspan></text>
<text x="434.5" y="239.6" font-size="11" text-anchor="start" fill="#000" textLength="20.5" lengthAdjust="spacingAndGlyphs" stroke="#000" stroke-width="0.12"><tspan style='font-family:"Liberation Sans", sans-serif;font-weight:normal;'>39.4</tspan></text>
<text x="412.5" y="252" font-size="11" text-anchor="start" fill="#000" textLength="19.5" lengthAdjust="spacingAndGlyphs" stroke="#000" stroke-width="0.12"><tspan style='font-family:"Liberation Sans", sans-serif;font-weight:normal;'>1.12</tspan></text>
<text x="435" y="252" font-size="11" text-anchor="start" fill="#000" textLength="20.5" lengthAdjust="spacingAndGlyphs" stroke="#000" stroke-width="0.12"><tspan style='font-family:"Liberation Sans", sans-serif;font-weight:normal;'>31.6</tspan></text>
<line x1="412" y1="241.2" x2="455" y2="241.2" stroke="#111" stroke-width="1.4"/>
<line x1="433.75" y1="229.4" x2="433.75" y2="253.5" stroke="#111" stroke-width="1.4"/>
<line x1="54.2" y1="37.2" x2="54.2" y2="111.3" stroke="#444" stroke-width="1.0"/>
<line x1="54.2" y1="111.3" x2="129" y2="111.3" stroke="#444" stroke-width="1.0"/>
<line x1="52.400000000000006" y1="56" x2="54.2" y2="56" stroke="#555" stroke-width="0.8"/>
<line x1="52.400000000000006" y1="74.4" x2="54.2" y2="74.4" stroke="#555" stroke-width="0.8"/>
<line x1="52.400000000000006" y1="93" x2="54.2" y2="93" stroke="#555" stroke-width="0.8"/>
<line x1="52.400000000000006" y1="109" x2="54.2" y2="109" stroke="#555" stroke-width="0.8"/>
<rect x="45.300000000000004" y="55.3" width="5.3" height="1.4" fill="#888" stroke="none" stroke-width="0" opacity="0.8"/>
<rect x="47.0" y="73.7" width="3.6" height="1.4" fill="#888" stroke="none" stroke-width="0" opacity="0.8"/>
<rect x="48.6" y="92.3" width="2.0" height="1.4" fill="#888" stroke="none" stroke-width="0" opacity="0.8"/>
<rect x="49.6" y="108.2" width="1.0" height="1.4" fill="#888" stroke="none" stroke-width="0" opacity="0.8"/>
<rect x="53.7" y="115.5" width="1.0" height="1.4" fill="#888" stroke="none" stroke-width="0" opacity="0.8"/>
<rect x="72.45" y="115.5" width="2.5" height="1.4" fill="#888" stroke="none" stroke-width="0" opacity="0.8"/>
<rect x="89.95" y="115.5" width="4.5" height="1.4" fill="#888" stroke="none" stroke-width="0" opacity="0.8"/>
<rect x="107.80000000000001" y="115.5" width="6" height="1.4" fill="#888" stroke="none" stroke-width="0" opacity="0.8"/>
<text x="86.4" y="130.4" font-size="5.0" text-anchor="middle" fill="#333" textLength="27.3" lengthAdjust="spacingAndGlyphs"><tspan style='font-family:"Liberation Sans", sans-serif;font-weight:normal;'>09-03-09.002</tspan></text>
<line x1="54.0" y1="132.3" x2="54.0" y2="201" stroke="#222" stroke-width="1.3"/>
<line x1="54.0" y1="200.9" x2="129" y2="200.9" stroke="#222" stroke-width="1.2"/>
<line x1="52.6" y1="200.6" x2="54.2" y2="200.6" stroke="#333" stroke-width="0.5"/>
<line x1="54.2" y1="200.9" x2="54.2" y2="202.5" stroke="#333" stroke-width="0.5"/>
<line x1="53.300000000000004" y1="195.45991282403753" x2="54.2" y2="195.45991282403753" stroke="#333" stroke-width="0.5"/>
<line x1="59.829260918916454" y1="200.9" x2="59.829260918916454" y2="201.8" stroke="#333" stroke-width="0.5"/>
<line x1="53.300000000000004" y1="192.45315457566176" x2="54.2" y2="192.45315457566176" stroke="#333" stroke-width="0.5"/>
<line x1="63.12216746325769" y1="200.9" x2="63.12216746325769" y2="201.8" stroke="#333" stroke-width="0.5"/>
<line x1="53.300000000000004" y1="190.31982564807504" x2="54.2" y2="190.31982564807504" stroke="#333" stroke-width="0.5"/>
<line x1="65.4585218378329" y1="200.9" x2="65.4585218378329" y2="201.8" stroke="#333" stroke-width="0.5"/>
<line x1="53.300000000000004" y1="188.66508717596247" x2="54.2" y2="188.66508717596247" stroke="#333" stroke-width="0.5"/>
<line x1="67.27073908108355" y1="200.9" x2="67.27073908108355" y2="201.8" stroke="#333" stroke-width="0.5"/>
<line x1="53.300000000000004" y1="187.3130673996993" x2="54.2" y2="187.3130673996993" stroke="#333" stroke-width="0.5"/>
<line x1="68.75142838217414" y1="200.9" x2="68.75142838217414" y2="201.8" stroke="#333" stroke-width="0.5"/>
<line x1="53.300000000000004" y1="186.16995096675657" x2="54.2" y2="186.16995096675657" stroke="#333" stroke-width="0.5"/>
<line x1="70.00333334826661" y1="200.9" x2="70.00333334826661" y2="201.8" stroke="#333" stroke-width="0.5"/>
<line x1="53.300000000000004" y1="185.17973847211258" x2="54.2" y2="185.17973847211258" stroke="#333" stroke-width="0.5"/>
<line x1="71.08778275674935" y1="200.9" x2="71.08778275674935" y2="201.8" stroke="#333" stroke-width="0.5"/>
<line x1="53.300000000000004" y1="184.30630915132352" x2="54.2" y2="184.30630915132352" stroke="#333" stroke-width="0.5"/>
<line x1="72.04433492651538" y1="200.9" x2="72.04433492651538" y2="201.8" stroke="#333" stroke-width="0.5"/>
<line x1="52.6" y1="183.525" x2="54.2" y2="183.525" stroke="#333" stroke-width="0.5"/>
<line x1="72.9" y1="200.9" x2="72.9" y2="202.5" stroke="#333" stroke-width="0.5"/>
<line x1="53.300000000000004" y1="178.3849128240375" x2="54.2" y2="178.3849128240375" stroke="#333" stroke-width="0.5"/>
<line x1="78.52926091891645" y1="200.9" x2="78.52926091891645" y2="201.8" stroke="#333" stroke-width="0.5"/>
<line x1="53.300000000000004" y1="175.37815457566177" x2="54.2" y2="175.37815457566177" stroke="#333" stroke-width="0.5"/>
<line x1="81.82216746325768" y1="200.9" x2="81.82216746325768" y2="201.8" stroke="#333" stroke-width="0.5"/>
<line x1="53.300000000000004" y1="173.24482564807505" x2="54.2" y2="173.24482564807505" stroke="#333" stroke-width="0.5"/>
<line x1="84.1585218378329" y1="200.9" x2="84.1585218378329" y2="201.8" stroke="#333" stroke-width="0.5"/>
<line x1="53.300000000000004" y1="171.59008717596248" x2="54.2" y2="171.59008717596248" stroke="#333" stroke-width="0.5"/>
<line x1="85.97073908108355" y1="200.9" x2="85.97073908108355" y2="201.8" stroke="#333" stroke-width="0.5"/>
<line x1="53.300000000000004" y1="170.23806739969928" x2="54.2" y2="170.23806739969928" stroke="#333" stroke-width="0.5"/>
<line x1="87.45142838217413" y1="200.9" x2="87.45142838217413" y2="201.8" stroke="#333" stroke-width="0.5"/>
<line x1="53.300000000000004" y1="169.09495096675656" x2="54.2" y2="169.09495096675656" stroke="#333" stroke-width="0.5"/>
<line x1="88.7033333482666" y1="200.9" x2="88.7033333482666" y2="201.8" stroke="#333" stroke-width="0.5"/>
<line x1="53.300000000000004" y1="168.10473847211256" x2="54.2" y2="168.10473847211256" stroke="#333" stroke-width="0.5"/>
<line x1="89.78778275674935" y1="200.9" x2="89.78778275674935" y2="201.8" stroke="#333" stroke-width="0.5"/>
<line x1="53.300000000000004" y1="167.23130915132353" x2="54.2" y2="167.23130915132353" stroke="#333" stroke-width="0.5"/>
<line x1="90.74433492651536" y1="200.9" x2="90.74433492651536" y2="201.8" stroke="#333" stroke-width="0.5"/>
<line x1="52.6" y1="166.45" x2="54.2" y2="166.45" stroke="#333" stroke-width="0.5"/>
<line x1="91.6" y1="200.9" x2="91.6" y2="202.5" stroke="#333" stroke-width="0.5"/>
<line x1="53.300000000000004" y1="161.30991282403753" x2="54.2" y2="161.30991282403753" stroke="#333" stroke-width="0.5"/>
<line x1="97.22926091891645" y1="200.9" x2="97.22926091891645" y2="201.8" stroke="#333" stroke-width="0.5"/>
<line x1="53.300000000000004" y1="158.30315457566178" x2="54.2" y2="158.30315457566178" stroke="#333" stroke-width="0.5"/>
<line x1="100.52216746325769" y1="200.9" x2="100.52216746325769" y2="201.8" stroke="#333" stroke-width="0.5"/>
<line x1="53.300000000000004" y1="156.16982564807506" x2="54.2" y2="156.16982564807506" stroke="#333" stroke-width="0.5"/>
<line x1="102.85852183783291" y1="200.9" x2="102.85852183783291" y2="201.8" stroke="#333" stroke-width="0.5"/>
<line x1="53.300000000000004" y1="154.5150871759625" x2="54.2" y2="154.5150871759625" stroke="#333" stroke-width="0.5"/>
<line x1="104.67073908108355" y1="200.9" x2="104.67073908108355" y2="201.8" stroke="#333" stroke-width="0.5"/>
<line x1="53.300000000000004" y1="153.1630673996993" x2="54.2" y2="153.1630673996993" stroke="#333" stroke-width="0.5"/>
<line x1="106.15142838217415" y1="200.9" x2="106.15142838217415" y2="201.8" stroke="#333" stroke-width="0.5"/>
<line x1="53.300000000000004" y1="152.01995096675657" x2="54.2" y2="152.01995096675657" stroke="#333" stroke-width="0.5"/>
<line x1="107.40333334826661" y1="200.9" x2="107.40333334826661" y2="201.8" stroke="#333" stroke-width="0.5"/>
<line x1="53.300000000000004" y1="151.02973847211257" x2="54.2" y2="151.02973847211257" stroke="#333" stroke-width="0.5"/>
<line x1="108.48778275674934" y1="200.9" x2="108.48778275674934" y2="201.8" stroke="#333" stroke-width="0.5"/>
<line x1="53.300000000000004" y1="150.15630915132354" x2="54.2" y2="150.15630915132354" stroke="#333" stroke-width="0.5"/>
<line x1="109.44433492651538" y1="200.9" x2="109.44433492651538" y2="201.8" stroke="#333" stroke-width="0.5"/>
<line x1="52.6" y1="149.375" x2="54.2" y2="149.375" stroke="#333" stroke-width="0.5"/>
<line x1="110.3" y1="200.9" x2="110.3" y2="202.5" stroke="#333" stroke-width="0.5"/>
<line x1="53.300000000000004" y1="144.23491282403754" x2="54.2" y2="144.23491282403754" stroke="#333" stroke-width="0.5"/>
<line x1="115.92926091891644" y1="200.9" x2="115.92926091891644" y2="201.8" stroke="#333" stroke-width="0.5"/>
<line x1="53.300000000000004" y1="141.22815457566176" x2="54.2" y2="141.22815457566176" stroke="#333" stroke-width="0.5"/>
<line x1="119.22216746325769" y1="200.9" x2="119.22216746325769" y2="201.8" stroke="#333" stroke-width="0.5"/>
<line x1="53.300000000000004" y1="139.09482564807504" x2="54.2" y2="139.09482564807504" stroke="#333" stroke-width="0.5"/>
<line x1="121.5585218378329" y1="200.9" x2="121.5585218378329" y2="201.8" stroke="#333" stroke-width="0.5"/>
<line x1="53.300000000000004" y1="137.4400871759625" x2="54.2" y2="137.4400871759625" stroke="#333" stroke-width="0.5"/>
<line x1="123.37073908108356" y1="200.9" x2="123.37073908108356" y2="201.8" stroke="#333" stroke-width="0.5"/>
<line x1="53.300000000000004" y1="136.0880673996993" x2="54.2" y2="136.0880673996993" stroke="#333" stroke-width="0.5"/>
<line x1="124.85142838217413" y1="200.9" x2="124.85142838217413" y2="201.8" stroke="#333" stroke-width="0.5"/>
<line x1="53.300000000000004" y1="134.94495096675658" x2="54.2" y2="134.94495096675658" stroke="#333" stroke-width="0.5"/>
<line x1="126.1033333482666" y1="200.9" x2="126.1033333482666" y2="201.8" stroke="#333" stroke-width="0.5"/>
<line x1="53.300000000000004" y1="133.95473847211258" x2="54.2" y2="133.95473847211258" stroke="#333" stroke-width="0.5"/>
<line x1="127.18778275674934" y1="200.9" x2="127.18778275674934" y2="201.8" stroke="#333" stroke-width="0.5"/>
<line x1="53.300000000000004" y1="133.08130915132352" x2="54.2" y2="133.08130915132352" stroke="#333" stroke-width="0.5"/>
<line x1="128.14433492651537" y1="200.9" x2="128.14433492651537" y2="201.8" stroke="#333" stroke-width="0.5"/>
<text x="49.900000000000006" y="199.0" font-size="4.6" text-anchor="middle" fill="#111" transform="rotate(-90 49.900000000000006 199.0)"><tspan style='font-family:"Liberation Sans", sans-serif;font-weight:normal;'>10</tspan><tspan style='font-family:"Liberation Sans", sans-serif;font-weight:normal;font-size:3.2px;' dy="-2.3">0</tspan></text>
<text x="49.900000000000006" y="183.6" font-size="4.6" text-anchor="middle" fill="#111" transform="rotate(-90 49.900000000000006 183.6)"><tspan style='font-family:"Liberation Sans", sans-serif;font-weight:normal;'>10</tspan><tspan style='font-family:"Liberation Sans", sans-serif;font-weight:normal;font-size:3.2px;' dy="-2.3">1</tspan></text>
<text x="49.900000000000006" y="167.0" font-size="4.6" text-anchor="middle" fill="#111" transform="rotate(-90 49.900000000000006 167.0)"><tspan style='font-family:"Liberation Sans", sans-serif;font-weight:normal;'>10</tspan><tspan style='font-family:"Liberation Sans", sans-serif;font-weight:normal;font-size:3.2px;' dy="-2.3">2</tspan></text>
<text x="49.900000000000006" y="149.8" font-size="4.6" text-anchor="middle" fill="#111" transform="rotate(-90 49.900000000000006 149.8)"><tspan style='font-family:"Liberation Sans", sans-serif;font-weight:normal;'>10</tspan><tspan style='font-family:"Liberation Sans", sans-serif;font-weight:normal;font-size:3.2px;' dy="-2.3">3</tspan></text>
<text x="49.900000000000006" y="133.8" font-size="4.6" text-anchor="middle" fill="#111" transform="rotate(-90 49.900000000000006 133.8)"><tspan style='font-family:"Liberation Sans", sans-serif;font-weight:normal;'>10</tspan><tspan style='font-family:"Liberation Sans", sans-serif;font-weight:normal;font-size:3.2px;' dy="-2.3">4</tspan></text>
<text x="44.400000000000006" y="166.7" font-size="4.4" text-anchor="middle" fill="#111" textLength="21.3" lengthAdjust="spacingAndGlyphs" transform="rotate(-90 44.400000000000006 166.7)"><tspan style='font-family:"Liberation Sans", sans-serif;font-weight:normal;'>PE-gdTCR</tspan></text>
<text x="55.0" y="207.9" font-size="4.6" text-anchor="middle" fill="#333"><tspan style='font-family:"Liberation Sans", sans-serif;font-weight:normal;'>10</tspan><tspan style='font-family:"Liberation Sans", sans-serif;font-weight:normal;font-size:3.2px;' dy="-2.3">0</tspan></text>
<text x="72.6" y="207.9" font-size="4.6" text-anchor="middle" fill="#333"><tspan style='font-family:"Liberation Sans", sans-serif;font-weight:normal;'>10</tspan><tspan style='font-family:"Liberation Sans", sans-serif;font-weight:normal;font-size:3.2px;' dy="-2.3">1</tspan></text>
<text x="90.9" y="207.9" font-size="4.6" text-anchor="middle" fill="#333"><tspan style='font-family:"Liberation Sans", sans-serif;font-weight:normal;'>10</tspan><tspan style='font-family:"Liberation Sans", sans-serif;font-weight:normal;font-size:3.2px;' dy="-2.3">2</tspan></text>
<text x="109.5" y="207.9" font-size="4.6" text-anchor="middle" fill="#333"><tspan style='font-family:"Liberation Sans", sans-serif;font-weight:normal;'>10</tspan><tspan style='font-family:"Liberation Sans", sans-serif;font-weight:normal;font-size:3.2px;' dy="-2.3">3</tspan></text>
<text x="127.5" y="207.9" font-size="4.6" text-anchor="middle" fill="#333"><tspan style='font-family:"Liberation Sans", sans-serif;font-weight:normal;'>10</tspan><tspan style='font-family:"Liberation Sans", sans-serif;font-weight:normal;font-size:3.2px;' dy="-2.3">4</tspan></text>
<text x="91.6" y="213.6" font-size="4.4" text-anchor="middle" fill="#333" textLength="22.5" lengthAdjust="spacingAndGlyphs"><tspan style='font-family:"Liberation Sans", sans-serif;font-weight:normal;'>FITC-delta2</tspan></text>
<text x="49.0" y="300.2" font-size="4.2" text-anchor="middle" fill="#666"><tspan style='font-family:"Liberation Sans", sans-serif;font-weight:normal;'>10</tspan><tspan style='font-family:"Liberation Sans", sans-serif;font-weight:normal;font-size:3px;' dy="-2">0</tspan></text>
<text x="49.0" y="282.9" font-size="4.2" text-anchor="middle" fill="#666"><tspan style='font-family:"Liberation Sans", sans-serif;font-weight:normal;'>10</tspan><tspan style='font-family:"Liberation Sans", sans-serif;font-weight:normal;font-size:3px;' dy="-2">1</tspan></text>
<text x="49.0" y="265.0" font-size="4.2" text-anchor="middle" fill="#666"><tspan style='font-family:"Liberation Sans", sans-serif;font-weight:normal;'>10</tspan><tspan style='font-family:"Liberation Sans", sans-serif;font-weight:normal;font-size:3px;' dy="-2">2</tspan></text>
<text x="49.0" y="247.0" font-size="4.2" text-anchor="middle" fill="#666"><tspan style='font-family:"Liberation Sans", sans-serif;font-weight:normal;'>10</tspan><tspan style='font-family:"Liberation Sans", sans-serif;font-weight:normal;font-size:3px;' dy="-2">3</tspan></text>
<text x="49.0" y="232.8" font-size="4.2" text-anchor="middle" fill="#666"><tspan style='font-family:"Liberation Sans", sans-serif;font-weight:normal;'>10</tspan><tspan style='font-family:"Liberation Sans", sans-serif;font-weight:normal;font-size:3px;' dy="-2">4</tspan></text>
<text x="57.4" y="307.6" font-size="4.2" text-anchor="middle" fill="#666"><tspan style='font-family:"Liberation Sans", sans-serif;font-weight:normal;'>10</tspan><tspan style='font-family:"Liberation Sans", sans-serif;font-weight:normal;font-size:3px;' dy="-2">0</tspan></text>
<text x="73.7" y="307.6" font-size="4.2" text-anchor="middle" fill="#666"><tspan style='font-family:"Liberation Sans", sans-serif;font-weight:normal;'>10</tspan><tspan style='font-family:"Liberation Sans", sans-serif;font-weight:normal;font-size:3px;' dy="-2">1</tspan></text>
<text x="91.7" y="307.6" font-size="4.2" text-anchor="middle" fill="#666"><tspan style='font-family:"Liberation Sans", sans-serif;font-weight:normal;'>10</tspan><tspan style='font-family:"Liberation Sans", sans-serif;font-weight:normal;font-size:3px;' dy="-2">2</tspan></text>
<text x="108.0" y="307.6" font-size="4.2" text-anchor="middle" fill="#666"><tspan style='font-family:"Liberation Sans", sans-serif;font-weight:normal;'>10</tspan><tspan style='font-family:"Liberation Sans", sans-serif;font-weight:normal;font-size:3px;' dy="-2">3</tspan></text>
<text x="125.2" y="307.6" font-size="4.2" text-anchor="middle" fill="#666"><tspan style='font-family:"Liberation Sans", sans-serif;font-weight:normal;'>10</tspan><tspan style='font-family:"Liberation Sans", sans-serif;font-weight:normal;font-size:3px;' dy="-2">4</tspan></text>
<line x1="163" y1="37.2" x2="163" y2="111.3" stroke="#444" stroke-width="1.0"/>
<line x1="163" y1="111.3" x2="238" y2="111.3" stroke="#444" stroke-width="1.0"/>
<line x1="161.2" y1="56" x2="163" y2="56" stroke="#555" stroke-width="0.8"/>
<line x1="161.2" y1="74.4" x2="163" y2="74.4" stroke="#555" stroke-width="0.8"/>
<line x1="161.2" y1="93" x2="163" y2="93" stroke="#555" stroke-width="0.8"/>
<line x1="161.2" y1="109" x2="163" y2="109" stroke="#555" stroke-width="0.8"/>
<rect x="154.1" y="55.3" width="5.3" height="1.4" fill="#888" stroke="none" stroke-width="0" opacity="0.8"/>
<rect x="155.8" y="73.7" width="3.6" height="1.4" fill="#888" stroke="none" stroke-width="0" opacity="0.8"/>
<rect x="157.4" y="92.3" width="2.0" height="1.4" fill="#888" stroke="none" stroke-width="0" opacity="0.8"/>
<rect x="158.4" y="108.2" width="1.0" height="1.4" fill="#888" stroke="none" stroke-width="0" opacity="0.8"/>
<rect x="162.5" y="115.5" width="1.0" height="1.4" fill="#888" stroke="none" stroke-width="0" opacity="0.8"/>
<rect x="181.25" y="115.5" width="2.5" height="1.4" fill="#888" stroke="none" stroke-width="0" opacity="0.8"/>
<rect x="198.75" y="115.5" width="4.5" height="1.4" fill="#888" stroke="none" stroke-width="0" opacity="0.8"/>
<rect x="216.6" y="115.5" width="6" height="1.4" fill="#888" stroke="none" stroke-width="0" opacity="0.8"/>
<text x="195.2" y="130.4" font-size="5.0" text-anchor="middle" fill="#333" textLength="27.3" lengthAdjust="spacingAndGlyphs"><tspan style='font-family:"Liberation Sans", sans-serif;font-weight:normal;'>09-03-09.004</tspan></text>
<line x1="162.8" y1="132.3" x2="162.8" y2="201" stroke="#222" stroke-width="1.3"/>
<line x1="162.8" y1="200.9" x2="238" y2="200.9" stroke="#222" stroke-width="1.2"/>
<line x1="161.4" y1="200.6" x2="163" y2="200.6" stroke="#333" stroke-width="0.5"/>
<line x1="163.0" y1="200.9" x2="163.0" y2="202.5" stroke="#333" stroke-width="0.5"/>
<line x1="162.1" y1="195.45991282403753" x2="163" y2="195.45991282403753" stroke="#333" stroke-width="0.5"/>
<line x1="168.64431241869966" y1="200.9" x2="168.64431241869966" y2="201.8" stroke="#333" stroke-width="0.5"/>
<line x1="162.1" y1="192.45315457566176" x2="163" y2="192.45315457566176" stroke="#333" stroke-width="0.5"/>
<line x1="171.94602352599367" y1="200.9" x2="171.94602352599367" y2="201.8" stroke="#333" stroke-width="0.5"/>
<line x1="162.1" y1="190.31982564807504" x2="163" y2="190.31982564807504" stroke="#333" stroke-width="0.5"/>
<line x1="174.28862483739928" y1="200.9" x2="174.28862483739928" y2="201.8" stroke="#333" stroke-width="0.5"/>
<line x1="162.1" y1="188.66508717596247" x2="163" y2="188.66508717596247" stroke="#333" stroke-width="0.5"/>
<line x1="176.10568758130034" y1="200.9" x2="176.10568758130034" y2="201.8" stroke="#333" stroke-width="0.5"/>
<line x1="162.1" y1="187.3130673996993" x2="163" y2="187.3130673996993" stroke="#333" stroke-width="0.5"/>
<line x1="177.59033594469332" y1="200.9" x2="177.59033594469332" y2="201.8" stroke="#333" stroke-width="0.5"/>
<line x1="162.1" y1="186.16995096675657" x2="163" y2="186.16995096675657" stroke="#333" stroke-width="0.5"/>
<line x1="178.84558825026733" y1="200.9" x2="178.84558825026733" y2="201.8" stroke="#333" stroke-width="0.5"/>
<line x1="162.1" y1="185.17973847211258" x2="163" y2="185.17973847211258" stroke="#333" stroke-width="0.5"/>
<line x1="179.93293725609894" y1="200.9" x2="179.93293725609894" y2="201.8" stroke="#333" stroke-width="0.5"/>
<line x1="162.1" y1="184.30630915132352" x2="163" y2="184.30630915132352" stroke="#333" stroke-width="0.5"/>
<line x1="180.89204705198733" y1="200.9" x2="180.89204705198733" y2="201.8" stroke="#333" stroke-width="0.5"/>
<line x1="161.4" y1="183.525" x2="163" y2="183.525" stroke="#333" stroke-width="0.5"/>
<line x1="181.75" y1="200.9" x2="181.75" y2="202.5" stroke="#333" stroke-width="0.5"/>
<line x1="162.1" y1="178.3849128240375" x2="163" y2="178.3849128240375" stroke="#333" stroke-width="0.5"/>
<line x1="187.39431241869966" y1="200.9" x2="187.39431241869966" y2="201.8" stroke="#333" stroke-width="0.5"/>
<line x1="162.1" y1="175.37815457566177" x2="163" y2="175.37815457566177" stroke="#333" stroke-width="0.5"/>
<line x1="190.69602352599367" y1="200.9" x2="190.69602352599367" y2="201.8" stroke="#333" stroke-width="0.5"/>
<line x1="162.1" y1="173.24482564807505" x2="163" y2="173.24482564807505" stroke="#333" stroke-width="0.5"/>
<line x1="193.0386248373993" y1="200.9" x2="193.0386248373993" y2="201.8" stroke="#333" stroke-width="0.5"/>
<line x1="162.1" y1="171.59008717596248" x2="163" y2="171.59008717596248" stroke="#333" stroke-width="0.5"/>
<line x1="194.85568758130034" y1="200.9" x2="194.85568758130034" y2="201.8" stroke="#333" stroke-width="0.5"/>
<line x1="162.1" y1="170.23806739969928" x2="163" y2="170.23806739969928" stroke="#333" stroke-width="0.5"/>
<line x1="196.34033594469332" y1="200.9" x2="196.34033594469332" y2="201.8" stroke="#333" stroke-width="0.5"/>
<line x1="162.1" y1="169.09495096675656" x2="163" y2="169.09495096675656" stroke="#333" stroke-width="0.5"/>
<line x1="197.59558825026733" y1="200.9" x2="197.59558825026733" y2="201.8" stroke="#333" stroke-width="0.5"/>
<line x1="162.1" y1="168.10473847211256" x2="163" y2="168.10473847211256" stroke="#333" stroke-width="0.5"/>
<line x1="198.68293725609894" y1="200.9" x2="198.68293725609894" y2="201.8" stroke="#333" stroke-width="0.5"/>
<line x1="162.1" y1="167.23130915132353" x2="163" y2="167.23130915132353" stroke="#333" stroke-width="0.5"/>
<line x1="199.64204705198733" y1="200.9" x2="199.64204705198733" y2="201.8" stroke="#333" stroke-width="0.5"/>
<line x1="161.4" y1="166.45" x2="163" y2="166.45" stroke="#333" stroke-width="0.5"/>
<line x1="200.5" y1="200.9" x2="200.5" y2="202.5" stroke="#333" stroke-width="0.5"/>
<line x1="162.1" y1="161.30991282403753" x2="163" y2="161.30991282403753" stroke="#333" stroke-width="0.5"/>
<line x1="206.14431241869966" y1="200.9" x2="206.14431241869966" y2="201.8" stroke="#333" stroke-width="0.5"/>
<line x1="162.1" y1="158.30315457566178" x2="163" y2="158.30315457566178" stroke="#333" stroke-width="0.5"/>
<line x1="209.44602352599367" y1="200.9" x2="209.44602352599367" y2="201.8" stroke="#333" stroke-width="0.5"/>
<line x1="162.1" y1="156.16982564807506" x2="163" y2="156.16982564807506" stroke="#333" stroke-width="0.5"/>
<line x1="211.7886248373993" y1="200.9" x2="211.7886248373993" y2="201.8" stroke="#333" stroke-width="0.5"/>
<line x1="162.1" y1="154.5150871759625" x2="163" y2="154.5150871759625" stroke="#333" stroke-width="0.5"/>
<line x1="213.60568758130034" y1="200.9" x2="213.60568758130034" y2="201.8" stroke="#333" stroke-width="0.5"/>
<line x1="162.1" y1="153.1630673996993" x2="163" y2="153.1630673996993" stroke="#333" stroke-width="0.5"/>
<line x1="215.09033594469332" y1="200.9" x2="215.09033594469332" y2="201.8" stroke="#333" stroke-width="0.5"/>
<line x1="162.1" y1="152.01995096675657" x2="163" y2="152.01995096675657" stroke="#333" stroke-width="0.5"/>
<line x1="216.34558825026733" y1="200.9" x2="216.34558825026733" y2="201.8" stroke="#333" stroke-width="0.5"/>
<line x1="162.1" y1="151.02973847211257" x2="163" y2="151.02973847211257" stroke="#333" stroke-width="0.5"/>
<line x1="217.43293725609894" y1="200.9" x2="217.43293725609894" y2="201.8" stroke="#333" stroke-width="0.5"/>
<line x1="162.1" y1="150.15630915132354" x2="163" y2="150.15630915132354" stroke="#333" stroke-width="0.5"/>
<line x1="218.39204705198733" y1="200.9" x2="218.39204705198733" y2="201.8" stroke="#333" stroke-width="0.5"/>
<line x1="161.4" y1="149.375" x2="163" y2="149.375" stroke="#333" stroke-width="0.5"/>
<line x1="219.25" y1="200.9" x2="219.25" y2="202.5" stroke="#333" stroke-width="0.5"/>
<line x1="162.1" y1="144.23491282403754" x2="163" y2="144.23491282403754" stroke="#333" stroke-width="0.5"/>
<line x1="224.89431241869966" y1="200.9" x2="224.89431241869966" y2="201.8" stroke="#333" stroke-width="0.5"/>
<line x1="162.1" y1="141.22815457566176" x2="163" y2="141.22815457566176" stroke="#333" stroke-width="0.5"/>
<line x1="228.19602352599367" y1="200.9" x2="228.19602352599367" y2="201.8" stroke="#333" stroke-width="0.5"/>
<line x1="162.1" y1="139.09482564807504" x2="163" y2="139.09482564807504" stroke="#333" stroke-width="0.5"/>
<line x1="230.5386248373993" y1="200.9" x2="230.5386248373993" y2="201.8" stroke="#333" stroke-width="0.5"/>
<line x1="162.1" y1="137.4400871759625" x2="163" y2="137.4400871759625" stroke="#333" stroke-width="0.5"/>
<line x1="232.35568758130034" y1="200.9" x2="232.35568758130034" y2="201.8" stroke="#333" stroke-width="0.5"/>
<line x1="162.1" y1="136.0880673996993" x2="163" y2="136.0880673996993" stroke="#333" stroke-width="0.5"/>
<line x1="233.84033594469332" y1="200.9" x2="233.84033594469332" y2="201.8" stroke="#333" stroke-width="0.5"/>
<line x1="162.1" y1="134.94495096675658" x2="163" y2="134.94495096675658" stroke="#333" stroke-width="0.5"/>
<line x1="235.09558825026733" y1="200.9" x2="235.09558825026733" y2="201.8" stroke="#333" stroke-width="0.5"/>
<line x1="162.1" y1="133.95473847211258" x2="163" y2="133.95473847211258" stroke="#333" stroke-width="0.5"/>
<line x1="236.18293725609894" y1="200.9" x2="236.18293725609894" y2="201.8" stroke="#333" stroke-width="0.5"/>
<line x1="162.1" y1="133.08130915132352" x2="163" y2="133.08130915132352" stroke="#333" stroke-width="0.5"/>
<line x1="237.14204705198733" y1="200.9" x2="237.14204705198733" y2="201.8" stroke="#333" stroke-width="0.5"/>
<text x="158.7" y="199.0" font-size="4.6" text-anchor="middle" fill="#111" transform="rotate(-90 158.7 199.0)"><tspan style='font-family:"Liberation Sans", sans-serif;font-weight:normal;'>10</tspan><tspan style='font-family:"Liberation Sans", sans-serif;font-weight:normal;font-size:3.2px;' dy="-2.3">0</tspan></text>
<text x="158.7" y="183.6" font-size="4.6" text-anchor="middle" fill="#111" transform="rotate(-90 158.7 183.6)"><tspan style='font-family:"Liberation Sans", sans-serif;font-weight:normal;'>10</tspan><tspan style='font-family:"Liberation Sans", sans-serif;font-weight:normal;font-size:3.2px;' dy="-2.3">1</tspan></text>
<text x="158.7" y="167.0" font-size="4.6" text-anchor="middle" fill="#111" transform="rotate(-90 158.7 167.0)"><tspan style='font-family:"Liberation Sans", sans-serif;font-weight:normal;'>10</tspan><tspan style='font-family:"Liberation Sans", sans-serif;font-weight:normal;font-size:3.2px;' dy="-2.3">2</tspan></text>
<text x="158.7" y="149.8" font-size="4.6" text-anchor="middle" fill="#111" transform="rotate(-90 158.7 149.8)"><tspan style='font-family:"Liberation Sans", sans-serif;font-weight:normal;'>10</tspan><tspan style='font-family:"Liberation Sans", sans-serif;font-weight:normal;font-size:3.2px;' dy="-2.3">3</tspan></text>
<text x="158.7" y="133.8" font-size="4.6" text-anchor="middle" fill="#111" transform="rotate(-90 158.7 133.8)"><tspan style='font-family:"Liberation Sans", sans-serif;font-weight:normal;'>10</tspan><tspan style='font-family:"Liberation Sans", sans-serif;font-weight:normal;font-size:3.2px;' dy="-2.3">4</tspan></text>
<text x="153.2" y="166.7" font-size="4.4" text-anchor="middle" fill="#111" textLength="21.3" lengthAdjust="spacingAndGlyphs" transform="rotate(-90 153.2 166.7)"><tspan style='font-family:"Liberation Sans", sans-serif;font-weight:normal;'>PE-gdTCR</tspan></text>
<text x="163.8" y="207.9" font-size="4.6" text-anchor="middle" fill="#333"><tspan style='font-family:"Liberation Sans", sans-serif;font-weight:normal;'>10</tspan><tspan style='font-family:"Liberation Sans", sans-serif;font-weight:normal;font-size:3.2px;' dy="-2.3">0</tspan></text>
<text x="181.39999999999998" y="207.9" font-size="4.6" text-anchor="middle" fill="#333"><tspan style='font-family:"Liberation Sans", sans-serif;font-weight:normal;'>10</tspan><tspan style='font-family:"Liberation Sans", sans-serif;font-weight:normal;font-size:3.2px;' dy="-2.3">1</tspan></text>
<text x="199.7" y="207.9" font-size="4.6" text-anchor="middle" fill="#333"><tspan style='font-family:"Liberation Sans", sans-serif;font-weight:normal;'>10</tspan><tspan style='font-family:"Liberation Sans", sans-serif;font-weight:normal;font-size:3.2px;' dy="-2.3">2</tspan></text>
<text x="218.3" y="207.9" font-size="4.6" text-anchor="middle" fill="#333"><tspan style='font-family:"Liberation Sans", sans-serif;font-weight:normal;'>10</tspan><tspan style='font-family:"Liberation Sans", sans-serif;font-weight:normal;font-size:3.2px;' dy="-2.3">3</tspan></text>
<text x="236.3" y="207.9" font-size="4.6" text-anchor="middle" fill="#333"><tspan style='font-family:"Liberation Sans", sans-serif;font-weight:normal;'>10</tspan><tspan style='font-family:"Liberation Sans", sans-serif;font-weight:normal;font-size:3.2px;' dy="-2.3">4</tspan></text>
<text x="200.5" y="213.6" font-size="4.4" text-anchor="middle" fill="#333" textLength="22.5" lengthAdjust="spacingAndGlyphs"><tspan style='font-family:"Liberation Sans", sans-serif;font-weight:normal;'>FITC-delta2</tspan></text>
<text x="157.8" y="300.2" font-size="4.2" text-anchor="middle" fill="#666"><tspan style='font-family:"Liberation Sans", sans-serif;font-weight:normal;'>10</tspan><tspan style='font-family:"Liberation Sans", sans-serif;font-weight:normal;font-size:3px;' dy="-2">0</tspan></text>
<text x="157.8" y="282.9" font-size="4.2" text-anchor="middle" fill="#666"><tspan style='font-family:"Liberation Sans", sans-serif;font-weight:normal;'>10</tspan><tspan style='font-family:"Liberation Sans", sans-serif;font-weight:normal;font-size:3px;' dy="-2">1</tspan></text>
<text x="157.8" y="265.0" font-size="4.2" text-anchor="middle" fill="#666"><tspan style='font-family:"Liberation Sans", sans-serif;font-weight:normal;'>10</tspan><tspan style='font-family:"Liberation Sans", sans-serif;font-weight:normal;font-size:3px;' dy="-2">2</tspan></text>
<text x="157.8" y="247.0" font-size="4.2" text-anchor="middle" fill="#666"><tspan style='font-family:"Liberation Sans", sans-serif;font-weight:normal;'>10</tspan><tspan style='font-family:"Liberation Sans", sans-serif;font-weight:normal;font-size:3px;' dy="-2">3</tspan></text>
<text x="157.8" y="232.8" font-size="4.2" text-anchor="middle" fill="#666"><tspan style='font-family:"Liberation Sans", sans-serif;font-weight:normal;'>10</tspan><tspan style='font-family:"Liberation Sans", sans-serif;font-weight:normal;font-size:3px;' dy="-2">4</tspan></text>
<text x="166.2" y="307.6" font-size="4.2" text-anchor="middle" fill="#666"><tspan style='font-family:"Liberation Sans", sans-serif;font-weight:normal;'>10</tspan><tspan style='font-family:"Liberation Sans", sans-serif;font-weight:normal;font-size:3px;' dy="-2">0</tspan></text>
<text x="182.5" y="307.6" font-size="4.2" text-anchor="middle" fill="#666"><tspan style='font-family:"Liberation Sans", sans-serif;font-weight:normal;'>10</tspan><tspan style='font-family:"Liberation Sans", sans-serif;font-weight:normal;font-size:3px;' dy="-2">1</tspan></text>
<text x="200.5" y="307.6" font-size="4.2" text-anchor="middle" fill="#666"><tspan style='font-family:"Liberation Sans", sans-serif;font-weight:normal;'>10</tspan><tspan style='font-family:"Liberation Sans", sans-serif;font-weight:normal;font-size:3px;' dy="-2">2</tspan></text>
<text x="216.8" y="307.6" font-size="4.2" text-anchor="middle" fill="#666"><tspan style='font-family:"Liberation Sans", sans-serif;font-weight:normal;'>10</tspan><tspan style='font-family:"Liberation Sans", sans-serif;font-weight:normal;font-size:3px;' dy="-2">3</tspan></text>
<text x="234.0" y="307.6" font-size="4.2" text-anchor="middle" fill="#666"><tspan style='font-family:"Liberation Sans", sans-serif;font-weight:normal;'>10</tspan><tspan style='font-family:"Liberation Sans", sans-serif;font-weight:normal;font-size:3px;' dy="-2">4</tspan></text>
<line x1="273" y1="37.2" x2="273" y2="111.3" stroke="#444" stroke-width="1.0"/>
<line x1="273" y1="111.3" x2="347.5" y2="111.3" stroke="#444" stroke-width="1.0"/>
<line x1="271.2" y1="56" x2="273" y2="56" stroke="#555" stroke-width="0.8"/>
<line x1="271.2" y1="74.4" x2="273" y2="74.4" stroke="#555" stroke-width="0.8"/>
<line x1="271.2" y1="93" x2="273" y2="93" stroke="#555" stroke-width="0.8"/>
<line x1="271.2" y1="109" x2="273" y2="109" stroke="#555" stroke-width="0.8"/>
<rect x="264.09999999999997" y="55.3" width="5.3" height="1.4" fill="#888" stroke="none" stroke-width="0" opacity="0.8"/>
<rect x="265.79999999999995" y="73.7" width="3.6" height="1.4" fill="#888" stroke="none" stroke-width="0" opacity="0.8"/>
<rect x="267.4" y="92.3" width="2.0" height="1.4" fill="#888" stroke="none" stroke-width="0" opacity="0.8"/>
<rect x="268.4" y="108.2" width="1.0" height="1.4" fill="#888" stroke="none" stroke-width="0" opacity="0.8"/>
<rect x="272.5" y="115.5" width="1.0" height="1.4" fill="#888" stroke="none" stroke-width="0" opacity="0.8"/>
<rect x="291.25" y="115.5" width="2.5" height="1.4" fill="#888" stroke="none" stroke-width="0" opacity="0.8"/>
<rect x="308.75" y="115.5" width="4.5" height="1.4" fill="#888" stroke="none" stroke-width="0" opacity="0.8"/>
<rect x="326.6" y="115.5" width="6" height="1.4" fill="#888" stroke="none" stroke-width="0" opacity="0.8"/>
<text x="305.2" y="130.4" font-size="5.0" text-anchor="middle" fill="#333" textLength="27.3" lengthAdjust="spacingAndGlyphs"><tspan style='font-family:"Liberation Sans", sans-serif;font-weight:normal;'>09-03-09.005</tspan></text>
<line x1="272.8" y1="132.3" x2="272.8" y2="201" stroke="#222" stroke-width="1.3"/>
<line x1="272.8" y1="200.9" x2="347.5" y2="200.9" stroke="#222" stroke-width="1.2"/>
<line x1="271.4" y1="200.6" x2="273" y2="200.6" stroke="#333" stroke-width="0.5"/>
<line x1="273.0" y1="200.9" x2="273.0" y2="202.5" stroke="#333" stroke-width="0.5"/>
<line x1="272.1" y1="195.45991282403753" x2="273" y2="195.45991282403753" stroke="#333" stroke-width="0.5"/>
<line x1="278.60668366924165" y1="200.9" x2="278.60668366924165" y2="201.8" stroke="#333" stroke-width="0.5"/>
<line x1="272.1" y1="192.45315457566176" x2="273" y2="192.45315457566176" stroke="#333" stroke-width="0.5"/>
<line x1="281.8863833691537" y1="200.9" x2="281.8863833691537" y2="201.8" stroke="#333" stroke-width="0.5"/>
<line x1="272.1" y1="190.31982564807504" x2="273" y2="190.31982564807504" stroke="#333" stroke-width="0.5"/>
<line x1="284.2133673384833" y1="200.9" x2="284.2133673384833" y2="201.8" stroke="#333" stroke-width="0.5"/>
<line x1="272.1" y1="188.66508717596247" x2="273" y2="188.66508717596247" stroke="#333" stroke-width="0.5"/>
<line x1="286.01831633075835" y1="200.9" x2="286.01831633075835" y2="201.8" stroke="#333" stroke-width="0.5"/>
<line x1="272.1" y1="187.3130673996993" x2="273" y2="187.3130673996993" stroke="#333" stroke-width="0.5"/>
<line x1="287.49306703839534" y1="200.9" x2="287.49306703839534" y2="201.8" stroke="#333" stroke-width="0.5"/>
<line x1="272.1" y1="186.16995096675657" x2="273" y2="186.16995096675657" stroke="#333" stroke-width="0.5"/>
<line x1="288.73995099526553" y1="200.9" x2="288.73995099526553" y2="201.8" stroke="#333" stroke-width="0.5"/>
<line x1="272.1" y1="185.17973847211258" x2="273" y2="185.17973847211258" stroke="#333" stroke-width="0.5"/>
<line x1="289.82005100772494" y1="200.9" x2="289.82005100772494" y2="201.8" stroke="#333" stroke-width="0.5"/>
<line x1="272.1" y1="184.30630915132352" x2="273" y2="184.30630915132352" stroke="#333" stroke-width="0.5"/>
<line x1="290.77276673830744" y1="200.9" x2="290.77276673830744" y2="201.8" stroke="#333" stroke-width="0.5"/>
<line x1="271.4" y1="183.525" x2="273" y2="183.525" stroke="#333" stroke-width="0.5"/>
<line x1="291.625" y1="200.9" x2="291.625" y2="202.5" stroke="#333" stroke-width="0.5"/>
<line x1="272.1" y1="178.3849128240375" x2="273" y2="178.3849128240375" stroke="#333" stroke-width="0.5"/>
<line x1="297.23168366924165" y1="200.9" x2="297.23168366924165" y2="201.8" stroke="#333" stroke-width="0.5"/>
<line x1="272.1" y1="175.37815457566177" x2="273" y2="175.37815457566177" stroke="#333" stroke-width="0.5"/>
<line x1="300.5113833691537" y1="200.9" x2="300.5113833691537" y2="201.8" stroke="#333" stroke-width="0.5"/>
<line x1="272.1" y1="173.24482564807505" x2="273" y2="173.24482564807505" stroke="#333" stroke-width="0.5"/>
<line x1="302.8383673384833" y1="200.9" x2="302.8383673384833" y2="201.8" stroke="#333" stroke-width="0.5"/>
<line x1="272.1" y1="171.59008717596248" x2="273" y2="171.59008717596248" stroke="#333" stroke-width="0.5"/>
<line x1="304.64331633075835" y1="200.9" x2="304.64331633075835" y2="201.8" stroke="#333" stroke-width="0.5"/>
<line x1="272.1" y1="170.23806739969928" x2="273" y2="170.23806739969928" stroke="#333" stroke-width="0.5"/>
<line x1="306.11806703839534" y1="200.9" x2="306.11806703839534" y2="201.8" stroke="#333" stroke-width="0.5"/>
<line x1="272.1" y1="169.09495096675656" x2="273" y2="169.09495096675656" stroke="#333" stroke-width="0.5"/>
<line x1="307.36495099526553" y1="200.9" x2="307.36495099526553" y2="201.8" stroke="#333" stroke-width="0.5"/>
<line x1="272.1" y1="168.10473847211256" x2="273" y2="168.10473847211256" stroke="#333" stroke-width="0.5"/>
<line x1="308.44505100772494" y1="200.9" x2="308.44505100772494" y2="201.8" stroke="#333" stroke-width="0.5"/>
<line x1="272.1" y1="167.23130915132353" x2="273" y2="167.23130915132353" stroke="#333" stroke-width="0.5"/>
<line x1="309.39776673830744" y1="200.9" x2="309.39776673830744" y2="201.8" stroke="#333" stroke-width="0.5"/>
<line x1="271.4" y1="166.45" x2="273" y2="166.45" stroke="#333" stroke-width="0.5"/>
<line x1="310.25" y1="200.9" x2="310.25" y2="202.5" stroke="#333" stroke-width="0.5"/>
<line x1="272.1" y1="161.30991282403753" x2="273" y2="161.30991282403753" stroke="#333" stroke-width="0.5"/>
<line x1="315.85668366924165" y1="200.9" x2="315.85668366924165" y2="201.8" stroke="#333" stroke-width="0.5"/>
<line x1="272.1" y1="158.30315457566178" x2="273" y2="158.30315457566178" stroke="#333" stroke-width="0.5"/>
<line x1="319.1363833691537" y1="200.9" x2="319.1363833691537" y2="201.8" stroke="#333" stroke-width="0.5"/>
<line x1="272.1" y1="156.16982564807506" x2="273" y2="156.16982564807506" stroke="#333" stroke-width="0.5"/>
<line x1="321.4633673384833" y1="200.9" x2="321.4633673384833" y2="201.8" stroke="#333" stroke-width="0.5"/>
<line x1="272.1" y1="154.5150871759625" x2="273" y2="154.5150871759625" stroke="#333" stroke-width="0.5"/>
<line x1="323.26831633075835" y1="200.9" x2="323.26831633075835" y2="201.8" stroke="#333" stroke-width="0.5"/>
<line x1="272.1" y1="153.1630673996993" x2="273" y2="153.1630673996993" stroke="#333" stroke-width="0.5"/>
<line x1="324.74306703839534" y1="200.9" x2="324.74306703839534" y2="201.8" stroke="#333" stroke-width="0.5"/>
<line x1="272.1" y1="152.01995096675657" x2="273" y2="152.01995096675657" stroke="#333" stroke-width="0.5"/>
<line x1="325.98995099526553" y1="200.9" x2="325.98995099526553" y2="201.8" stroke="#333" stroke-width="0.5"/>
<line x1="272.1" y1="151.02973847211257" x2="273" y2="151.02973847211257" stroke="#333" stroke-width="0.5"/>
<line x1="327.07005100772494" y1="200.9" x2="327.07005100772494" y2="201.8" stroke="#333" stroke-width="0.5"/>
<line x1="272.1" y1="150.15630915132354" x2="273" y2="150.15630915132354" stroke="#333" stroke-width="0.5"/>
<line x1="328.02276673830744" y1="200.9" x2="328.02276673830744" y2="201.8" stroke="#333" stroke-width="0.5"/>
<line x1="271.4" y1="149.375" x2="273" y2="149.375" stroke="#333" stroke-width="0.5"/>
<line x1="328.875" y1="200.9" x2="328.875" y2="202.5" stroke="#333" stroke-width="0.5"/>
<line x1="272.1" y1="144.23491282403754" x2="273" y2="144.23491282403754" stroke="#333" stroke-width="0.5"/>
<line x1="334.48168366924165" y1="200.9" x2="334.48168366924165" y2="201.8" stroke="#333" stroke-width="0.5"/>
<line x1="272.1" y1="141.22815457566176" x2="273" y2="141.22815457566176" stroke="#333" stroke-width="0.5"/>
<line x1="337.7613833691537" y1="200.9" x2="337.7613833691537" y2="201.8" stroke="#333" stroke-width="0.5"/>
<line x1="272.1" y1="139.09482564807504" x2="273" y2="139.09482564807504" stroke="#333" stroke-width="0.5"/>
<line x1="340.0883673384833" y1="200.9" x2="340.0883673384833" y2="201.8" stroke="#333" stroke-width="0.5"/>
<line x1="272.1" y1="137.4400871759625" x2="273" y2="137.4400871759625" stroke="#333" stroke-width="0.5"/>
<line x1="341.89331633075835" y1="200.9" x2="341.89331633075835" y2="201.8" stroke="#333" stroke-width="0.5"/>
<line x1="272.1" y1="136.0880673996993" x2="273" y2="136.0880673996993" stroke="#333" stroke-width="0.5"/>
<line x1="343.36806703839534" y1="200.9" x2="343.36806703839534" y2="201.8" stroke="#333" stroke-width="0.5"/>
<line x1="272.1" y1="134.94495096675658" x2="273" y2="134.94495096675658" stroke="#333" stroke-width="0.5"/>
<line x1="344.61495099526553" y1="200.9" x2="344.61495099526553" y2="201.8" stroke="#333" stroke-width="0.5"/>
<line x1="272.1" y1="133.95473847211258" x2="273" y2="133.95473847211258" stroke="#333" stroke-width="0.5"/>
<line x1="345.69505100772494" y1="200.9" x2="345.69505100772494" y2="201.8" stroke="#333" stroke-width="0.5"/>
<line x1="272.1" y1="133.08130915132352" x2="273" y2="133.08130915132352" stroke="#333" stroke-width="0.5"/>
<line x1="346.64776673830744" y1="200.9" x2="346.64776673830744" y2="201.8" stroke="#333" stroke-width="0.5"/>
<text x="268.7" y="199.0" font-size="4.6" text-anchor="middle" fill="#111" transform="rotate(-90 268.7 199.0)"><tspan style='font-family:"Liberation Sans", sans-serif;font-weight:normal;'>10</tspan><tspan style='font-family:"Liberation Sans", sans-serif;font-weight:normal;font-size:3.2px;' dy="-2.3">0</tspan></text>
<text x="268.7" y="183.6" font-size="4.6" text-anchor="middle" fill="#111" transform="rotate(-90 268.7 183.6)"><tspan style='font-family:"Liberation Sans", sans-serif;font-weight:normal;'>10</tspan><tspan style='font-family:"Liberation Sans", sans-serif;font-weight:normal;font-size:3.2px;' dy="-2.3">1</tspan></text>
<text x="268.7" y="167.0" font-size="4.6" text-anchor="middle" fill="#111" transform="rotate(-90 268.7 167.0)"><tspan style='font-family:"Liberation Sans", sans-serif;font-weight:normal;'>10</tspan><tspan style='font-family:"Liberation Sans", sans-serif;font-weight:normal;font-size:3.2px;' dy="-2.3">2</tspan></text>
<text x="268.7" y="149.8" font-size="4.6" text-anchor="middle" fill="#111" transform="rotate(-90 268.7 149.8)"><tspan style='font-family:"Liberation Sans", sans-serif;font-weight:normal;'>10</tspan><tspan style='font-family:"Liberation Sans", sans-serif;font-weight:normal;font-size:3.2px;' dy="-2.3">3</tspan></text>
<text x="268.7" y="133.8" font-size="4.6" text-anchor="middle" fill="#111" transform="rotate(-90 268.7 133.8)"><tspan style='font-family:"Liberation Sans", sans-serif;font-weight:normal;'>10</tspan><tspan style='font-family:"Liberation Sans", sans-serif;font-weight:normal;font-size:3.2px;' dy="-2.3">4</tspan></text>
<text x="263.2" y="166.7" font-size="4.4" text-anchor="middle" fill="#111" textLength="21.3" lengthAdjust="spacingAndGlyphs" transform="rotate(-90 263.2 166.7)"><tspan style='font-family:"Liberation Sans", sans-serif;font-weight:normal;'>PE-gdTCR</tspan></text>
<text x="273.8" y="207.9" font-size="4.6" text-anchor="middle" fill="#333"><tspan style='font-family:"Liberation Sans", sans-serif;font-weight:normal;'>10</tspan><tspan style='font-family:"Liberation Sans", sans-serif;font-weight:normal;font-size:3.2px;' dy="-2.3">0</tspan></text>
<text x="291.4" y="207.9" font-size="4.6" text-anchor="middle" fill="#333"><tspan style='font-family:"Liberation Sans", sans-serif;font-weight:normal;'>10</tspan><tspan style='font-family:"Liberation Sans", sans-serif;font-weight:normal;font-size:3.2px;' dy="-2.3">1</tspan></text>
<text x="309.7" y="207.9" font-size="4.6" text-anchor="middle" fill="#333"><tspan style='font-family:"Liberation Sans", sans-serif;font-weight:normal;'>10</tspan><tspan style='font-family:"Liberation Sans", sans-serif;font-weight:normal;font-size:3.2px;' dy="-2.3">2</tspan></text>
<text x="328.3" y="207.9" font-size="4.6" text-anchor="middle" fill="#333"><tspan style='font-family:"Liberation Sans", sans-serif;font-weight:normal;'>10</tspan><tspan style='font-family:"Liberation Sans", sans-serif;font-weight:normal;font-size:3.2px;' dy="-2.3">3</tspan></text>
<text x="346.3" y="207.9" font-size="4.6" text-anchor="middle" fill="#333"><tspan style='font-family:"Liberation Sans", sans-serif;font-weight:normal;'>10</tspan><tspan style='font-family:"Liberation Sans", sans-serif;font-weight:normal;font-size:3.2px;' dy="-2.3">4</tspan></text>
<text x="310.25" y="213.6" font-size="4.4" text-anchor="middle" fill="#333" textLength="22.5" lengthAdjust="spacingAndGlyphs"><tspan style='font-family:"Liberation Sans", sans-serif;font-weight:normal;'>FITC-delta2</tspan></text>
<text x="267.8" y="300.2" font-size="4.2" text-anchor="middle" fill="#666"><tspan style='font-family:"Liberation Sans", sans-serif;font-weight:normal;'>10</tspan><tspan style='font-family:"Liberation Sans", sans-serif;font-weight:normal;font-size:3px;' dy="-2">0</tspan></text>
<text x="267.8" y="282.9" font-size="4.2" text-anchor="middle" fill="#666"><tspan style='font-family:"Liberation Sans", sans-serif;font-weight:normal;'>10</tspan><tspan style='font-family:"Liberation Sans", sans-serif;font-weight:normal;font-size:3px;' dy="-2">1</tspan></text>
<text x="267.8" y="265.0" font-size="4.2" text-anchor="middle" fill="#666"><tspan style='font-family:"Liberation Sans", sans-serif;font-weight:normal;'>10</tspan><tspan style='font-family:"Liberation Sans", sans-serif;font-weight:normal;font-size:3px;' dy="-2">2</tspan></text>
<text x="267.8" y="247.0" font-size="4.2" text-anchor="middle" fill="#666"><tspan style='font-family:"Liberation Sans", sans-serif;font-weight:normal;'>10</tspan><tspan style='font-family:"Liberation Sans", sans-serif;font-weight:normal;font-size:3px;' dy="-2">3</tspan></text>
<text x="267.8" y="232.8" font-size="4.2" text-anchor="middle" fill="#666"><tspan style='font-family:"Liberation Sans", sans-serif;font-weight:normal;'>10</tspan><tspan style='font-family:"Liberation Sans", sans-serif;font-weight:normal;font-size:3px;' dy="-2">4</tspan></text>
<text x="276.2" y="307.6" font-size="4.2" text-anchor="middle" fill="#666"><tspan style='font-family:"Liberation Sans", sans-serif;font-weight:normal;'>10</tspan><tspan style='font-family:"Liberation Sans", sans-serif;font-weight:normal;font-size:3px;' dy="-2">0</tspan></text>
<text x="292.5" y="307.6" font-size="4.2" text-anchor="middle" fill="#666"><tspan style='font-family:"Liberation Sans", sans-serif;font-weight:normal;'>10</tspan><tspan style='font-family:"Liberation Sans", sans-serif;font-weight:normal;font-size:3px;' dy="-2">1</tspan></text>
<text x="310.5" y="307.6" font-size="4.2" text-anchor="middle" fill="#666"><tspan style='font-family:"Liberation Sans", sans-serif;font-weight:normal;'>10</tspan><tspan style='font-family:"Liberation Sans", sans-serif;font-weight:normal;font-size:3px;' dy="-2">2</tspan></text>
<text x="326.8" y="307.6" font-size="4.2" text-anchor="middle" fill="#666"><tspan style='font-family:"Liberation Sans", sans-serif;font-weight:normal;'>10</tspan><tspan style='font-family:"Liberation Sans", sans-serif;font-weight:normal;font-size:3px;' dy="-2">3</tspan></text>
<text x="344.0" y="307.6" font-size="4.2" text-anchor="middle" fill="#666"><tspan style='font-family:"Liberation Sans", sans-serif;font-weight:normal;'>10</tspan><tspan style='font-family:"Liberation Sans", sans-serif;font-weight:normal;font-size:3px;' dy="-2">4</tspan></text>
<line x1="382.6" y1="37.2" x2="382.6" y2="111.3" stroke="#444" stroke-width="1.0"/>
<line x1="382.6" y1="111.3" x2="457.3" y2="111.3" stroke="#444" stroke-width="1.0"/>
<line x1="380.8" y1="56" x2="382.6" y2="56" stroke="#555" stroke-width="0.8"/>
<line x1="380.8" y1="74.4" x2="382.6" y2="74.4" stroke="#555" stroke-width="0.8"/>
<line x1="380.8" y1="93" x2="382.6" y2="93" stroke="#555" stroke-width="0.8"/>
<line x1="380.8" y1="109" x2="382.6" y2="109" stroke="#555" stroke-width="0.8"/>
<rect x="373.7" y="55.3" width="5.3" height="1.4" fill="#888" stroke="none" stroke-width="0" opacity="0.8"/>
<rect x="375.4" y="73.7" width="3.6" height="1.4" fill="#888" stroke="none" stroke-width="0" opacity="0.8"/>
<rect x="377.0" y="92.3" width="2.0" height="1.4" fill="#888" stroke="none" stroke-width="0" opacity="0.8"/>
<rect x="378.0" y="108.2" width="1.0" height="1.4" fill="#888" stroke="none" stroke-width="0" opacity="0.8"/>
<rect x="382.1" y="115.5" width="1.0" height="1.4" fill="#888" stroke="none" stroke-width="0" opacity="0.8"/>
<rect x="400.85" y="115.5" width="2.5" height="1.4" fill="#888" stroke="none" stroke-width="0" opacity="0.8"/>
<rect x="418.35" y="115.5" width="4.5" height="1.4" fill="#888" stroke="none" stroke-width="0" opacity="0.8"/>
<rect x="436.20000000000005" y="115.5" width="6" height="1.4" fill="#888" stroke="none" stroke-width="0" opacity="0.8"/>
<text x="414.8" y="130.4" font-size="5.0" text-anchor="middle" fill="#333" textLength="27.3" lengthAdjust="spacingAndGlyphs"><tspan style='font-family:"Liberation Sans", sans-serif;font-weight:normal;'>09-03-09.003</tspan></text>
<line x1="382.40000000000003" y1="132.3" x2="382.40000000000003" y2="201" stroke="#222" stroke-width="1.3"/>
<line x1="382.40000000000003" y1="200.9" x2="457.3" y2="200.9" stroke="#222" stroke-width="1.2"/>
<line x1="381.0" y1="200.6" x2="382.6" y2="200.6" stroke="#333" stroke-width="0.5"/>
<line x1="382.6" y1="200.9" x2="382.6" y2="202.5" stroke="#333" stroke-width="0.5"/>
<line x1="381.70000000000005" y1="195.45991282403753" x2="382.6" y2="195.45991282403753" stroke="#333" stroke-width="0.5"/>
<line x1="388.2217351690249" y1="200.9" x2="388.2217351690249" y2="201.8" stroke="#333" stroke-width="0.5"/>
<line x1="381.70000000000005" y1="192.45315457566176" x2="382.6" y2="192.45315457566176" stroke="#333" stroke-width="0.5"/>
<line x1="391.5102394318897" y1="200.9" x2="391.5102394318897" y2="201.8" stroke="#333" stroke-width="0.5"/>
<line x1="381.70000000000005" y1="190.31982564807504" x2="382.6" y2="190.31982564807504" stroke="#333" stroke-width="0.5"/>
<line x1="393.8434703380497" y1="200.9" x2="393.8434703380497" y2="201.8" stroke="#333" stroke-width="0.5"/>
<line x1="381.70000000000005" y1="188.66508717596247" x2="382.6" y2="188.66508717596247" stroke="#333" stroke-width="0.5"/>
<line x1="395.65326483097516" y1="200.9" x2="395.65326483097516" y2="201.8" stroke="#333" stroke-width="0.5"/>
<line x1="381.70000000000005" y1="187.3130673996993" x2="382.6" y2="187.3130673996993" stroke="#333" stroke-width="0.5"/>
<line x1="397.1319746009146" y1="200.9" x2="397.1319746009146" y2="201.8" stroke="#333" stroke-width="0.5"/>
<line x1="381.70000000000005" y1="186.16995096675657" x2="382.6" y2="186.16995096675657" stroke="#333" stroke-width="0.5"/>
<line x1="398.38220589726626" y1="200.9" x2="398.38220589726626" y2="201.8" stroke="#333" stroke-width="0.5"/>
<line x1="381.70000000000005" y1="185.17973847211258" x2="382.6" y2="185.17973847211258" stroke="#333" stroke-width="0.5"/>
<line x1="399.4652055070746" y1="200.9" x2="399.4652055070746" y2="201.8" stroke="#333" stroke-width="0.5"/>
<line x1="381.70000000000005" y1="184.30630915132352" x2="382.6" y2="184.30630915132352" stroke="#333" stroke-width="0.5"/>
<line x1="400.4204788637794" y1="200.9" x2="400.4204788637794" y2="201.8" stroke="#333" stroke-width="0.5"/>
<line x1="381.0" y1="183.525" x2="382.6" y2="183.525" stroke="#333" stroke-width="0.5"/>
<line x1="401.27500000000003" y1="200.9" x2="401.27500000000003" y2="202.5" stroke="#333" stroke-width="0.5"/>
<line x1="381.70000000000005" y1="178.3849128240375" x2="382.6" y2="178.3849128240375" stroke="#333" stroke-width="0.5"/>
<line x1="406.89673516902485" y1="200.9" x2="406.89673516902485" y2="201.8" stroke="#333" stroke-width="0.5"/>
<line x1="381.70000000000005" y1="175.37815457566177" x2="382.6" y2="175.37815457566177" stroke="#333" stroke-width="0.5"/>
<line x1="410.1852394318897" y1="200.9" x2="410.1852394318897" y2="201.8" stroke="#333" stroke-width="0.5"/>
<line x1="381.70000000000005" y1="173.24482564807505" x2="382.6" y2="173.24482564807505" stroke="#333" stroke-width="0.5"/>
<line x1="412.5184703380497" y1="200.9" x2="412.5184703380497" y2="201.8" stroke="#333" stroke-width="0.5"/>
<line x1="381.70000000000005" y1="171.59008717596248" x2="382.6" y2="171.59008717596248" stroke="#333" stroke-width="0.5"/>
<line x1="414.3282648309752" y1="200.9" x2="414.3282648309752" y2="201.8" stroke="#333" stroke-width="0.5"/>
<line x1="381.70000000000005" y1="170.23806739969928" x2="382.6" y2="170.23806739969928" stroke="#333" stroke-width="0.5"/>
<line x1="415.80697460091454" y1="200.9" x2="415.80697460091454" y2="201.8" stroke="#333" stroke-width="0.5"/>
<line x1="381.70000000000005" y1="169.09495096675656" x2="382.6" y2="169.09495096675656" stroke="#333" stroke-width="0.5"/>
<line x1="417.0572058972663" y1="200.9" x2="417.0572058972663" y2="201.8" stroke="#333" stroke-width="0.5"/>
<line x1="381.70000000000005" y1="168.10473847211256" x2="382.6" y2="168.10473847211256" stroke="#333" stroke-width="0.5"/>
<line x1="418.14020550707454" y1="200.9" x2="418.14020550707454" y2="201.8" stroke="#333" stroke-width="0.5"/>
<line x1="381.70000000000005" y1="167.23130915132353" x2="382.6" y2="167.23130915132353" stroke="#333" stroke-width="0.5"/>
<line x1="419.0954788637794" y1="200.9" x2="419.0954788637794" y2="201.8" stroke="#333" stroke-width="0.5"/>
<line x1="381.0" y1="166.45" x2="382.6" y2="166.45" stroke="#333" stroke-width="0.5"/>
<line x1="419.95000000000005" y1="200.9" x2="419.95000000000005" y2="202.5" stroke="#333" stroke-width="0.5"/>
<line x1="381.70000000000005" y1="161.30991282403753" x2="382.6" y2="161.30991282403753" stroke="#333" stroke-width="0.5"/>
<line x1="425.57173516902486" y1="200.9" x2="425.57173516902486" y2="201.8" stroke="#333" stroke-width="0.5"/>
<line x1="381.70000000000005" y1="158.30315457566178" x2="382.6" y2="158.30315457566178" stroke="#333" stroke-width="0.5"/>
<line x1="428.86023943188974" y1="200.9" x2="428.86023943188974" y2="201.8" stroke="#333" stroke-width="0.5"/>
<line x1="381.70000000000005" y1="156.16982564807506" x2="382.6" y2="156.16982564807506" stroke="#333" stroke-width="0.5"/>
<line x1="431.19347033804974" y1="200.9" x2="431.19347033804974" y2="201.8" stroke="#333" stroke-width="0.5"/>
<line x1="381.70000000000005" y1="154.5150871759625" x2="382.6" y2="154.5150871759625" stroke="#333" stroke-width="0.5"/>
<line x1="433.0032648309752" y1="200.9" x2="433.0032648309752" y2="201.8" stroke="#333" stroke-width="0.5"/>
<line x1="381.70000000000005" y1="153.1630673996993" x2="382.6" y2="153.1630673996993" stroke="#333" stroke-width="0.5"/>
<line x1="434.48197460091455" y1="200.9" x2="434.48197460091455" y2="201.8" stroke="#333" stroke-width="0.5"/>
<line x1="381.70000000000005" y1="152.01995096675657" x2="382.6" y2="152.01995096675657" stroke="#333" stroke-width="0.5"/>
<line x1="435.7322058972663" y1="200.9" x2="435.7322058972663" y2="201.8" stroke="#333" stroke-width="0.5"/>
<line x1="381.70000000000005" y1="151.02973847211257" x2="382.6" y2="151.02973847211257" stroke="#333" stroke-width="0.5"/>
<line x1="436.81520550707455" y1="200.9" x2="436.81520550707455" y2="201.8" stroke="#333" stroke-width="0.5"/>
<line x1="381.70000000000005" y1="150.15630915132354" x2="382.6" y2="150.15630915132354" stroke="#333" stroke-width="0.5"/>
<line x1="437.77047886377943" y1="200.9" x2="437.77047886377943" y2="201.8" stroke="#333" stroke-width="0.5"/>
<line x1="381.0" y1="149.375" x2="382.6" y2="149.375" stroke="#333" stroke-width="0.5"/>
<line x1="438.625" y1="200.9" x2="438.625" y2="202.5" stroke="#333" stroke-width="0.5"/>
<line x1="381.70000000000005" y1="144.23491282403754" x2="382.6" y2="144.23491282403754" stroke="#333" stroke-width="0.5"/>
<line x1="444.2467351690249" y1="200.9" x2="444.2467351690249" y2="201.8" stroke="#333" stroke-width="0.5"/>
<line x1="381.70000000000005" y1="141.22815457566176" x2="382.6" y2="141.22815457566176" stroke="#333" stroke-width="0.5"/>
<line x1="447.5352394318897" y1="200.9" x2="447.5352394318897" y2="201.8" stroke="#333" stroke-width="0.5"/>
<line x1="381.70000000000005" y1="139.09482564807504" x2="382.6" y2="139.09482564807504" stroke="#333" stroke-width="0.5"/>
<line x1="449.86847033804975" y1="200.9" x2="449.86847033804975" y2="201.8" stroke="#333" stroke-width="0.5"/>
<line x1="381.70000000000005" y1="137.4400871759625" x2="382.6" y2="137.4400871759625" stroke="#333" stroke-width="0.5"/>
<line x1="451.6782648309752" y1="200.9" x2="451.6782648309752" y2="201.8" stroke="#333" stroke-width="0.5"/>
<line x1="381.70000000000005" y1="136.0880673996993" x2="382.6" y2="136.0880673996993" stroke="#333" stroke-width="0.5"/>
<line x1="453.15697460091457" y1="200.9" x2="453.15697460091457" y2="201.8" stroke="#333" stroke-width="0.5"/>
<line x1="381.70000000000005" y1="134.94495096675658" x2="382.6" y2="134.94495096675658" stroke="#333" stroke-width="0.5"/>
<line x1="454.4072058972663" y1="200.9" x2="454.4072058972663" y2="201.8" stroke="#333" stroke-width="0.5"/>
<line x1="381.70000000000005" y1="133.95473847211258" x2="382.6" y2="133.95473847211258" stroke="#333" stroke-width="0.5"/>
<line x1="455.49020550707456" y1="200.9" x2="455.49020550707456" y2="201.8" stroke="#333" stroke-width="0.5"/>
<line x1="381.70000000000005" y1="133.08130915132352" x2="382.6" y2="133.08130915132352" stroke="#333" stroke-width="0.5"/>
<line x1="456.4454788637794" y1="200.9" x2="456.4454788637794" y2="201.8" stroke="#333" stroke-width="0.5"/>
<text x="378.3" y="199.0" font-size="4.6" text-anchor="middle" fill="#111" transform="rotate(-90 378.3 199.0)"><tspan style='font-family:"Liberation Sans", sans-serif;font-weight:normal;'>10</tspan><tspan style='font-family:"Liberation Sans", sans-serif;font-weight:normal;font-size:3.2px;' dy="-2.3">0</tspan></text>
<text x="378.3" y="183.6" font-size="4.6" text-anchor="middle" fill="#111" transform="rotate(-90 378.3 183.6)"><tspan style='font-family:"Liberation Sans", sans-serif;font-weight:normal;'>10</tspan><tspan style='font-family:"Liberation Sans", sans-serif;font-weight:normal;font-size:3.2px;' dy="-2.3">1</tspan></text>
<text x="378.3" y="167.0" font-size="4.6" text-anchor="middle" fill="#111" transform="rotate(-90 378.3 167.0)"><tspan style='font-family:"Liberation Sans", sans-serif;font-weight:normal;'>10</tspan><tspan style='font-family:"Liberation Sans", sans-serif;font-weight:normal;font-size:3.2px;' dy="-2.3">2</tspan></text>
<text x="378.3" y="149.8" font-size="4.6" text-anchor="middle" fill="#111" transform="rotate(-90 378.3 149.8)"><tspan style='font-family:"Liberation Sans", sans-serif;font-weight:normal;'>10</tspan><tspan style='font-family:"Liberation Sans", sans-serif;font-weight:normal;font-size:3.2px;' dy="-2.3">3</tspan></text>
<text x="378.3" y="133.8" font-size="4.6" text-anchor="middle" fill="#111" transform="rotate(-90 378.3 133.8)"><tspan style='font-family:"Liberation Sans", sans-serif;font-weight:normal;'>10</tspan><tspan style='font-family:"Liberation Sans", sans-serif;font-weight:normal;font-size:3.2px;' dy="-2.3">4</tspan></text>
<text x="372.8" y="166.7" font-size="4.4" text-anchor="middle" fill="#111" textLength="21.3" lengthAdjust="spacingAndGlyphs" transform="rotate(-90 372.8 166.7)"><tspan style='font-family:"Liberation Sans", sans-serif;font-weight:normal;'>PE-gdTCR</tspan></text>
<text x="383.40000000000003" y="207.9" font-size="4.6" text-anchor="middle" fill="#333"><tspan style='font-family:"Liberation Sans", sans-serif;font-weight:normal;'>10</tspan><tspan style='font-family:"Liberation Sans", sans-serif;font-weight:normal;font-size:3.2px;' dy="-2.3">0</tspan></text>
<text x="401.0" y="207.9" font-size="4.6" text-anchor="middle" fill="#333"><tspan style='font-family:"Liberation Sans", sans-serif;font-weight:normal;'>10</tspan><tspan style='font-family:"Liberation Sans", sans-serif;font-weight:normal;font-size:3.2px;' dy="-2.3">1</tspan></text>
<text x="419.3" y="207.9" font-size="4.6" text-anchor="middle" fill="#333"><tspan style='font-family:"Liberation Sans", sans-serif;font-weight:normal;'>10</tspan><tspan style='font-family:"Liberation Sans", sans-serif;font-weight:normal;font-size:3.2px;' dy="-2.3">2</tspan></text>
<text x="437.90000000000003" y="207.9" font-size="4.6" text-anchor="middle" fill="#333"><tspan style='font-family:"Liberation Sans", sans-serif;font-weight:normal;'>10</tspan><tspan style='font-family:"Liberation Sans", sans-serif;font-weight:normal;font-size:3.2px;' dy="-2.3">3</tspan></text>
<text x="455.90000000000003" y="207.9" font-size="4.6" text-anchor="middle" fill="#333"><tspan style='font-family:"Liberation Sans", sans-serif;font-weight:normal;'>10</tspan><tspan style='font-family:"Liberation Sans", sans-serif;font-weight:normal;font-size:3.2px;' dy="-2.3">4</tspan></text>
<text x="419.95000000000005" y="213.6" font-size="4.4" text-anchor="middle" fill="#333" textLength="22.5" lengthAdjust="spacingAndGlyphs"><tspan style='font-family:"Liberation Sans", sans-serif;font-weight:normal;'>FITC-delta2</tspan></text>
<text x="377.40000000000003" y="300.2" font-size="4.2" text-anchor="middle" fill="#666"><tspan style='font-family:"Liberation Sans", sans-serif;font-weight:normal;'>10</tspan><tspan style='font-family:"Liberation Sans", sans-serif;font-weight:normal;font-size:3px;' dy="-2">0</tspan></text>
<text x="377.40000000000003" y="282.9" font-size="4.2" text-anchor="middle" fill="#666"><tspan style='font-family:"Liberation Sans", sans-serif;font-weight:normal;'>10</tspan><tspan style='font-family:"Liberation Sans", sans-serif;font-weight:normal;font-size:3px;' dy="-2">1</tspan></text>
<text x="377.40000000000003" y="265.0" font-size="4.2" text-anchor="middle" fill="#666"><tspan style='font-family:"Liberation Sans", sans-serif;font-weight:normal;'>10</tspan><tspan style='font-family:"Liberation Sans", sans-serif;font-weight:normal;font-size:3px;' dy="-2">2</tspan></text>
<text x="377.40000000000003" y="247.0" font-size="4.2" text-anchor="middle" fill="#666"><tspan style='font-family:"Liberation Sans", sans-serif;font-weight:normal;'>10</tspan><tspan style='font-family:"Liberation Sans", sans-serif;font-weight:normal;font-size:3px;' dy="-2">3</tspan></text>
<text x="377.40000000000003" y="232.8" font-size="4.2" text-anchor="middle" fill="#666"><tspan style='font-family:"Liberation Sans", sans-serif;font-weight:normal;'>10</tspan><tspan style='font-family:"Liberation Sans", sans-serif;font-weight:normal;font-size:3px;' dy="-2">4</tspan></text>
<text x="385.8" y="307.6" font-size="4.2" text-anchor="middle" fill="#666"><tspan style='font-family:"Liberation Sans", sans-serif;font-weight:normal;'>10</tspan><tspan style='font-family:"Liberation Sans", sans-serif;font-weight:normal;font-size:3px;' dy="-2">0</tspan></text>
<text x="402.1" y="307.6" font-size="4.2" text-anchor="middle" fill="#666"><tspan style='font-family:"Liberation Sans", sans-serif;font-weight:normal;'>10</tspan><tspan style='font-family:"Liberation Sans", sans-serif;font-weight:normal;font-size:3px;' dy="-2">1</tspan></text>
<text x="420.1" y="307.6" font-size="4.2" text-anchor="middle" fill="#666"><tspan style='font-family:"Liberation Sans", sans-serif;font-weight:normal;'>10</tspan><tspan style='font-family:"Liberation Sans", sans-serif;font-weight:normal;font-size:3px;' dy="-2">2</tspan></text>
<text x="436.40000000000003" y="307.6" font-size="4.2" text-anchor="middle" fill="#666"><tspan style='font-family:"Liberation Sans", sans-serif;font-weight:normal;'>10</tspan><tspan style='font-family:"Liberation Sans", sans-serif;font-weight:normal;font-size:3px;' dy="-2">3</tspan></text>
<text x="453.6" y="307.6" font-size="4.2" text-anchor="middle" fill="#666"><tspan style='font-family:"Liberation Sans", sans-serif;font-weight:normal;'>10</tspan><tspan style='font-family:"Liberation Sans", sans-serif;font-weight:normal;font-size:3px;' dy="-2">4</tspan></text>
<text x="10.3" y="364.9" font-size="21" text-anchor="start" fill="#000"><tspan style='font-family:"Liberation Sans", sans-serif;font-weight:bold;'>B</tspan></text>
<text x="187.0" y="365.2" font-size="21" text-anchor="start" fill="#000"><tspan style='font-family:"Liberation Sans", sans-serif;font-weight:bold;'>C</tspan></text>
<text x="331.5" y="365.2" font-size="21" text-anchor="start" fill="#000"><tspan style='font-family:"Liberation Sans", sans-serif;font-weight:bold;'>D</tspan></text>
<text x="10.3" y="507.8" font-size="21" text-anchor="start" fill="#000"><tspan style='font-family:"Liberation Sans", sans-serif;font-weight:bold;'>E</tspan></text>
<text x="10.3" y="628.7" font-size="21" text-anchor="start" fill="#000"><tspan style='font-family:"Liberation Sans", sans-serif;font-weight:bold;'>F</tspan></text>
<text x="31.3" y="451.5" font-size="9.6" text-anchor="start" fill="#000" textLength="69.7" lengthAdjust="spacingAndGlyphs" transform="rotate(-90 31.3 451.5)"><tspan style='font-family:"Liberation Sans", sans-serif;font-weight:bold;'>% Specific Lysis</tspan></text>
<line x1="43.8" y1="376.5" x2="43.8" y2="456.8" stroke="#000" stroke-width="1.3"/>
<line x1="43.2" y1="456.2" x2="179" y2="456.2" stroke="#000" stroke-width="1.3"/>
<line x1="41.3" y1="456.2" x2="43.8" y2="456.2" stroke="#000" stroke-width="1.0"/>
<text x="41.3" y="458.288" font-size="5.8" text-anchor="end" fill="#000"><tspan style='font-family:"Liberation Sans", sans-serif;font-weight:bold;'>0</tspan></text>
<line x1="41.3" y1="440.36" x2="43.8" y2="440.36" stroke="#000" stroke-width="1.0"/>
<text x="41.3" y="442.44800000000004" font-size="5.8" text-anchor="end" fill="#000"><tspan style='font-family:"Liberation Sans", sans-serif;font-weight:bold;'>10</tspan></text>
<line x1="41.3" y1="424.52" x2="43.8" y2="424.52" stroke="#000" stroke-width="1.0"/>
<text x="41.3" y="426.608" font-size="5.8" text-anchor="end" fill="#000"><tspan style='font-family:"Liberation Sans", sans-serif;font-weight:bold;'>20</tspan></text>
<line x1="41.3" y1="408.68" x2="43.8" y2="408.68" stroke="#000" stroke-width="1.0"/>
<text x="41.3" y="410.76800000000003" font-size="5.8" text-anchor="end" fill="#000"><tspan style='font-family:"Liberation Sans", sans-serif;font-weight:bold;'>30</tspan></text>
<line x1="41.3" y1="392.84" x2="43.8" y2="392.84" stroke="#000" stroke-width="1.0"/>
<text x="41.3" y="394.928" font-size="5.8" text-anchor="end" fill="#000"><tspan style='font-family:"Liberation Sans", sans-serif;font-weight:bold;'>40</tspan></text>
<line x1="41.3" y1="377.0" x2="43.8" y2="377.0" stroke="#000" stroke-width="1.0"/>
<text x="41.3" y="379.088" font-size="5.8" text-anchor="end" fill="#000"><tspan style='font-family:"Liberation Sans", sans-serif;font-weight:bold;'>50</tspan></text>
<rect x="49.9" y="392.4" width="8.6" height="63.8" fill="#fff" stroke="#000" stroke-width="1.5"/>
<rect x="62.2" y="452.7" width="9.6" height="3.5" fill="#8e8e8e" stroke="#000" stroke-width="1.2"/>
<rect x="84.0" y="454.4" width="8.4" height="1.8" fill="#8e8e8e" stroke="#000" stroke-width="1.0"/>
<rect x="163.8" y="449.6" width="9.0" height="6.6" fill="#8e8e8e" stroke="#000" stroke-width="1.2"/>
<line x1="60.5" y1="456.2" x2="60.5" y2="458.4" stroke="#000" stroke-width="1.0"/>
<line x1="93.5" y1="456.2" x2="93.5" y2="458.4" stroke="#000" stroke-width="1.0"/>
<line x1="127.5" y1="456.2" x2="127.5" y2="458.4" stroke="#000" stroke-width="1.0"/>
<line x1="162.8" y1="456.2" x2="162.8" y2="458.4" stroke="#000" stroke-width="1.0"/>
<text x="44" y="466.4" font-size="7.8" text-anchor="start" fill="#000" textLength="32.9" lengthAdjust="spacingAndGlyphs"><tspan style='font-family:"Liberation Serif", serif;font-weight:bold;'>γ</tspan><tspan style='font-family:"Liberation Sans", sans-serif;font-weight:bold;'>9</tspan><tspan style='font-family:"Liberation Serif", serif;font-weight:bold;'>δ</tspan><tspan style='font-family:"Liberation Sans", sans-serif;font-weight:bold;'>2TCR</tspan></text>
<text x="79" y="466.4" font-size="7.8" text-anchor="start" fill="#000" textLength="26.5" lengthAdjust="spacingAndGlyphs"><tspan style='font-family:"Liberation Serif", serif;font-weight:bold;'>γ</tspan><tspan style='font-family:"Liberation Sans", sans-serif;font-weight:bold;'>9-only</tspan></text>
<text x="113.3" y="466.4" font-size="7.8" text-anchor="start" fill="#000" textLength="27" lengthAdjust="spacingAndGlyphs"><tspan style='font-family:"Liberation Serif", serif;font-weight:bold;'>δ</tspan><tspan style='font-family:"Liberation Sans", sans-serif;font-weight:bold;'>2-only</tspan></text>
<text x="151.3" y="466.4" font-size="7.8" text-anchor="start" fill="#000" textLength="20" lengthAdjust="spacingAndGlyphs"><tspan style='font-family:"Liberation Sans", sans-serif;font-weight:bold;'>Mock</tspan></text>
<rect x="121.6" y="376" width="10.9" height="6" fill="#fff" stroke="#000" stroke-width="1.1"/>
<rect x="121.6" y="385.6" width="10.9" height="5.6" fill="#8e8e8e" stroke="#000" stroke-width="1.1"/>
<text x="133.8" y="382.4" font-size="8.8" text-anchor="start" fill="#000" textLength="23.5" lengthAdjust="spacingAndGlyphs"><tspan style='font-family:"Liberation Sans", sans-serif;font-weight:normal;'>Daudi</tspan></text>
<text x="133.8" y="391.6" font-size="8.8" text-anchor="start" fill="#000" textLength="47" lengthAdjust="spacingAndGlyphs"><tspan style='font-family:"Liberation Sans", sans-serif;font-weight:normal;'>Auto-PBMC</tspan></text>
<text x="198.6" y="465.8" font-size="8.8" text-anchor="start" fill="#000" textLength="93.8" lengthAdjust="spacingAndGlyphs" transform="rotate(-90 198.6 465.8)"><tspan style='font-family:"Liberation Sans", sans-serif;font-weight:bold;'>TNF</tspan><tspan style='font-family:"Liberation Serif", serif;font-weight:normal;'>α</tspan><tspan style='font-family:"Liberation Sans", sans-serif;font-weight:bold;'> spots/15000 cells</tspan></text>
<line x1="212.8" y1="380.4" x2="212.8" y2="458.7" stroke="#000" stroke-width="1.3"/>
<line x1="212.2" y1="458.2" x2="330.6" y2="458.2" stroke="#000" stroke-width="1.3"/>
<line x1="210.3" y1="458.2" x2="212.8" y2="458.2" stroke="#000" stroke-width="1.0"/>
<text x="210.3" y="460.144" font-size="5.4" text-anchor="end" fill="#000"><tspan style='font-family:"Liberation Sans", sans-serif;font-weight:bold;'>0</tspan></text>
<line x1="210.3" y1="442.65" x2="212.8" y2="442.65" stroke="#000" stroke-width="1.0"/>
<text x="210.3" y="444.594" font-size="5.4" text-anchor="end" fill="#000"><tspan style='font-family:"Liberation Sans", sans-serif;font-weight:bold;'>100</tspan></text>
<line x1="210.3" y1="427.09999999999997" x2="212.8" y2="427.09999999999997" stroke="#000" stroke-width="1.0"/>
<text x="210.3" y="429.044" font-size="5.4" text-anchor="end" fill="#000"><tspan style='font-family:"Liberation Sans", sans-serif;font-weight:bold;'>200</tspan></text>
<line x1="210.3" y1="411.54999999999995" x2="212.8" y2="411.54999999999995" stroke="#000" stroke-width="1.0"/>
<text x="210.3" y="413.49399999999997" font-size="5.4" text-anchor="end" fill="#000"><tspan style='font-family:"Liberation Sans", sans-serif;font-weight:bold;'>300</tspan></text>
<line x1="210.3" y1="396.0" x2="212.8" y2="396.0" stroke="#000" stroke-width="1.0"/>
<text x="210.3" y="397.944" font-size="5.4" text-anchor="end" fill="#000"><tspan style='font-family:"Liberation Sans", sans-serif;font-weight:bold;'>400</tspan></text>
<line x1="210.3" y1="380.45" x2="212.8" y2="380.45" stroke="#000" stroke-width="1.0"/>
<text x="210.3" y="382.394" font-size="5.4" text-anchor="end" fill="#000"><tspan style='font-family:"Liberation Sans", sans-serif;font-weight:bold;'>500</tspan></text>
<rect x="223.7" y="448.2" width="17.3" height="10.0" fill="#fff" stroke="#000" stroke-width="1.5"/>
<line x1="232.3" y1="448" x2="232.3" y2="444.4" stroke="#000" stroke-width="1.1"/>
<line x1="228.5" y1="444.4" x2="236.3" y2="444.4" stroke="#000" stroke-width="1.1"/>
<rect x="244.8" y="380.8" width="16.9" height="77.4" fill="#8e8e8e" stroke="#000" stroke-width="1.6"/>
<line x1="224.6" y1="376.8" x2="257" y2="376.8" stroke="#000" stroke-width="1.5"/>
<text x="240.4" y="378.2" font-size="7" text-anchor="middle" fill="#000"><tspan style='font-family:"Liberation Sans", sans-serif;font-weight:bold;'>*</tspan></text>
<rect x="282.3" y="456.3" width="17.4" height="1.9" fill="#fff" stroke="#000" stroke-width="1.0"/>
<rect x="302.5" y="456.2" width="18.6" height="2.0" fill="#333" stroke="#000" stroke-width="1.0"/>
<line x1="242.9" y1="458.2" x2="242.9" y2="460.4" stroke="#000" stroke-width="1.0"/>
<line x1="301.4" y1="458.2" x2="301.4" y2="460.4" stroke="#000" stroke-width="1.0"/>
<text x="223.4" y="467.8" font-size="7.8" text-anchor="start" fill="#000" textLength="34.4" lengthAdjust="spacingAndGlyphs"><tspan style='font-family:"Liberation Serif", serif;font-weight:bold;'>γ</tspan><tspan style='font-family:"Liberation Sans", sans-serif;font-weight:bold;'>9</tspan><tspan style='font-family:"Liberation Serif", serif;font-weight:bold;'>δ</tspan><tspan style='font-family:"Liberation Sans", sans-serif;font-weight:bold;'>2TCR</tspan></text>
<text x="292.2" y="467.6" font-size="7.8" text-anchor="start" fill="#000" textLength="19" lengthAdjust="spacingAndGlyphs"><tspan style='font-family:"Liberation Sans", sans-serif;font-weight:bold;'>Mock</tspan></text>
<text x="340.6" y="462.4" font-size="8.4" text-anchor="start" fill="#000" textLength="88.7" lengthAdjust="spacingAndGlyphs" transform="rotate(-90 340.6 462.4)"><tspan style='font-family:"Liberation Sans", sans-serif;font-weight:bold;'>IFN</tspan><tspan style='font-family:"Liberation Serif", serif;font-weight:normal;'>γ</tspan><tspan style='font-family:"Liberation Sans", sans-serif;font-weight:bold;'> spots/15000 cells</tspan></text>
<line x1="356.6" y1="379.7" x2="356.6" y2="457.6" stroke="#000" stroke-width="1.3"/>
<line x1="356.0" y1="457.1" x2="475.4" y2="457.1" stroke="#000" stroke-width="1.3"/>
<line x1="354.1" y1="457.1" x2="356.6" y2="457.1" stroke="#000" stroke-width="1.0"/>
<text x="354.4" y="459.04400000000004" font-size="5.4" text-anchor="end" fill="#000"><tspan style='font-family:"Liberation Sans", sans-serif;font-weight:bold;'>0</tspan></text>
<line x1="354.1" y1="441.65000000000003" x2="356.6" y2="441.65000000000003" stroke="#000" stroke-width="1.0"/>
<text x="354.4" y="443.59400000000005" font-size="5.4" text-anchor="end" fill="#000"><tspan style='font-family:"Liberation Sans", sans-serif;font-weight:bold;'>100</tspan></text>
<line x1="354.1" y1="426.20000000000005" x2="356.6" y2="426.20000000000005" stroke="#000" stroke-width="1.0"/>
<text x="354.4" y="428.14400000000006" font-size="5.4" text-anchor="end" fill="#000"><tspan style='font-family:"Liberation Sans", sans-serif;font-weight:bold;'>200</tspan></text>
<line x1="354.1" y1="410.75" x2="356.6" y2="410.75" stroke="#000" stroke-width="1.0"/>
<text x="354.4" y="412.694" font-size="5.4" text-anchor="end" fill="#000"><tspan style='font-family:"Liberation Sans", sans-serif;font-weight:bold;'>300</tspan></text>
<line x1="354.1" y1="395.3" x2="356.6" y2="395.3" stroke="#000" stroke-width="1.0"/>
<text x="354.4" y="397.244" font-size="5.4" text-anchor="end" fill="#000"><tspan style='font-family:"Liberation Sans", sans-serif;font-weight:bold;'>400</tspan></text>
<line x1="354.1" y1="379.85" x2="356.6" y2="379.85" stroke="#000" stroke-width="1.0"/>
<text x="354.4" y="381.79400000000004" font-size="5.4" text-anchor="end" fill="#000"><tspan style='font-family:"Liberation Sans", sans-serif;font-weight:bold;'>500</tspan></text>
<rect x="367.6" y="453.1" width="16.8" height="4.0" fill="#fff" stroke="#000" stroke-width="1.5"/>
<line x1="371" y1="452.6" x2="381" y2="452.6" stroke="#000" stroke-width="1.0"/>
<rect x="388.3" y="381.0" width="17.1" height="76.1" fill="#8e8e8e" stroke="#000" stroke-width="1.6"/>
<line x1="373.7" y1="376.8" x2="400.6" y2="376.8" stroke="#000" stroke-width="1.5"/>
<text x="387.3" y="376.6" font-size="7" text-anchor="middle" fill="#000"><tspan style='font-family:"Liberation Sans", sans-serif;font-weight:bold;'>**</tspan></text>
<line x1="386.1" y1="457.1" x2="386.1" y2="459.3" stroke="#000" stroke-width="1.0"/>
<line x1="445.2" y1="457.1" x2="445.2" y2="459.3" stroke="#000" stroke-width="1.0"/>
<text x="368.8" y="466.7" font-size="7.8" text-anchor="start" fill="#000" textLength="33.7" lengthAdjust="spacingAndGlyphs"><tspan style='font-family:"Liberation Serif", serif;font-weight:bold;'>γ</tspan><tspan style='font-family:"Liberation Sans", sans-serif;font-weight:bold;'>9</tspan><tspan style='font-family:"Liberation Serif", serif;font-weight:bold;'>δ</tspan><tspan style='font-family:"Liberation Sans", sans-serif;font-weight:bold;'>2TCR</tspan></text>
<text x="435.8" y="466.7" font-size="7.8" text-anchor="start" fill="#000" textLength="19.2" lengthAdjust="spacingAndGlyphs"><tspan style='font-family:"Liberation Sans", sans-serif;font-weight:bold;'>Mock</tspan></text>
<rect x="441.5" y="382.2" width="11.3" height="4.8" fill="#fff" stroke="#000" stroke-width="1.1"/>
<rect x="441.5" y="391.0" width="11.3" height="5.3" fill="#8e8e8e" stroke="#000" stroke-width="1.1"/>
<text x="454.6" y="387.3" font-size="7.2" text-anchor="start" fill="#000" textLength="29.8" lengthAdjust="spacingAndGlyphs"><tspan style='font-family:"Liberation Sans", sans-serif;font-weight:normal;'>untreated</tspan></text>
<text x="454.6" y="396.4" font-size="7.2" text-anchor="start" fill="#000" textLength="61.2" lengthAdjust="spacingAndGlyphs"><tspan style='font-family:"Liberation Sans", sans-serif;font-weight:normal;'>pamidronate,10</tspan><tspan style='font-family:"Liberation Serif", serif;font-weight:normal;'>μ</tspan><tspan style='font-family:"Liberation Sans", sans-serif;font-weight:normal;'>M</tspan></text>
<text x="64.3" y="510.3" font-size="12.4" text-anchor="start" fill="#000" textLength="75.3" lengthAdjust="spacingAndGlyphs"><tspan style='font-family:"Liberation Sans", sans-serif;font-weight:bold;'>Auto PBMCs</tspan></text>
<text x="198.8" y="509.6" font-size="12.4" text-anchor="start" fill="#000" textLength="33.9" lengthAdjust="spacingAndGlyphs"><tspan style='font-family:"Liberation Sans", sans-serif;font-weight:bold;'>Daudi</tspan></text>
<text x="285.7" y="509.6" font-size="12.4" text-anchor="start" fill="#000" textLength="69.8" lengthAdjust="spacingAndGlyphs"><tspan style='font-family:"Liberation Sans", sans-serif;font-weight:bold;'>Allo PBMCs</tspan></text>
<text x="42.6" y="567.5" font-size="12.2" text-anchor="start" fill="#000" textLength="40.5" lengthAdjust="spacingAndGlyphs" transform="rotate(-90 42.6 567.5)"><tspan style='font-family:"Liberation Sans", sans-serif;font-weight:bold;'>Events</tspan></text>
<line x1="49.2" y1="518.5" x2="49.2" y2="593.5" stroke="#000" stroke-width="2.4"/>
<polygon points="49.2,513.0 45.7,519.6 52.7,519.6" fill="#000"/>
<line x1="59.5" y1="595.6" x2="379.5" y2="595.6" stroke="#000" stroke-width="2.4"/>
<polygon points="385.8,595.6 378.5,591.8 378.5,599.4" fill="#000"/>
<text x="198.0" y="608.8" font-size="12" text-anchor="start" fill="#000" textLength="43.3" lengthAdjust="spacingAndGlyphs"><tspan style='font-family:"Liberation Sans", sans-serif;font-weight:bold;'>CMFDA</tspan></text>
<rect x="59.4" y="515" width="97.9" height="74.6" fill="none" stroke="#999" stroke-width="0.9"/>
<rect x="169.7" y="515" width="97.60000000000002" height="74.6" fill="none" stroke="#999" stroke-width="0.9"/>
<rect x="277.4" y="515" width="97.90000000000003" height="74.6" fill="none" stroke="#999" stroke-width="0.9"/>
<path d="M97.5 589.4 L101.0 587.2 L104.0 586.5 L107.0 587.5 L110.0 586.4 L113.0 587.2 L116.0 587.8 L118.0 588.5 L121.9 582.5 L125.0 576.0 L126.9 568.8 L128.8 557.5 L130.6 541.0 L131.9 532.5 L133.8 523.7 L136.2 515.6 L138.1 522.5 L140.0 535.0 L141.9 547.5 L143.7 558.7 L146.2 568.7 L148.7 577.5 L152.5 586.2 L156.2 589.4" fill="none" stroke="#000" stroke-width="1.2" stroke-linejoin="round" opacity="1"/>
<path d="M112.0 589.4 L118.0 588.8 L122.0 587.0 L125.0 583.0 L127.5 576.0 L129.5 563.0 L131.2 548.0 L132.8 535.0 L134.5 524.0 L136.5 516.0 L138.5 524.0 L140.3 537.0 L142.0 549.0 L143.5 561.0 L145.5 572.0 L148.0 580.0 L151.0 586.0 L155.0 589.2" fill="none" stroke="#222" stroke-width="0.9" stroke-linejoin="round" stroke-dasharray="1.3 0.7" opacity="1"/>
<path d="M200.8 589.4 L203.5 587.0 L206.5 585.0 L209.4 581.4 L212.3 583.6 L215.2 581.4 L218.8 580.7 L223.1 577.8 L224.6 570.6 L226.0 564.8 L229.6 560.5 L233.2 558.3 L236.8 557.6 L239.0 550.4 L241.2 540.3 L243.3 530.2 L244.8 523.0 L246.2 515.8 L249.1 525.9 L251.3 537.4 L253.4 551.8 L256.3 564.8 L259.2 577.8 L262.1 587.9 L264.0 589.4" fill="none" stroke="#222" stroke-width="0.95" stroke-linejoin="round" stroke-dasharray="1.4 0.6" opacity="1"/>
<path d="M212.3 589.4 L223.9 587.9 L232.5 585.0 L238.3 580.7 L241.2 573.5 L244.1 559.0 L246.2 546.0 L247.7 533.0 L249.1 518.7 L249.8 515.6 L252.0 525.9 L254.2 538.9 L257.0 553.3 L259.9 567.7 L262.8 579.3 L265.7 587.9 L267.0 589.4" fill="none" stroke="#000" stroke-width="1.2" stroke-linejoin="round" opacity="1"/>
<path d="M313.8 589.2 L316.9 586.2 L320.0 582.3 L322.3 580.8 L325.4 582.3 L329.2 580.8 L333.8 580.0 L338.5 578.5 L342.3 577.7 L345.4 573.0 L346.9 565.4 L349.2 553.0 L351.5 537.7 L353.8 523.8 L356.2 515.4 L358.5 526.9 L360.8 540.8 L363.1 554.6 L366.2 570.0 L369.2 582.3 L372.3 588.5 L374.0 589.2" fill="none" stroke="#000" stroke-width="1.2" stroke-linejoin="round" opacity="1"/>
<path d="M315.4 589.2 L323.0 586.9 L330.8 587.0 L340.0 585.4 L344.6 582.3 L346.9 571.5 L349.2 556.0 L352.3 534.6 L354.6 519.2 L355.7 515.4 L359.2 525.4 L361.5 536.2 L364.6 554.6 L367.7 570.0 L370.8 582.3 L373.8 588.5" fill="none" stroke="#222" stroke-width="0.9" stroke-linejoin="round" stroke-dasharray="1.3 0.7" opacity="1"/>
<text x="55.8" y="547.3" font-size="10" text-anchor="start" fill="#000" textLength="73.9" lengthAdjust="spacingAndGlyphs"><tspan style='font-family:"Liberation Serif", serif;font-weight:bold;'>γ</tspan><tspan style='font-family:"Liberation Sans", sans-serif;font-weight:bold;'>9</tspan><tspan style='font-family:"Liberation Serif", serif;font-weight:bold;'>δ</tspan><tspan style='font-family:"Liberation Sans", sans-serif;font-weight:bold;'>2TCR (1.8%)</tspan></text>
<text x="55.8" y="565.0" font-size="10" text-anchor="start" fill="#000" textLength="50.8" lengthAdjust="spacingAndGlyphs"><tspan style='font-family:"Liberation Sans", sans-serif;font-weight:bold;'>Mock (2%)</tspan></text>
<line x1="104.3" y1="555.4" x2="122.4" y2="555.4" stroke="#000" stroke-width="1.0"/>
<polygon points="127.4,555.4 122.4,557.8 122.4,553.0" fill="#000"/>
<line x1="92.7" y1="569.7" x2="118.4" y2="569.7" stroke="#000" stroke-width="1.0"/>
<polygon points="123.4,569.7 118.4,572.1 118.4,567.3" fill="#000"/>
<text x="169.2" y="552.8" font-size="10" text-anchor="start" fill="#000" textLength="71.6" lengthAdjust="spacingAndGlyphs"><tspan style='font-family:"Liberation Serif", serif;font-weight:bold;'>γ</tspan><tspan style='font-family:"Liberation Sans", sans-serif;font-weight:bold;'>9</tspan><tspan style='font-family:"Liberation Serif", serif;font-weight:bold;'>δ</tspan><tspan style='font-family:"Liberation Sans", sans-serif;font-weight:bold;'>2TCR (14%)</tspan></text>
<text x="169.7" y="568.5" font-size="10" text-anchor="start" fill="#000" textLength="50.8" lengthAdjust="spacingAndGlyphs"><tspan style='font-family:"Liberation Sans", sans-serif;font-weight:bold;'>Mock (1%)</tspan></text>
<line x1="215.2" y1="554" x2="223.8260432195729" y2="558.7775008600712" stroke="#000" stroke-width="1.0"/>
<polygon points="228.2,561.2 222.7,560.9 225.0,556.7" fill="#000"/>
<line x1="201.5" y1="569.9" x2="230.69981963093647" y2="580.4946248218442" stroke="#000" stroke-width="1.0"/>
<polygon points="235.4,582.2 229.9,582.8 231.5,578.2" fill="#000"/>
<text x="275.8" y="554.2" font-size="10" text-anchor="start" fill="#000" textLength="65.8" lengthAdjust="spacingAndGlyphs"><tspan style='font-family:"Liberation Serif", serif;font-weight:bold;'>γ</tspan><tspan style='font-family:"Liberation Sans", sans-serif;font-weight:bold;'>9</tspan><tspan style='font-family:"Liberation Serif", serif;font-weight:bold;'>δ</tspan><tspan style='font-family:"Liberation Sans", sans-serif;font-weight:bold;'>2TCR (1%)</tspan></text>
<text x="276.5" y="570.8" font-size="10" text-anchor="start" fill="#000" textLength="56.3" lengthAdjust="spacingAndGlyphs"><tspan style='font-family:"Liberation Sans", sans-serif;font-weight:bold;'>Mock (10%)</tspan></text>
<line x1="324.6" y1="556.9" x2="337.3" y2="556.9" stroke="#000" stroke-width="1.0"/>
<polygon points="342.3,556.9 337.3,559.3 337.3,554.5" fill="#000"/>
<line x1="318.5" y1="570.8" x2="325.47412426098487" y2="574.0748061747233" stroke="#000" stroke-width="1.0"/>
<polygon points="330.0,576.2 324.5,576.2 326.5,571.9" fill="#000"/>
<text x="36.8" y="737.6" font-size="7.2" text-anchor="start" fill="#000" textLength="83.8" lengthAdjust="spacingAndGlyphs" transform="rotate(-90 36.8 737.6)"><tspan style='font-family:"Liberation Sans", sans-serif;font-weight:bold;'>INF</tspan><tspan style='font-family:"Liberation Serif", serif;font-weight:normal;'>γ</tspan><tspan style='font-family:"Liberation Sans", sans-serif;font-weight:bold;'> spots/10.000 T cells</tspan></text>
<line x1="51.8" y1="657.5" x2="51.8" y2="731.3" stroke="#000" stroke-width="1.1"/>
<line x1="51.3" y1="730.8" x2="405.8" y2="730.8" stroke="#000" stroke-width="1.1"/>
<line x1="49.599999999999994" y1="730.8" x2="51.8" y2="730.8" stroke="#000" stroke-width="0.9"/>
<text x="49.3" y="732.5279999999999" font-size="4.8" text-anchor="end" fill="#000"><tspan style='font-family:"Liberation Sans", sans-serif;font-weight:bold;'>0</tspan></text>
<line x1="49.599999999999994" y1="721.64" x2="51.8" y2="721.64" stroke="#000" stroke-width="0.9"/>
<text x="49.3" y="723.3679999999999" font-size="4.8" text-anchor="end" fill="#000"><tspan style='font-family:"Liberation Sans", sans-serif;font-weight:bold;'>10</tspan></text>
<line x1="49.599999999999994" y1="712.4799999999999" x2="51.8" y2="712.4799999999999" stroke="#000" stroke-width="0.9"/>
<text x="49.3" y="714.2079999999999" font-size="4.8" text-anchor="end" fill="#000"><tspan style='font-family:"Liberation Sans", sans-serif;font-weight:bold;'>20</tspan></text>
<line x1="49.599999999999994" y1="703.3199999999999" x2="51.8" y2="703.3199999999999" stroke="#000" stroke-width="0.9"/>
<text x="49.3" y="705.0479999999999" font-size="4.8" text-anchor="end" fill="#000"><tspan style='font-family:"Liberation Sans", sans-serif;font-weight:bold;'>30</tspan></text>
<line x1="49.599999999999994" y1="694.16" x2="51.8" y2="694.16" stroke="#000" stroke-width="0.9"/>
<text x="49.3" y="695.8879999999999" font-size="4.8" text-anchor="end" fill="#000"><tspan style='font-family:"Liberation Sans", sans-serif;font-weight:bold;'>40</tspan></text>
<line x1="49.599999999999994" y1="685.0" x2="51.8" y2="685.0" stroke="#000" stroke-width="0.9"/>
<text x="49.3" y="686.728" font-size="4.8" text-anchor="end" fill="#000"><tspan style='font-family:"Liberation Sans", sans-serif;font-weight:bold;'>50</tspan></text>
<line x1="49.599999999999994" y1="675.8399999999999" x2="51.8" y2="675.8399999999999" stroke="#000" stroke-width="0.9"/>
<text x="49.3" y="677.5679999999999" font-size="4.8" text-anchor="end" fill="#000"><tspan style='font-family:"Liberation Sans", sans-serif;font-weight:bold;'>60</tspan></text>
<line x1="49.599999999999994" y1="666.68" x2="51.8" y2="666.68" stroke="#000" stroke-width="0.9"/>
<text x="49.3" y="668.4079999999999" font-size="4.8" text-anchor="end" fill="#000"><tspan style='font-family:"Liberation Sans", sans-serif;font-weight:bold;'>70</tspan></text>
<line x1="49.599999999999994" y1="657.52" x2="51.8" y2="657.52" stroke="#000" stroke-width="0.9"/>
<text x="49.3" y="659.2479999999999" font-size="4.8" text-anchor="end" fill="#000"><tspan style='font-family:"Liberation Sans", sans-serif;font-weight:bold;'>80</tspan></text>
<line x1="65.8" y1="725.1" x2="65.8" y2="722.1" stroke="#000" stroke-width="1.0"/>
<line x1="64.4" y1="722.1" x2="67.2" y2="722.1" stroke="#000" stroke-width="1.1"/>
<rect x="55.75" y="724.8000000000001" width="4.5" height="5.999999999999909" fill="#fff" stroke="#000" stroke-width="1.15"/>
<rect x="63.0" y="724.8000000000001" width="5.6" height="5.999999999999932" fill="#000" stroke="none" stroke-width="0"/>
<text x="62.3" y="742.6" font-size="8.2" text-anchor="middle" fill="#000"><tspan style='font-family:"Liberation Sans", sans-serif;font-weight:normal;'>1</tspan></text>
<line x1="62.0" y1="730.8" x2="62.0" y2="733.2" stroke="#000" stroke-width="0.9"/>
<rect x="76.5" y="720.5" width="4.5" height="10.299999999999978" fill="#fff" stroke="#000" stroke-width="1.15"/>
<rect x="83.75" y="721.0" width="5.6" height="9.8" fill="#000" stroke="none" stroke-width="0"/>
<text x="83.05" y="742.6" font-size="8.2" text-anchor="middle" fill="#000"><tspan style='font-family:"Liberation Sans", sans-serif;font-weight:normal;'>2</tspan></text>
<line x1="82.75" y1="730.8" x2="82.75" y2="733.2" stroke="#000" stroke-width="0.9"/>
<line x1="99.5" y1="725.6" x2="99.5" y2="724.2" stroke="#000" stroke-width="1.0"/>
<line x1="98.10000000000001" y1="724.2" x2="100.9" y2="724.2" stroke="#000" stroke-width="1.1"/>
<line x1="107.3" y1="723.9" x2="107.3" y2="719.4" stroke="#000" stroke-width="1.0"/>
<line x1="105.9" y1="719.4" x2="108.7" y2="719.4" stroke="#000" stroke-width="1.1"/>
<rect x="97.25" y="725.7" width="4.5" height="5.099999999999932" fill="#fff" stroke="#000" stroke-width="1.15"/>
<rect x="104.5" y="723.6" width="5.6" height="7.199999999999977" fill="#000" stroke="none" stroke-width="0"/>
<text x="103.8" y="742.6" font-size="8.2" text-anchor="middle" fill="#000"><tspan style='font-family:"Liberation Sans", sans-serif;font-weight:normal;'>3</tspan></text>
<line x1="103.5" y1="730.8" x2="103.5" y2="733.2" stroke="#000" stroke-width="0.9"/>
<line x1="120.25" y1="720.4" x2="120.25" y2="715.9" stroke="#000" stroke-width="1.0"/>
<line x1="118.85000000000001" y1="715.9" x2="121.65" y2="715.9" stroke="#000" stroke-width="1.1"/>
<line x1="128.05" y1="712.5" x2="128.05" y2="702" stroke="#000" stroke-width="1.0"/>
<line x1="126.65" y1="702" x2="129.45" y2="702" stroke="#000" stroke-width="1.1"/>
<rect x="118.0" y="720.5" width="4.5" height="10.299999999999978" fill="#fff" stroke="#000" stroke-width="1.15"/>
<rect x="125.25" y="712.2" width="5.6" height="18.599999999999955" fill="#000" stroke="none" stroke-width="0"/>
<text x="124.55" y="742.6" font-size="8.2" text-anchor="middle" fill="#000"><tspan style='font-family:"Liberation Sans", sans-serif;font-weight:normal;'>4</tspan></text>
<line x1="124.25" y1="730.8" x2="124.25" y2="733.2" stroke="#000" stroke-width="0.9"/>
<rect x="138.75" y="727.4" width="4.5" height="3.4" fill="#fff" stroke="#000" stroke-width="1.15"/>
<rect x="146.0" y="726.3000000000001" width="5.6" height="4.499999999999932" fill="#000" stroke="none" stroke-width="0"/>
<text x="145.3" y="742.6" font-size="8.2" text-anchor="middle" fill="#000"><tspan style='font-family:"Liberation Sans", sans-serif;font-weight:normal;'>5</tspan></text>
<line x1="145.0" y1="730.8" x2="145.0" y2="733.2" stroke="#000" stroke-width="0.9"/>
<line x1="169.55" y1="720.8" x2="169.55" y2="717" stroke="#000" stroke-width="1.0"/>
<line x1="168.15" y1="717" x2="170.95" y2="717" stroke="#000" stroke-width="1.1"/>
<rect x="159.5" y="725.6" width="4.5" height="5.199999999999955" fill="#fff" stroke="#000" stroke-width="1.15"/>
<rect x="166.75" y="720.5" width="5.6" height="10.3" fill="#000" stroke="none" stroke-width="0"/>
<text x="166.05" y="742.6" font-size="8.2" text-anchor="middle" fill="#000"><tspan style='font-family:"Liberation Sans", sans-serif;font-weight:normal;'>6</tspan></text>
<line x1="165.75" y1="730.8" x2="165.75" y2="733.2" stroke="#000" stroke-width="0.9"/>
<line x1="182.5" y1="723.6" x2="182.5" y2="719.7" stroke="#000" stroke-width="1.0"/>
<line x1="181.1" y1="719.7" x2="183.89999999999998" y2="719.7" stroke="#000" stroke-width="1.1"/>
<line x1="190.3" y1="681.1" x2="190.3" y2="677" stroke="#000" stroke-width="1.0"/>
<line x1="188.9" y1="677" x2="191.7" y2="677" stroke="#000" stroke-width="1.1"/>
<rect x="180.25" y="723.7" width="4.5" height="7.099999999999932" fill="#fff" stroke="#000" stroke-width="1.15"/>
<rect x="187.5" y="680.8000000000001" width="5.6" height="49.99999999999993" fill="#000" stroke="none" stroke-width="0"/>
<text x="186.8" y="742.6" font-size="8.2" text-anchor="middle" fill="#000"><tspan style='font-family:"Liberation Sans", sans-serif;font-weight:normal;'>7</tspan></text>
<line x1="186.5" y1="730.8" x2="186.5" y2="733.2" stroke="#000" stroke-width="0.9"/>
<line x1="203.25" y1="713.4" x2="203.25" y2="712" stroke="#000" stroke-width="1.0"/>
<line x1="201.85" y1="712" x2="204.64999999999998" y2="712" stroke="#000" stroke-width="1.1"/>
<line x1="211.05" y1="719.7" x2="211.05" y2="716.7" stroke="#000" stroke-width="1.0"/>
<line x1="209.65" y1="716.7" x2="212.45" y2="716.7" stroke="#000" stroke-width="1.1"/>
<rect x="201.0" y="713.5" width="4.5" height="17.299999999999976" fill="#fff" stroke="#000" stroke-width="1.15"/>
<rect x="208.25" y="719.4000000000001" width="5.6" height="11.39999999999991" fill="#000" stroke="none" stroke-width="0"/>
<text x="207.55" y="742.6" font-size="8.2" text-anchor="middle" fill="#000"><tspan style='font-family:"Liberation Sans", sans-serif;font-weight:normal;'>8</tspan></text>
<line x1="207.25" y1="730.8" x2="207.25" y2="733.2" stroke="#000" stroke-width="0.9"/>
<line x1="224.0" y1="720.4" x2="224.0" y2="716" stroke="#000" stroke-width="1.0"/>
<line x1="222.6" y1="716" x2="225.39999999999998" y2="716" stroke="#000" stroke-width="1.1"/>
<rect x="221.75" y="720.5" width="4.5" height="10.299999999999978" fill="#fff" stroke="#000" stroke-width="1.15"/>
<rect x="229.0" y="712.4000000000001" width="5.6" height="18.39999999999991" fill="#000" stroke="none" stroke-width="0"/>
<text x="228.3" y="742.6" font-size="8.2" text-anchor="middle" fill="#000"><tspan style='font-family:"Liberation Sans", sans-serif;font-weight:normal;'>9</tspan></text>
<line x1="228.0" y1="730.8" x2="228.0" y2="733.2" stroke="#000" stroke-width="0.9"/>
<line x1="244.75" y1="718" x2="244.75" y2="715" stroke="#000" stroke-width="1.0"/>
<line x1="243.35" y1="715" x2="246.14999999999998" y2="715" stroke="#000" stroke-width="1.1"/>
<line x1="252.55" y1="664.2" x2="252.55" y2="659.6" stroke="#000" stroke-width="1.0"/>
<line x1="251.15" y1="659.6" x2="253.95" y2="659.6" stroke="#000" stroke-width="1.1"/>
<rect x="242.5" y="718.1" width="4.5" height="12.699999999999955" fill="#fff" stroke="#000" stroke-width="1.15"/>
<rect x="249.75" y="663.9000000000001" width="5.6" height="66.8999999999999" fill="#000" stroke="none" stroke-width="0"/>
<text x="249.65" y="742.6" font-size="8.2" text-anchor="middle" fill="#000"><tspan style='font-family:"Liberation Sans", sans-serif;font-weight:normal;'>10</tspan></text>
<line x1="248.75" y1="730.8" x2="248.75" y2="733.2" stroke="#000" stroke-width="0.9"/>
<line x1="265.5" y1="722" x2="265.5" y2="720.4" stroke="#000" stroke-width="1.0"/>
<line x1="264.09999999999997" y1="720.4" x2="266.9" y2="720.4" stroke="#000" stroke-width="1.1"/>
<rect x="263.25" y="722.1" width="4.5" height="8.699999999999955" fill="#fff" stroke="#000" stroke-width="1.15"/>
<rect x="270.5" y="723.3000000000001" width="5.6" height="7.499999999999932" fill="#000" stroke="none" stroke-width="0"/>
<text x="270.40000000000003" y="742.6" font-size="8.2" text-anchor="middle" fill="#000"><tspan style='font-family:"Liberation Sans", sans-serif;font-weight:normal;'>11</tspan></text>
<line x1="269.5" y1="730.8" x2="269.5" y2="733.2" stroke="#000" stroke-width="0.9"/>
<line x1="294.05" y1="726" x2="294.05" y2="721.3" stroke="#000" stroke-width="1.0"/>
<line x1="292.65" y1="721.3" x2="295.45" y2="721.3" stroke="#000" stroke-width="1.1"/>
<rect x="284.0" y="724.4" width="4.5" height="6.4" fill="#fff" stroke="#000" stroke-width="1.15"/>
<rect x="291.25" y="725.7" width="5.6" height="5.099999999999954" fill="#000" stroke="none" stroke-width="0"/>
<text x="291.15000000000003" y="742.6" font-size="8.2" text-anchor="middle" fill="#000"><tspan style='font-family:"Liberation Sans", sans-serif;font-weight:normal;'>12</tspan></text>
<line x1="290.25" y1="730.8" x2="290.25" y2="733.2" stroke="#000" stroke-width="0.9"/>
<line x1="307.0" y1="719" x2="307.0" y2="715.7" stroke="#000" stroke-width="1.0"/>
<line x1="305.59999999999997" y1="715.7" x2="308.4" y2="715.7" stroke="#000" stroke-width="1.1"/>
<rect x="304.75" y="719.1" width="4.5" height="11.699999999999955" fill="#fff" stroke="#000" stroke-width="1.15"/>
<rect x="312.0" y="703.9000000000001" width="5.6" height="26.89999999999991" fill="#000" stroke="none" stroke-width="0"/>
<text x="311.90000000000003" y="742.6" font-size="8.2" text-anchor="middle" fill="#000"><tspan style='font-family:"Liberation Sans", sans-serif;font-weight:normal;'>13</tspan></text>
<line x1="311.0" y1="730.8" x2="311.0" y2="733.2" stroke="#000" stroke-width="0.9"/>
<rect x="325.5" y="725.6" width="4.5" height="5.199999999999955" fill="#fff" stroke="#000" stroke-width="1.15"/>
<rect x="332.75" y="727.9000000000001" width="5.6" height="2.899999999999909" fill="#000" stroke="none" stroke-width="0"/>
<text x="332.65000000000003" y="742.6" font-size="8.2" text-anchor="middle" fill="#000"><tspan style='font-family:"Liberation Sans", sans-serif;font-weight:normal;'>14</tspan></text>
<line x1="331.75" y1="730.8" x2="331.75" y2="733.2" stroke="#000" stroke-width="0.9"/>
<line x1="348.5" y1="727.3" x2="348.5" y2="725" stroke="#000" stroke-width="1.0"/>
<line x1="347.09999999999997" y1="725" x2="349.9" y2="725" stroke="#000" stroke-width="1.1"/>
<rect x="346.25" y="727.4" width="4.5" height="3.4" fill="#fff" stroke="#000" stroke-width="1.15"/>
<rect x="353.5" y="727.9000000000001" width="5.6" height="2.899999999999909" fill="#000" stroke="none" stroke-width="0"/>
<text x="353.40000000000003" y="742.6" font-size="8.2" text-anchor="middle" fill="#000"><tspan style='font-family:"Liberation Sans", sans-serif;font-weight:normal;'>15</tspan></text>
<line x1="352.5" y1="730.8" x2="352.5" y2="733.2" stroke="#000" stroke-width="0.9"/>
<line x1="369.25" y1="725" x2="369.25" y2="723.1" stroke="#000" stroke-width="1.0"/>
<line x1="367.84999999999997" y1="723.1" x2="370.65" y2="723.1" stroke="#000" stroke-width="1.1"/>
<line x1="377.05" y1="699.6" x2="377.05" y2="689" stroke="#000" stroke-width="1.0"/>
<line x1="375.65" y1="689" x2="378.45" y2="689" stroke="#000" stroke-width="1.1"/>
<rect x="367.0" y="725.1" width="4.5" height="5.699999999999955" fill="#fff" stroke="#000" stroke-width="1.15"/>
<rect x="374.25" y="699.3000000000001" width="5.6" height="31.499999999999932" fill="#000" stroke="none" stroke-width="0"/>
<text x="374.15000000000003" y="742.6" font-size="8.2" text-anchor="middle" fill="#000"><tspan style='font-family:"Liberation Sans", sans-serif;font-weight:normal;'>16</tspan></text>
<line x1="373.25" y1="730.8" x2="373.25" y2="733.2" stroke="#000" stroke-width="0.9"/>
<line x1="397.8" y1="686.2" x2="397.8" y2="682.7" stroke="#000" stroke-width="1.0"/>
<line x1="396.4" y1="682.7" x2="399.2" y2="682.7" stroke="#000" stroke-width="1.1"/>
<rect x="387.75" y="729.0" width="4.5" height="1.7999999999999772" fill="#fff" stroke="#000" stroke-width="1.15"/>
<rect x="395.0" y="685.9000000000001" width="5.6" height="44.899999999999906" fill="#000" stroke="none" stroke-width="0"/>
<text x="394.90000000000003" y="742.6" font-size="8.2" text-anchor="middle" fill="#000"><tspan style='font-family:"Liberation Sans", sans-serif;font-weight:normal;'>17</tspan></text>
<line x1="394.0" y1="730.8" x2="394.0" y2="733.2" stroke="#000" stroke-width="0.9"/>
<line x1="178.5" y1="675.1" x2="193.5" y2="675.1" stroke="#000" stroke-width="1.1"/>
<text x="185.5" y="675.7" font-size="9" text-anchor="middle" fill="#000"><tspan style='font-family:"Liberation Sans", sans-serif;font-weight:bold;'>*</tspan></text>
<line x1="240.8" y1="657.3" x2="255.2" y2="657.3" stroke="#000" stroke-width="1.1"/>
<text x="247.5" y="657.9" font-size="9" text-anchor="middle" fill="#000"><tspan style='font-family:"Liberation Sans", sans-serif;font-weight:bold;'>*</tspan></text>
<line x1="304.2" y1="700.5" x2="317.3" y2="700.5" stroke="#000" stroke-width="1.1"/>
<text x="310.7" y="701.1" font-size="9" text-anchor="middle" fill="#000"><tspan style='font-family:"Liberation Sans", sans-serif;font-weight:bold;'>*</tspan></text>
<line x1="366.5" y1="687.3" x2="380.4" y2="687.3" stroke="#000" stroke-width="1.1"/>
<text x="373.5" y="687.9" font-size="9" text-anchor="middle" fill="#000"><tspan style='font-family:"Liberation Sans", sans-serif;font-weight:bold;'>*</tspan></text>
<line x1="385.7" y1="680.4" x2="397.3" y2="680.4" stroke="#000" stroke-width="1.1"/>
<text x="392.5" y="681.0" font-size="9" text-anchor="middle" fill="#000"><tspan style='font-family:"Liberation Sans", sans-serif;font-weight:bold;'>*</tspan></text>
<text x="210.8" y="749.7" font-size="8.3" text-anchor="start" fill="#000" textLength="36.5" lengthAdjust="spacingAndGlyphs"><tspan style='font-family:"Liberation Sans", sans-serif;font-weight:bold;'>LCL lines</tspan></text>
<rect x="147.6" y="655.4" width="14.4" height="6.0" fill="#fff" stroke="#000" stroke-width="1.0"/>
<rect x="330.5" y="655.0" width="15.2" height="7.4" fill="#000" stroke="none" stroke-width="0"/>
<text x="164.0" y="661.9" font-size="8.6" text-anchor="start" fill="#000" textLength="73.5" lengthAdjust="spacingAndGlyphs"><tspan style='font-family:"Liberation Serif", serif;font-weight:normal;'>γδ</tspan><tspan style='font-family:"Liberation Sans", sans-serif;font-weight:normal;'>TCR</tspan><tspan style='font-family:"Liberation Sans", sans-serif;font-weight:normal;font-size:5.8px;' dy="-3.2">high</tspan><tspan style='font-family:"Liberation Sans", sans-serif;font-weight:normal;' dy="3.2">/ </tspan><tspan style='font-family:"Liberation Serif", serif;font-weight:normal;'>αβ</tspan><tspan style='font-family:"Liberation Sans", sans-serif;font-weight:normal;'>TCR</tspan><tspan style='font-family:"Liberation Sans", sans-serif;font-weight:normal;font-size:5.8px;' dy="-3.2">low</tspan></text>
<text x="348.1" y="661.9" font-size="8.6" text-anchor="start" fill="#000" textLength="73.2" lengthAdjust="spacingAndGlyphs"><tspan style='font-family:"Liberation Serif", serif;font-weight:normal;'>γδ</tspan><tspan style='font-family:"Liberation Sans", sans-serif;font-weight:normal;'>TCR</tspan><tspan style='font-family:"Liberation Sans", sans-serif;font-weight:normal;font-size:5.8px;' dy="-3.2">low</tspan><tspan style='font-family:"Liberation Sans", sans-serif;font-weight:normal;' dy="3.2">/ </tspan><tspan style='font-family:"Liberation Serif", serif;font-weight:normal;'>αβ</tspan><tspan style='font-family:"Liberation Sans", sans-serif;font-weight:normal;'>TCR</tspan><tspan style='font-family:"Liberation Sans", sans-serif;font-weight:normal;font-size:5.8px;' dy="-3.2">high</tspan></text>
</g>
</svg>
</body></html>
